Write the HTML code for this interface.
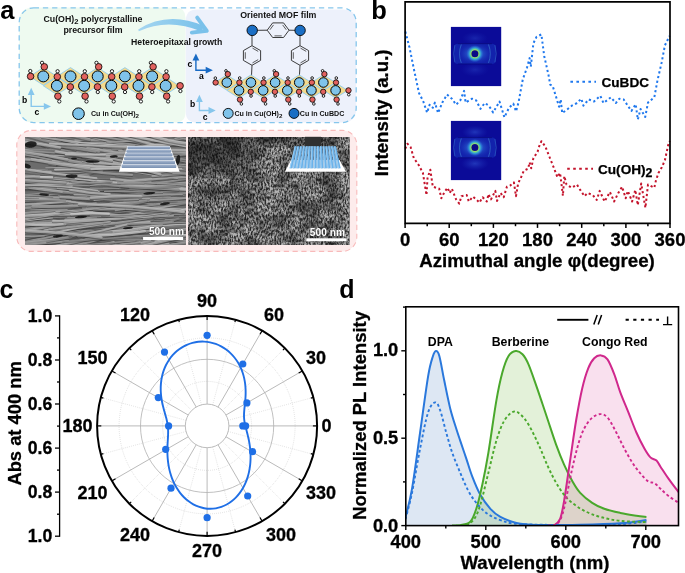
<!DOCTYPE html>
<html><head><meta charset="utf-8"><title>figure</title>
<style>
html,body{margin:0;padding:0;background:#fff;}
body{width:685px;height:573px;overflow:hidden;font-family:"Liberation Sans",sans-serif;}
svg{display:block;}
text{font-family:"Liberation Sans",sans-serif;}
</style></head><body>
<svg width="685" height="573" viewBox="0 0 685 573">
<rect x="0" y="0" width="685" height="573" fill="#ffffff"/>
<g id="pa">
<path d="M33.5 7.6 H175 Q185.5 7.6 185.5 18 V112 Q185.5 122.6 175 122.6 H33.5 Q19.2 122.6 19.2 108.6 V21.6 Q19.2 7.6 33.5 7.6Z" fill="#eefaf0"/>
<path d="M197 9.6 H343 Q356.2 9.6 356.2 22 V108.6 Q356.2 122.6 342.2 122.6 H197 Q185.8 122.6 185.8 112 V21 Q185.8 9.6 197 9.6Z" fill="#edf1fb"/>
<rect x="19.2" y="7.8" width="337" height="114.8" rx="14.5" fill="none" stroke="#86c6ec" stroke-width="1.3" stroke-dasharray="5.3 3.9"/>
<g font-family="Liberation Sans, sans-serif" font-weight="bold" fill="#111" text-anchor="middle">
<text x="93" y="22.2" font-size="8.8">Cu(OH)<tspan dy="2.2" font-size="7.6">2</tspan><tspan dy="-2.2"> polycrystalline</tspan></text>
<text x="93" y="32.5" font-size="8.8">precursor film</text>
<text x="176.7" y="45.3" font-size="8.7">Heteroepitaxal growth</text>
<text x="278.3" y="18.2" font-size="8.8">Oriented MOF film</text>
</g>
<defs><linearGradient id="ag" x1="0" x2="1" y1="0" y2="0"><stop offset="0" stop-color="#a5d6f0"/><stop offset="1" stop-color="#78c0ea"/></linearGradient></defs>
<path d="M138.2 29.4 Q168 10.6 204 26 L201.6 31.4 Q168 17.6 138.8 31.2Z" fill="url(#ag)"/>
<path d="M197.2 17.6 L206.8 30.8 L191.8 32.6" fill="none" stroke="#7ac1ea" stroke-width="3.9" stroke-linecap="round" stroke-linejoin="round"/>
<path d="M29.70 76.40 L43.30 67.60 L56.90 76.40 L43.30 85.20Z" fill="#f3da8e" stroke="#8fcdf0" stroke-width="0.9" stroke-linejoin="round"/>
<path d="M56.90 76.40 L70.50 67.60 L84.10 76.40 L70.50 85.20Z" fill="#f3da8e" stroke="#8fcdf0" stroke-width="0.9" stroke-linejoin="round"/>
<path d="M84.10 76.40 L97.70 67.60 L111.30 76.40 L97.70 85.20Z" fill="#f3da8e" stroke="#8fcdf0" stroke-width="0.9" stroke-linejoin="round"/>
<path d="M111.30 76.40 L124.90 67.60 L138.50 76.40 L124.90 85.20Z" fill="#f3da8e" stroke="#8fcdf0" stroke-width="0.9" stroke-linejoin="round"/>
<path d="M138.50 76.40 L152.10 67.60 L165.70 76.40 L152.10 85.20Z" fill="#f3da8e" stroke="#8fcdf0" stroke-width="0.9" stroke-linejoin="round"/>
<path d="M43.30 85.80 L56.90 77.00 L70.50 85.80 L56.90 94.60Z" fill="#f3da8e" stroke="#8fcdf0" stroke-width="0.9" stroke-linejoin="round"/>
<path d="M70.50 85.80 L84.10 77.00 L97.70 85.80 L84.10 94.60Z" fill="#f3da8e" stroke="#8fcdf0" stroke-width="0.9" stroke-linejoin="round"/>
<path d="M97.70 85.80 L111.30 77.00 L124.90 85.80 L111.30 94.60Z" fill="#f3da8e" stroke="#8fcdf0" stroke-width="0.9" stroke-linejoin="round"/>
<path d="M124.90 85.80 L138.50 77.00 L152.10 85.80 L138.50 94.60Z" fill="#f3da8e" stroke="#8fcdf0" stroke-width="0.9" stroke-linejoin="round"/>
<path d="M152.10 85.80 L165.70 77.00 L179.30 85.80 L165.70 94.60Z" fill="#f3da8e" stroke="#8fcdf0" stroke-width="0.9" stroke-linejoin="round"/>
<circle cx="30.30" cy="71.05" r="1.65" fill="#fff" stroke="#000" stroke-width="0.85"/>
<circle cx="57.60" cy="71.25" r="1.65" fill="#fff" stroke="#000" stroke-width="0.85"/>
<circle cx="59.30" cy="101.45" r="1.65" fill="#fff" stroke="#000" stroke-width="0.85"/>
<circle cx="84.80" cy="71.25" r="1.65" fill="#fff" stroke="#000" stroke-width="0.85"/>
<circle cx="86.50" cy="101.45" r="1.65" fill="#fff" stroke="#000" stroke-width="0.85"/>
<circle cx="112.00" cy="71.25" r="1.65" fill="#fff" stroke="#000" stroke-width="0.85"/>
<circle cx="113.70" cy="101.45" r="1.65" fill="#fff" stroke="#000" stroke-width="0.85"/>
<circle cx="139.20" cy="71.25" r="1.65" fill="#fff" stroke="#000" stroke-width="0.85"/>
<circle cx="140.90" cy="101.45" r="1.65" fill="#fff" stroke="#000" stroke-width="0.85"/>
<circle cx="166.40" cy="71.25" r="1.65" fill="#fff" stroke="#000" stroke-width="0.85"/>
<circle cx="168.10" cy="101.45" r="1.65" fill="#fff" stroke="#000" stroke-width="0.85"/>
<circle cx="70.60" cy="92.05" r="1.65" fill="#fff" stroke="#000" stroke-width="0.85"/>
<circle cx="97.80" cy="92.05" r="1.65" fill="#fff" stroke="#000" stroke-width="0.85"/>
<circle cx="125.00" cy="92.05" r="1.65" fill="#fff" stroke="#000" stroke-width="0.85"/>
<circle cx="152.20" cy="92.05" r="1.65" fill="#fff" stroke="#000" stroke-width="0.85"/>
<circle cx="180.40" cy="91.05" r="1.65" fill="#fff" stroke="#000" stroke-width="0.85"/>
<circle cx="42.06" cy="62.84" r="1.65" fill="#fff" stroke="#000" stroke-width="0.85"/>
<circle cx="96.46" cy="62.84" r="1.65" fill="#fff" stroke="#000" stroke-width="0.85"/>
<circle cx="150.86" cy="62.84" r="1.65" fill="#fff" stroke="#000" stroke-width="0.85"/>
<circle cx="30.60" cy="76.40" r="3.30" fill="#e2625f" stroke="#000" stroke-width="0.8"/>
<circle cx="57.30" cy="76.70" r="3.30" fill="#e2625f" stroke="#000" stroke-width="0.8"/>
<circle cx="57.90" cy="96.20" r="3.30" fill="#e2625f" stroke="#000" stroke-width="0.8"/>
<circle cx="84.50" cy="76.70" r="3.30" fill="#e2625f" stroke="#000" stroke-width="0.8"/>
<circle cx="85.10" cy="96.20" r="3.30" fill="#e2625f" stroke="#000" stroke-width="0.8"/>
<circle cx="111.70" cy="76.70" r="3.30" fill="#e2625f" stroke="#000" stroke-width="0.8"/>
<circle cx="112.30" cy="96.20" r="3.30" fill="#e2625f" stroke="#000" stroke-width="0.8"/>
<circle cx="138.90" cy="76.70" r="3.30" fill="#e2625f" stroke="#000" stroke-width="0.8"/>
<circle cx="139.50" cy="96.20" r="3.30" fill="#e2625f" stroke="#000" stroke-width="0.8"/>
<circle cx="166.10" cy="76.70" r="3.30" fill="#e2625f" stroke="#000" stroke-width="0.8"/>
<circle cx="166.70" cy="96.20" r="3.30" fill="#e2625f" stroke="#000" stroke-width="0.8"/>
<circle cx="70.30" cy="86.90" r="3.30" fill="#e2625f" stroke="#000" stroke-width="0.8"/>
<circle cx="97.50" cy="86.90" r="3.30" fill="#e2625f" stroke="#000" stroke-width="0.8"/>
<circle cx="124.70" cy="86.90" r="3.30" fill="#e2625f" stroke="#000" stroke-width="0.8"/>
<circle cx="151.90" cy="86.90" r="3.30" fill="#e2625f" stroke="#000" stroke-width="0.8"/>
<circle cx="180.10" cy="85.80" r="3.30" fill="#e2625f" stroke="#000" stroke-width="0.8"/>
<circle cx="44.30" cy="66.80" r="3.30" fill="#e2625f" stroke="#000" stroke-width="0.8"/>
<circle cx="98.70" cy="66.80" r="3.30" fill="#e2625f" stroke="#000" stroke-width="0.8"/>
<circle cx="153.10" cy="66.80" r="3.30" fill="#e2625f" stroke="#000" stroke-width="0.8"/>
<circle cx="43.30" cy="76.40" r="5.50" fill="#7fc3ea" stroke="#000" stroke-width="1"/>
<circle cx="70.50" cy="76.40" r="5.50" fill="#7fc3ea" stroke="#000" stroke-width="1"/>
<circle cx="97.70" cy="76.40" r="5.50" fill="#7fc3ea" stroke="#000" stroke-width="1"/>
<circle cx="124.90" cy="76.40" r="5.50" fill="#7fc3ea" stroke="#000" stroke-width="1"/>
<circle cx="152.10" cy="76.40" r="5.50" fill="#7fc3ea" stroke="#000" stroke-width="1"/>
<circle cx="56.90" cy="85.80" r="5.50" fill="#7fc3ea" stroke="#000" stroke-width="1"/>
<circle cx="84.10" cy="85.80" r="5.50" fill="#7fc3ea" stroke="#000" stroke-width="1"/>
<circle cx="111.30" cy="85.80" r="5.50" fill="#7fc3ea" stroke="#000" stroke-width="1"/>
<circle cx="138.50" cy="85.80" r="5.50" fill="#7fc3ea" stroke="#000" stroke-width="1"/>
<circle cx="165.70" cy="85.80" r="5.50" fill="#7fc3ea" stroke="#000" stroke-width="1"/>
<path d="M31.2 92.8 V106.4 H46.0" fill="none" stroke="#86c6ec" stroke-width="1.4"/>
<path d="M31.2 87.8 l-3.4 7.2 h6.8z" fill="#86c6ec"/>
<path d="M51.0 106.4 l-7.2 -3.4 v6.8z" fill="#86c6ec"/>
<text x="24.6" y="102.6" font-family="Liberation Sans, sans-serif" font-weight="bold" font-size="8.6" fill="#000" text-anchor="middle">b</text>
<text x="36.8" y="115.4" font-family="Liberation Sans, sans-serif" font-weight="bold" font-size="8.6" fill="#000" text-anchor="middle">c</text>
<circle cx="78.5" cy="113.7" r="5.8" fill="#7fc3ea" stroke="#000" stroke-width="1"/>
<text x="91" y="116.4" font-family="Liberation Sans, sans-serif" font-weight="bold" font-size="7.1" fill="#111">Cu in Cu(OH)<tspan dy="1.9" font-size="6.2">2</tspan></text>
<g stroke="#333" stroke-width="0.95">
<line x1="252" y1="35" x2="252" y2="45.7"/><line x1="252" y1="65.3" x2="251.4" y2="78"/>
<line x1="300" y1="35" x2="300" y2="45.7"/><line x1="300" y1="65.3" x2="299.3" y2="78"/>
<line x1="257" y1="30.3" x2="267.2" y2="30.2"/><line x1="289" y1="30.2" x2="295" y2="30.3"/>
</g>
<path d="M252.00 45.70 L260.60 50.60 L260.60 60.40 L252.00 65.30 L243.40 60.40 L243.40 50.60Z" fill="none" stroke="#333" stroke-width="0.95" stroke-linejoin="round"/><line x1="252.50" y1="48.14" x2="258.20" y2="51.39" stroke="#333" stroke-width="0.8"/><line x1="258.20" y1="59.61" x2="252.50" y2="62.86" stroke="#333" stroke-width="0.8"/><line x1="245.29" y1="58.75" x2="245.29" y2="52.25" stroke="#333" stroke-width="0.8"/>
<path d="M300.00 45.70 L308.60 50.60 L308.60 60.40 L300.00 65.30 L291.40 60.40 L291.40 50.60Z" fill="none" stroke="#333" stroke-width="0.95" stroke-linejoin="round"/><line x1="300.50" y1="48.14" x2="306.20" y2="51.39" stroke="#333" stroke-width="0.8"/><line x1="306.20" y1="59.61" x2="300.50" y2="62.86" stroke="#333" stroke-width="0.8"/><line x1="293.29" y1="58.75" x2="293.29" y2="52.25" stroke="#333" stroke-width="0.8"/>
<path d="M267.20 30.20 L272.65 22.90 L283.55 22.90 L289.00 30.20 L283.55 37.50 L272.65 37.50Z" fill="none" stroke="#333" stroke-width="0.95" stroke-linejoin="round"/><line x1="269.92" y1="29.77" x2="273.53" y2="24.93" stroke="#333" stroke-width="0.8"/><line x1="282.67" y1="24.93" x2="286.28" y2="29.77" stroke="#333" stroke-width="0.8"/><line x1="281.71" y1="35.89" x2="274.49" y2="35.89" stroke="#333" stroke-width="0.8"/>
<path d="M214.73 82.50 L226.80 74.90 L238.88 82.50 L226.80 90.10Z" fill="#f3da8e" stroke="#8fcdf0" stroke-width="0.9" stroke-linejoin="round"/>
<path d="M238.88 82.50 L250.95 74.90 L263.03 82.50 L250.95 90.10Z" fill="#f3da8e" stroke="#8fcdf0" stroke-width="0.9" stroke-linejoin="round"/>
<path d="M263.03 82.50 L275.10 74.90 L287.18 82.50 L275.10 90.10Z" fill="#f3da8e" stroke="#8fcdf0" stroke-width="0.9" stroke-linejoin="round"/>
<path d="M287.18 82.50 L299.25 74.90 L311.32 82.50 L299.25 90.10Z" fill="#f3da8e" stroke="#8fcdf0" stroke-width="0.9" stroke-linejoin="round"/>
<path d="M311.32 82.50 L323.40 74.90 L335.47 82.50 L323.40 90.10Z" fill="#f3da8e" stroke="#8fcdf0" stroke-width="0.9" stroke-linejoin="round"/>
<path d="M226.93 90.40 L239.00 82.80 L251.07 90.40 L239.00 98.00Z" fill="#f3da8e" stroke="#8fcdf0" stroke-width="0.9" stroke-linejoin="round"/>
<path d="M251.07 90.40 L263.15 82.80 L275.22 90.40 L263.15 98.00Z" fill="#f3da8e" stroke="#8fcdf0" stroke-width="0.9" stroke-linejoin="round"/>
<path d="M275.23 90.40 L287.30 82.80 L299.38 90.40 L287.30 98.00Z" fill="#f3da8e" stroke="#8fcdf0" stroke-width="0.9" stroke-linejoin="round"/>
<path d="M299.38 90.40 L311.45 82.80 L323.52 90.40 L311.45 98.00Z" fill="#f3da8e" stroke="#8fcdf0" stroke-width="0.9" stroke-linejoin="round"/>
<path d="M323.53 90.40 L335.60 82.80 L347.68 90.40 L335.60 98.00Z" fill="#f3da8e" stroke="#8fcdf0" stroke-width="0.9" stroke-linejoin="round"/>
<circle cx="215.33" cy="78.10" r="1.30" fill="#fff" stroke="#000" stroke-width="0.85"/>
<circle cx="239.70" cy="78.00" r="1.30" fill="#fff" stroke="#000" stroke-width="0.85"/>
<circle cx="241.40" cy="103.90" r="1.30" fill="#fff" stroke="#000" stroke-width="0.85"/>
<circle cx="263.85" cy="78.00" r="1.30" fill="#fff" stroke="#000" stroke-width="0.85"/>
<circle cx="265.55" cy="103.90" r="1.30" fill="#fff" stroke="#000" stroke-width="0.85"/>
<circle cx="288.00" cy="78.00" r="1.30" fill="#fff" stroke="#000" stroke-width="0.85"/>
<circle cx="289.70" cy="103.90" r="1.30" fill="#fff" stroke="#000" stroke-width="0.85"/>
<circle cx="312.15" cy="78.00" r="1.30" fill="#fff" stroke="#000" stroke-width="0.85"/>
<circle cx="313.85" cy="103.90" r="1.30" fill="#fff" stroke="#000" stroke-width="0.85"/>
<circle cx="336.30" cy="78.00" r="1.30" fill="#fff" stroke="#000" stroke-width="0.85"/>
<circle cx="338.00" cy="103.90" r="1.30" fill="#fff" stroke="#000" stroke-width="0.85"/>
<circle cx="251.05" cy="96.00" r="1.30" fill="#fff" stroke="#000" stroke-width="0.85"/>
<circle cx="275.20" cy="96.00" r="1.30" fill="#fff" stroke="#000" stroke-width="0.85"/>
<circle cx="299.35" cy="96.00" r="1.30" fill="#fff" stroke="#000" stroke-width="0.85"/>
<circle cx="323.50" cy="96.00" r="1.30" fill="#fff" stroke="#000" stroke-width="0.85"/>
<circle cx="348.78" cy="94.70" r="1.30" fill="#fff" stroke="#000" stroke-width="0.85"/>
<circle cx="225.96" cy="70.86" r="1.30" fill="#fff" stroke="#000" stroke-width="0.85"/>
<circle cx="274.26" cy="70.86" r="1.30" fill="#fff" stroke="#000" stroke-width="0.85"/>
<circle cx="322.56" cy="70.86" r="1.30" fill="#fff" stroke="#000" stroke-width="0.85"/>
<circle cx="215.63" cy="82.50" r="2.70" fill="#e2625f" stroke="#000" stroke-width="0.8"/>
<circle cx="239.40" cy="82.50" r="2.70" fill="#e2625f" stroke="#000" stroke-width="0.8"/>
<circle cx="240.00" cy="99.60" r="2.70" fill="#e2625f" stroke="#000" stroke-width="0.8"/>
<circle cx="263.55" cy="82.50" r="2.70" fill="#e2625f" stroke="#000" stroke-width="0.8"/>
<circle cx="264.15" cy="99.60" r="2.70" fill="#e2625f" stroke="#000" stroke-width="0.8"/>
<circle cx="287.70" cy="82.50" r="2.70" fill="#e2625f" stroke="#000" stroke-width="0.8"/>
<circle cx="288.30" cy="99.60" r="2.70" fill="#e2625f" stroke="#000" stroke-width="0.8"/>
<circle cx="311.85" cy="82.50" r="2.70" fill="#e2625f" stroke="#000" stroke-width="0.8"/>
<circle cx="312.45" cy="99.60" r="2.70" fill="#e2625f" stroke="#000" stroke-width="0.8"/>
<circle cx="336.00" cy="82.50" r="2.70" fill="#e2625f" stroke="#000" stroke-width="0.8"/>
<circle cx="336.60" cy="99.60" r="2.70" fill="#e2625f" stroke="#000" stroke-width="0.8"/>
<circle cx="250.75" cy="91.80" r="2.70" fill="#e2625f" stroke="#000" stroke-width="0.8"/>
<circle cx="274.90" cy="91.80" r="2.70" fill="#e2625f" stroke="#000" stroke-width="0.8"/>
<circle cx="299.05" cy="91.80" r="2.70" fill="#e2625f" stroke="#000" stroke-width="0.8"/>
<circle cx="323.20" cy="91.80" r="2.70" fill="#e2625f" stroke="#000" stroke-width="0.8"/>
<circle cx="348.48" cy="90.40" r="2.70" fill="#e2625f" stroke="#000" stroke-width="0.8"/>
<circle cx="227.80" cy="74.10" r="2.70" fill="#e2625f" stroke="#000" stroke-width="0.8"/>
<circle cx="276.10" cy="74.10" r="2.70" fill="#e2625f" stroke="#000" stroke-width="0.8"/>
<circle cx="324.40" cy="74.10" r="2.70" fill="#e2625f" stroke="#000" stroke-width="0.8"/>
<circle cx="226.80" cy="82.50" r="4.80" fill="#7fc3ea" stroke="#000" stroke-width="1"/>
<circle cx="250.95" cy="82.50" r="4.80" fill="#7fc3ea" stroke="#000" stroke-width="1"/>
<circle cx="275.10" cy="82.50" r="4.80" fill="#7fc3ea" stroke="#000" stroke-width="1"/>
<circle cx="299.25" cy="82.50" r="4.80" fill="#7fc3ea" stroke="#000" stroke-width="1"/>
<circle cx="323.40" cy="82.50" r="4.80" fill="#7fc3ea" stroke="#000" stroke-width="1"/>
<circle cx="239.00" cy="90.40" r="4.80" fill="#7fc3ea" stroke="#000" stroke-width="1"/>
<circle cx="263.15" cy="90.40" r="4.80" fill="#7fc3ea" stroke="#000" stroke-width="1"/>
<circle cx="287.30" cy="90.40" r="4.80" fill="#7fc3ea" stroke="#000" stroke-width="1"/>
<circle cx="311.45" cy="90.40" r="4.80" fill="#7fc3ea" stroke="#000" stroke-width="1"/>
<circle cx="335.60" cy="90.40" r="4.80" fill="#7fc3ea" stroke="#000" stroke-width="1"/>
<circle cx="252.2" cy="30.4" r="5.2" fill="#1a6ec4" stroke="#000" stroke-width="0.9"/>
<circle cx="300.1" cy="30.4" r="5.2" fill="#1a6ec4" stroke="#000" stroke-width="0.9"/>
<path d="M195.9 58.4 V70.2 H207.9" fill="none" stroke="#186ac4" stroke-width="1.4"/>
<path d="M195.9 53.4 l-3.4 7.2 h6.8z" fill="#186ac4"/>
<path d="M212.9 70.2 l-7.2 -3.4 v6.8z" fill="#186ac4"/>
<text x="189.8" y="66.6" font-family="Liberation Sans, sans-serif" font-weight="bold" font-size="8.6" fill="#000" text-anchor="middle">c</text>
<text x="201.3" y="79.4" font-family="Liberation Sans, sans-serif" font-weight="bold" font-size="8.6" fill="#000" text-anchor="middle">a</text>
<path d="M199.4 99.7 V110.5 H210.7" fill="none" stroke="#86c6ec" stroke-width="1.4"/>
<path d="M199.4 94.7 l-3.4 7.2 h6.8z" fill="#86c6ec"/>
<path d="M215.7 110.5 l-7.2 -3.4 v6.8z" fill="#86c6ec"/>
<text x="192.7" y="107.0" font-family="Liberation Sans, sans-serif" font-weight="bold" font-size="8.6" fill="#000" text-anchor="middle">b</text>
<text x="205.2" y="120.2" font-family="Liberation Sans, sans-serif" font-weight="bold" font-size="8.6" fill="#000" text-anchor="middle">c</text>
<circle cx="228.2" cy="113.4" r="5" fill="#7fc3ea" stroke="#000" stroke-width="0.9"/>
<text x="234.4" y="116" font-family="Liberation Sans, sans-serif" font-weight="bold" font-size="7.1" fill="#111">Cu in Cu(OH)<tspan dy="1.9" font-size="6.2">2</tspan></text>
<circle cx="294" cy="113.4" r="5" fill="#1a6ec4" stroke="#000" stroke-width="0.9"/>
<text x="299.8" y="116" font-family="Liberation Sans, sans-serif" font-weight="bold" font-size="7.1" fill="#111">Cu in CuBDC</text>
<rect x="16.8" y="130.4" width="340" height="121" rx="14.5" fill="#fdecec" stroke="#f8baba" stroke-width="1.1" stroke-dasharray="5.2 3.6"/>
<defs><filter id="bl1" x="-5%" y="-5%" width="110%" height="110%"><feGaussianBlur stdDeviation="0.6"/></filter></defs>
<clipPath id="cl1"><rect x="24.9" y="136.9" width="161.1" height="108.2"/></clipPath>
<g clip-path="url(#cl1)">
<rect x="24.9" y="136.9" width="161.1" height="108.2" fill="#6c6c6c"/>
<g filter="url(#bl1)">
<path d="M1.2 218.0 Q41.6 216.2 81.7 210.6" fill="none" stroke="#383838" stroke-width="2.1" stroke-linecap="round" opacity="0.5"/>
<path d="M1.2 216.8 Q41.6 214.9 81.7 209.3" fill="none" stroke="rgb(119,119,119)" stroke-width="2.3" stroke-linecap="round"/>
<path d="M1.2 216.2 Q41.6 214.3 81.7 208.8" fill="none" stroke="rgb(145,145,145)" stroke-width="0.8" stroke-linecap="round" opacity="0.8"/>
<path d="M83.5 190.7 Q108.0 190.1 132.2 194.7" fill="none" stroke="#383838" stroke-width="1.8" stroke-linecap="round" opacity="0.5"/>
<path d="M83.5 189.6 Q108.0 189.0 132.2 193.6" fill="none" stroke="rgb(118,118,118)" stroke-width="2.0" stroke-linecap="round"/>
<path d="M83.5 189.1 Q108.0 188.5 132.2 193.1" fill="none" stroke="rgb(144,144,144)" stroke-width="0.7" stroke-linecap="round" opacity="0.8"/>
<path d="M138.6 153.1 Q160.8 163.3 184.5 169.2" fill="none" stroke="#383838" stroke-width="2.0" stroke-linecap="round" opacity="0.5"/>
<path d="M138.6 151.9 Q160.8 162.0 184.5 167.9" fill="none" stroke="rgb(130,130,130)" stroke-width="2.3" stroke-linecap="round"/>
<path d="M138.6 151.3 Q160.8 161.4 184.5 167.4" fill="none" stroke="rgb(156,156,156)" stroke-width="0.8" stroke-linecap="round" opacity="0.8"/>
<path d="M99.5 136.0 Q127.7 137.5 155.7 140.6" fill="none" stroke="#383838" stroke-width="2.4" stroke-linecap="round" opacity="0.5"/>
<path d="M99.5 134.5 Q127.7 136.1 155.7 139.2" fill="none" stroke="rgb(118,118,118)" stroke-width="2.6" stroke-linecap="round"/>
<path d="M99.5 133.9 Q127.7 135.4 155.7 138.5" fill="none" stroke="rgb(144,144,144)" stroke-width="0.9" stroke-linecap="round" opacity="0.8"/>
<path d="M19.5 228.8 Q39.5 228.0 59.5 229.1" fill="none" stroke="#383838" stroke-width="1.7" stroke-linecap="round" opacity="0.5"/>
<path d="M19.5 227.7 Q39.5 227.0 59.5 228.1" fill="none" stroke="rgb(112,112,112)" stroke-width="1.9" stroke-linecap="round"/>
<path d="M19.5 227.2 Q39.5 226.5 59.5 227.6" fill="none" stroke="rgb(138,138,138)" stroke-width="0.7" stroke-linecap="round" opacity="0.8"/>
<path d="M86.2 153.9 Q102.7 154.2 118.9 157.9" fill="none" stroke="#383838" stroke-width="2.1" stroke-linecap="round" opacity="0.5"/>
<path d="M86.2 152.6 Q102.7 152.9 118.9 156.6" fill="none" stroke="rgb(111,111,111)" stroke-width="2.3" stroke-linecap="round"/>
<path d="M86.2 152.0 Q102.7 152.3 118.9 156.1" fill="none" stroke="rgb(137,137,137)" stroke-width="0.8" stroke-linecap="round" opacity="0.8"/>
<path d="M150.0 241.6 Q194.9 235.8 240.1 234.4" fill="none" stroke="#383838" stroke-width="2.0" stroke-linecap="round" opacity="0.5"/>
<path d="M150.0 240.3 Q194.9 234.5 240.1 233.2" fill="none" stroke="rgb(101,101,101)" stroke-width="2.2" stroke-linecap="round"/>
<path d="M150.0 239.8 Q194.9 234.0 240.1 232.7" fill="none" stroke="rgb(127,127,127)" stroke-width="0.8" stroke-linecap="round" opacity="0.8"/>
<path d="M77.9 228.2 Q101.0 229.1 123.9 231.6" fill="none" stroke="#383838" stroke-width="1.5" stroke-linecap="round" opacity="0.5"/>
<path d="M77.9 227.3 Q101.0 228.2 123.9 230.7" fill="none" stroke="rgb(106,106,106)" stroke-width="1.7" stroke-linecap="round"/>
<path d="M41.4 177.1 Q96.1 179.7 150.9 179.6" fill="none" stroke="#383838" stroke-width="1.0" stroke-linecap="round" opacity="0.5"/>
<path d="M41.4 176.5 Q96.1 179.0 150.9 179.0" fill="none" stroke="rgb(120,120,120)" stroke-width="1.2" stroke-linecap="round"/>
<path d="M165.2 195.2 Q199.7 191.9 234.1 187.3" fill="none" stroke="#383838" stroke-width="1.2" stroke-linecap="round" opacity="0.5"/>
<path d="M165.2 194.5 Q199.7 191.2 234.1 186.6" fill="none" stroke="rgb(112,112,112)" stroke-width="1.4" stroke-linecap="round"/>
<path d="M94.0 206.4 Q116.3 205.7 138.5 207.0" fill="none" stroke="#383838" stroke-width="2.3" stroke-linecap="round" opacity="0.5"/>
<path d="M94.0 204.9 Q116.3 204.3 138.5 205.6" fill="none" stroke="rgb(129,129,129)" stroke-width="2.6" stroke-linecap="round"/>
<path d="M94.0 204.3 Q116.3 203.7 138.5 204.9" fill="none" stroke="rgb(155,155,155)" stroke-width="0.9" stroke-linecap="round" opacity="0.8"/>
<path d="M105.2 166.2 Q124.2 169.1 142.8 173.4" fill="none" stroke="#383838" stroke-width="2.1" stroke-linecap="round" opacity="0.5"/>
<path d="M105.2 165.0 Q124.2 167.8 142.8 172.1" fill="none" stroke="rgb(128,128,128)" stroke-width="2.3" stroke-linecap="round"/>
<path d="M105.2 164.4 Q124.2 167.2 142.8 171.5" fill="none" stroke="rgb(154,154,154)" stroke-width="0.8" stroke-linecap="round" opacity="0.8"/>
<path d="M89.6 210.7 Q140.4 215.7 191.4 215.1" fill="none" stroke="#383838" stroke-width="2.4" stroke-linecap="round" opacity="0.5"/>
<path d="M89.6 209.2 Q140.4 214.2 191.4 213.7" fill="none" stroke="rgb(115,115,115)" stroke-width="2.7" stroke-linecap="round"/>
<path d="M89.6 208.6 Q140.4 213.5 191.4 213.0" fill="none" stroke="rgb(141,141,141)" stroke-width="0.9" stroke-linecap="round" opacity="0.8"/>
<path d="M88.4 241.3 Q122.5 234.9 157.1 232.5" fill="none" stroke="#383838" stroke-width="2.2" stroke-linecap="round" opacity="0.5"/>
<path d="M88.4 239.9 Q122.5 233.5 157.1 231.1" fill="none" stroke="rgb(126,126,126)" stroke-width="2.5" stroke-linecap="round"/>
<path d="M88.4 239.3 Q122.5 232.9 157.1 230.5" fill="none" stroke="rgb(152,152,152)" stroke-width="0.9" stroke-linecap="round" opacity="0.8"/>
<path d="M-21.8 236.9 Q22.8 225.7 68.1 217.3" fill="none" stroke="#383838" stroke-width="1.0" stroke-linecap="round" opacity="0.5"/>
<path d="M-21.8 236.3 Q22.8 225.1 68.1 216.7" fill="none" stroke="rgb(122,122,122)" stroke-width="1.1" stroke-linecap="round"/>
<path d="M43.6 181.0 Q65.0 185.9 87.0 185.1" fill="none" stroke="#383838" stroke-width="2.3" stroke-linecap="round" opacity="0.5"/>
<path d="M43.6 179.6 Q65.0 184.5 87.0 183.7" fill="none" stroke="rgb(124,124,124)" stroke-width="2.5" stroke-linecap="round"/>
<path d="M43.6 179.0 Q65.0 183.9 87.0 183.0" fill="none" stroke="rgb(150,150,150)" stroke-width="0.9" stroke-linecap="round" opacity="0.8"/>
<path d="M127.5 187.1 Q152.7 187.0 177.4 192.5" fill="none" stroke="#383838" stroke-width="2.0" stroke-linecap="round" opacity="0.5"/>
<path d="M127.5 185.9 Q152.7 185.7 177.4 191.2" fill="none" stroke="rgb(115,115,115)" stroke-width="2.2" stroke-linecap="round"/>
<path d="M127.5 185.3 Q152.7 185.2 177.4 190.7" fill="none" stroke="rgb(141,141,141)" stroke-width="0.8" stroke-linecap="round" opacity="0.8"/>
<path d="M3.6 231.0 Q50.4 231.7 97.2 231.5" fill="none" stroke="#383838" stroke-width="1.6" stroke-linecap="round" opacity="0.5"/>
<path d="M3.6 230.1 Q50.4 230.8 97.2 230.5" fill="none" stroke="rgb(107,107,107)" stroke-width="1.7" stroke-linecap="round"/>
<path d="M3.6 229.7 Q50.4 230.4 97.2 230.1" fill="none" stroke="rgb(133,133,133)" stroke-width="0.6" stroke-linecap="round" opacity="0.8"/>
<path d="M135.9 168.0 Q172.2 170.4 208.6 170.5" fill="none" stroke="#383838" stroke-width="0.9" stroke-linecap="round" opacity="0.5"/>
<path d="M135.9 167.5 Q172.2 169.8 208.6 169.9" fill="none" stroke="rgb(141,141,141)" stroke-width="1.0" stroke-linecap="round"/>
<path d="M153.5 135.6 Q192.2 135.3 230.9 137.9" fill="none" stroke="#383838" stroke-width="1.8" stroke-linecap="round" opacity="0.5"/>
<path d="M153.5 134.5 Q192.2 134.2 230.9 136.8" fill="none" stroke="rgb(99,99,99)" stroke-width="2.0" stroke-linecap="round"/>
<path d="M153.5 134.0 Q192.2 133.7 230.9 136.3" fill="none" stroke="rgb(125,125,125)" stroke-width="0.7" stroke-linecap="round" opacity="0.8"/>
<path d="M36.3 249.0 Q87.2 242.1 138.5 240.9" fill="none" stroke="#383838" stroke-width="1.0" stroke-linecap="round" opacity="0.5"/>
<path d="M36.3 248.4 Q87.2 241.5 138.5 240.2" fill="none" stroke="rgb(124,124,124)" stroke-width="1.2" stroke-linecap="round"/>
<path d="M45.7 146.7 Q95.4 149.3 144.9 154.0" fill="none" stroke="#383838" stroke-width="1.7" stroke-linecap="round" opacity="0.5"/>
<path d="M45.7 145.6 Q95.4 148.2 144.9 152.9" fill="none" stroke="rgb(114,114,114)" stroke-width="1.9" stroke-linecap="round"/>
<path d="M45.7 145.1 Q95.4 147.7 144.9 152.4" fill="none" stroke="rgb(140,140,140)" stroke-width="0.7" stroke-linecap="round" opacity="0.8"/>
<path d="M82.8 157.3 Q104.2 159.9 125.8 162.0" fill="none" stroke="#383838" stroke-width="2.0" stroke-linecap="round" opacity="0.5"/>
<path d="M82.8 156.1 Q104.2 158.7 125.8 160.7" fill="none" stroke="rgb(131,131,131)" stroke-width="2.2" stroke-linecap="round"/>
<path d="M82.8 155.5 Q104.2 158.2 125.8 160.2" fill="none" stroke="rgb(157,157,157)" stroke-width="0.8" stroke-linecap="round" opacity="0.8"/>
<path d="M-31.2 217.1 Q18.7 215.8 68.7 215.0" fill="none" stroke="#383838" stroke-width="0.9" stroke-linecap="round" opacity="0.5"/>
<path d="M-31.2 216.6 Q18.7 215.3 68.7 214.4" fill="none" stroke="rgb(97,97,97)" stroke-width="1.0" stroke-linecap="round"/>
<path d="M0.1 224.4 Q22.0 221.8 44.0 221.3" fill="none" stroke="#383838" stroke-width="2.0" stroke-linecap="round" opacity="0.5"/>
<path d="M0.1 223.2 Q22.0 220.6 44.0 220.1" fill="none" stroke="rgb(110,110,110)" stroke-width="2.2" stroke-linecap="round"/>
<path d="M0.1 222.7 Q22.0 220.0 44.0 219.6" fill="none" stroke="rgb(136,136,136)" stroke-width="0.8" stroke-linecap="round" opacity="0.8"/>
<path d="M-9.4 176.7 Q17.9 179.4 45.2 181.5" fill="none" stroke="#383838" stroke-width="1.7" stroke-linecap="round" opacity="0.5"/>
<path d="M-9.4 175.7 Q17.9 178.4 45.2 180.5" fill="none" stroke="rgb(114,114,114)" stroke-width="1.9" stroke-linecap="round"/>
<path d="M-9.4 175.2 Q17.9 177.9 45.2 180.1" fill="none" stroke="rgb(140,140,140)" stroke-width="0.6" stroke-linecap="round" opacity="0.8"/>
<path d="M152.1 146.6 Q191.1 144.7 230.1 145.0" fill="none" stroke="#383838" stroke-width="2.4" stroke-linecap="round" opacity="0.5"/>
<path d="M152.1 145.2 Q191.1 143.2 230.1 143.5" fill="none" stroke="rgb(119,119,119)" stroke-width="2.6" stroke-linecap="round"/>
<path d="M152.1 144.5 Q191.1 142.6 230.1 142.9" fill="none" stroke="rgb(145,145,145)" stroke-width="0.9" stroke-linecap="round" opacity="0.8"/>
<path d="M106.5 190.4 Q143.7 194.6 180.6 200.5" fill="none" stroke="#383838" stroke-width="2.4" stroke-linecap="round" opacity="0.5"/>
<path d="M106.5 188.9 Q143.7 193.1 180.6 199.0" fill="none" stroke="rgb(130,130,130)" stroke-width="2.7" stroke-linecap="round"/>
<path d="M106.5 188.3 Q143.7 192.5 180.6 198.4" fill="none" stroke="rgb(156,156,156)" stroke-width="0.9" stroke-linecap="round" opacity="0.8"/>
<path d="M51.5 251.2 Q70.8 251.2 89.9 248.0" fill="none" stroke="#383838" stroke-width="2.1" stroke-linecap="round" opacity="0.5"/>
<path d="M51.5 249.9 Q70.8 249.9 89.9 246.7" fill="none" stroke="rgb(123,123,123)" stroke-width="2.4" stroke-linecap="round"/>
<path d="M51.5 249.3 Q70.8 249.3 89.9 246.1" fill="none" stroke="rgb(149,149,149)" stroke-width="0.8" stroke-linecap="round" opacity="0.8"/>
<path d="M79.8 207.3 Q95.5 205.5 111.3 205.0" fill="none" stroke="#383838" stroke-width="1.7" stroke-linecap="round" opacity="0.5"/>
<path d="M79.8 206.3 Q95.5 204.4 111.3 204.0" fill="none" stroke="rgb(109,109,109)" stroke-width="1.9" stroke-linecap="round"/>
<path d="M79.8 205.8 Q95.5 204.0 111.3 203.5" fill="none" stroke="rgb(135,135,135)" stroke-width="0.7" stroke-linecap="round" opacity="0.8"/>
<path d="M69.7 159.9 Q86.6 162.2 103.6 160.7" fill="none" stroke="#383838" stroke-width="2.0" stroke-linecap="round" opacity="0.5"/>
<path d="M69.7 158.7 Q86.6 161.0 103.6 159.5" fill="none" stroke="rgb(124,124,124)" stroke-width="2.2" stroke-linecap="round"/>
<path d="M69.7 158.2 Q86.6 160.5 103.6 158.9" fill="none" stroke="rgb(150,150,150)" stroke-width="0.8" stroke-linecap="round" opacity="0.8"/>
<path d="M123.8 188.2 Q148.3 189.8 172.6 185.8" fill="none" stroke="#383838" stroke-width="1.9" stroke-linecap="round" opacity="0.5"/>
<path d="M123.8 187.1 Q148.3 188.7 172.6 184.7" fill="none" stroke="rgb(131,131,131)" stroke-width="2.1" stroke-linecap="round"/>
<path d="M123.8 186.6 Q148.3 188.1 172.6 184.2" fill="none" stroke="rgb(157,157,157)" stroke-width="0.7" stroke-linecap="round" opacity="0.8"/>
<path d="M-8.4 190.6 Q26.2 190.7 60.9 189.2" fill="none" stroke="#383838" stroke-width="2.1" stroke-linecap="round" opacity="0.5"/>
<path d="M-8.4 189.3 Q26.2 189.4 60.9 187.9" fill="none" stroke="rgb(94,94,94)" stroke-width="2.3" stroke-linecap="round"/>
<path d="M-8.4 188.8 Q26.2 188.8 60.9 187.4" fill="none" stroke="rgb(120,120,120)" stroke-width="0.8" stroke-linecap="round" opacity="0.8"/>
<path d="M105.6 214.7 Q155.0 213.8 204.1 207.9" fill="none" stroke="#383838" stroke-width="1.3" stroke-linecap="round" opacity="0.5"/>
<path d="M105.6 214.0 Q155.0 213.0 204.1 207.1" fill="none" stroke="rgb(102,102,102)" stroke-width="1.4" stroke-linecap="round"/>
<path d="M36.7 194.8 Q83.9 203.8 130.6 214.9" fill="none" stroke="#383838" stroke-width="0.9" stroke-linecap="round" opacity="0.5"/>
<path d="M36.7 194.3 Q83.9 203.2 130.6 214.4" fill="none" stroke="rgb(112,112,112)" stroke-width="1.0" stroke-linecap="round"/>
<path d="M48.7 179.1 Q69.5 181.9 90.3 179.3" fill="none" stroke="#383838" stroke-width="1.4" stroke-linecap="round" opacity="0.5"/>
<path d="M48.7 178.3 Q69.5 181.0 90.3 178.5" fill="none" stroke="rgb(119,119,119)" stroke-width="1.5" stroke-linecap="round"/>
<path d="M132.6 184.8 Q151.9 186.4 170.9 190.0" fill="none" stroke="#383838" stroke-width="1.2" stroke-linecap="round" opacity="0.5"/>
<path d="M132.6 184.0 Q151.9 185.6 170.9 189.2" fill="none" stroke="rgb(116,116,116)" stroke-width="1.3" stroke-linecap="round"/>
<path d="M107.1 212.1 Q132.4 215.0 157.9 213.7" fill="none" stroke="#383838" stroke-width="1.3" stroke-linecap="round" opacity="0.5"/>
<path d="M107.1 211.3 Q132.4 214.2 157.9 212.9" fill="none" stroke="rgb(118,118,118)" stroke-width="1.4" stroke-linecap="round"/>
<path d="M16.3 215.0 Q39.4 215.6 62.1 211.0" fill="none" stroke="#383838" stroke-width="1.5" stroke-linecap="round" opacity="0.5"/>
<path d="M16.3 214.1 Q39.4 214.7 62.1 210.1" fill="none" stroke="rgb(115,115,115)" stroke-width="1.6" stroke-linecap="round"/>
<path d="M59.5 184.0 Q99.2 183.2 138.8 185.2" fill="none" stroke="#383838" stroke-width="1.5" stroke-linecap="round" opacity="0.5"/>
<path d="M59.5 183.1 Q99.2 182.3 138.8 184.3" fill="none" stroke="rgb(129,129,129)" stroke-width="1.7" stroke-linecap="round"/>
<path d="M29.5 246.3 Q45.8 242.9 62.3 245.2" fill="none" stroke="#383838" stroke-width="2.0" stroke-linecap="round" opacity="0.5"/>
<path d="M29.5 245.1 Q45.8 241.7 62.3 244.0" fill="none" stroke="rgb(93,93,93)" stroke-width="2.2" stroke-linecap="round"/>
<path d="M29.5 244.6 Q45.8 241.1 62.3 243.4" fill="none" stroke="rgb(119,119,119)" stroke-width="0.8" stroke-linecap="round" opacity="0.8"/>
<path d="M66.6 134.0 Q105.7 138.3 144.8 142.1" fill="none" stroke="#383838" stroke-width="0.9" stroke-linecap="round" opacity="0.5"/>
<path d="M66.6 133.4 Q105.7 137.7 144.8 141.5" fill="none" stroke="rgb(112,112,112)" stroke-width="1.0" stroke-linecap="round"/>
<path d="M-5.0 165.7 Q27.8 171.2 60.9 173.3" fill="none" stroke="#383838" stroke-width="1.1" stroke-linecap="round" opacity="0.5"/>
<path d="M-5.0 165.0 Q27.8 170.5 60.9 172.6" fill="none" stroke="rgb(114,114,114)" stroke-width="1.2" stroke-linecap="round"/>
<path d="M150.1 194.9 Q167.1 193.8 184.0 196.0" fill="none" stroke="#383838" stroke-width="1.7" stroke-linecap="round" opacity="0.5"/>
<path d="M150.1 193.9 Q167.1 192.8 184.0 195.0" fill="none" stroke="rgb(134,134,134)" stroke-width="1.9" stroke-linecap="round"/>
<path d="M150.1 193.4 Q167.1 192.3 184.0 194.5" fill="none" stroke="rgb(160,160,160)" stroke-width="0.7" stroke-linecap="round" opacity="0.8"/>
<path d="M111.3 235.3 Q163.1 229.5 215.1 228.7" fill="none" stroke="#383838" stroke-width="1.8" stroke-linecap="round" opacity="0.5"/>
<path d="M111.3 234.2 Q163.1 228.4 215.1 227.6" fill="none" stroke="rgb(120,120,120)" stroke-width="2.0" stroke-linecap="round"/>
<path d="M111.3 233.7 Q163.1 227.9 215.1 227.1" fill="none" stroke="rgb(146,146,146)" stroke-width="0.7" stroke-linecap="round" opacity="0.8"/>
<path d="M136.5 222.9 Q181.9 221.6 227.2 219.1" fill="none" stroke="#383838" stroke-width="2.1" stroke-linecap="round" opacity="0.5"/>
<path d="M136.5 221.6 Q181.9 220.3 227.2 217.8" fill="none" stroke="rgb(126,126,126)" stroke-width="2.4" stroke-linecap="round"/>
<path d="M136.5 221.0 Q181.9 219.7 227.2 217.2" fill="none" stroke="rgb(152,152,152)" stroke-width="0.8" stroke-linecap="round" opacity="0.8"/>
<path d="M81.4 189.3 Q128.4 187.3 175.4 187.7" fill="none" stroke="#383838" stroke-width="1.4" stroke-linecap="round" opacity="0.5"/>
<path d="M81.4 188.4 Q128.4 186.4 175.4 186.8" fill="none" stroke="rgb(131,131,131)" stroke-width="1.6" stroke-linecap="round"/>
<path d="M111.9 237.5 Q129.7 235.7 147.6 237.5" fill="none" stroke="#383838" stroke-width="1.9" stroke-linecap="round" opacity="0.5"/>
<path d="M111.9 236.3 Q129.7 234.5 147.6 236.3" fill="none" stroke="rgb(129,129,129)" stroke-width="2.2" stroke-linecap="round"/>
<path d="M111.9 235.8 Q129.7 233.9 147.6 235.8" fill="none" stroke="rgb(155,155,155)" stroke-width="0.8" stroke-linecap="round" opacity="0.8"/>
<path d="M45.0 140.9 Q61.5 138.8 78.0 140.8" fill="none" stroke="#383838" stroke-width="1.9" stroke-linecap="round" opacity="0.5"/>
<path d="M45.0 139.8 Q61.5 137.7 78.0 139.7" fill="none" stroke="rgb(123,123,123)" stroke-width="2.1" stroke-linecap="round"/>
<path d="M45.0 139.2 Q61.5 137.1 78.0 139.2" fill="none" stroke="rgb(149,149,149)" stroke-width="0.7" stroke-linecap="round" opacity="0.8"/>
<path d="M-6.0 249.5 Q29.8 242.4 65.6 235.1" fill="none" stroke="#383838" stroke-width="2.0" stroke-linecap="round" opacity="0.5"/>
<path d="M-6.0 248.2 Q29.8 241.2 65.6 233.9" fill="none" stroke="rgb(133,133,133)" stroke-width="2.2" stroke-linecap="round"/>
<path d="M-6.0 247.7 Q29.8 240.7 65.6 233.3" fill="none" stroke="rgb(159,159,159)" stroke-width="0.8" stroke-linecap="round" opacity="0.8"/>
<path d="M1.3 230.1 Q24.9 230.8 48.4 230.1" fill="none" stroke="#383838" stroke-width="1.7" stroke-linecap="round" opacity="0.5"/>
<path d="M1.3 229.0 Q24.9 229.8 48.4 229.0" fill="none" stroke="rgb(126,126,126)" stroke-width="1.9" stroke-linecap="round"/>
<path d="M1.3 228.6 Q24.9 229.3 48.4 228.5" fill="none" stroke="rgb(152,152,152)" stroke-width="0.7" stroke-linecap="round" opacity="0.8"/>
<path d="M8.4 215.3 Q43.1 219.1 77.9 218.0" fill="none" stroke="#383838" stroke-width="2.1" stroke-linecap="round" opacity="0.5"/>
<path d="M8.4 214.0 Q43.1 217.8 77.9 216.7" fill="none" stroke="rgb(144,144,144)" stroke-width="2.4" stroke-linecap="round"/>
<path d="M8.4 213.4 Q43.1 217.2 77.9 216.1" fill="none" stroke="rgb(170,170,170)" stroke-width="0.8" stroke-linecap="round" opacity="0.8"/>
<path d="M94.2 152.3 Q139.3 162.3 185.3 166.8" fill="none" stroke="#383838" stroke-width="2.3" stroke-linecap="round" opacity="0.5"/>
<path d="M94.2 150.9 Q139.3 160.9 185.3 165.4" fill="none" stroke="rgb(113,113,113)" stroke-width="2.5" stroke-linecap="round"/>
<path d="M94.2 150.3 Q139.3 160.3 185.3 164.7" fill="none" stroke="rgb(139,139,139)" stroke-width="0.9" stroke-linecap="round" opacity="0.8"/>
<path d="M32.2 248.2 Q84.5 243.9 136.7 238.2" fill="none" stroke="#383838" stroke-width="1.4" stroke-linecap="round" opacity="0.5"/>
<path d="M32.2 247.4 Q84.5 243.0 136.7 237.3" fill="none" stroke="rgb(121,121,121)" stroke-width="1.6" stroke-linecap="round"/>
<path d="M85.1 220.0 Q125.8 224.0 166.8 223.5" fill="none" stroke="#383838" stroke-width="1.7" stroke-linecap="round" opacity="0.5"/>
<path d="M85.1 219.0 Q125.8 223.0 166.8 222.4" fill="none" stroke="rgb(148,148,148)" stroke-width="1.9" stroke-linecap="round"/>
<path d="M85.1 218.5 Q125.8 222.5 166.8 222.0" fill="none" stroke="rgb(174,174,174)" stroke-width="0.7" stroke-linecap="round" opacity="0.8"/>
<path d="M12.4 253.7 Q49.3 249.4 86.5 246.8" fill="none" stroke="#383838" stroke-width="2.3" stroke-linecap="round" opacity="0.5"/>
<path d="M12.4 252.3 Q49.3 248.1 86.5 245.5" fill="none" stroke="rgb(102,102,102)" stroke-width="2.5" stroke-linecap="round"/>
<path d="M12.4 251.7 Q49.3 247.4 86.5 244.8" fill="none" stroke="rgb(128,128,128)" stroke-width="0.9" stroke-linecap="round" opacity="0.8"/>
<path d="M3.7 183.3 Q25.5 178.7 47.7 178.5" fill="none" stroke="#383838" stroke-width="1.5" stroke-linecap="round" opacity="0.5"/>
<path d="M3.7 182.4 Q25.5 177.8 47.7 177.6" fill="none" stroke="rgb(117,117,117)" stroke-width="1.6" stroke-linecap="round"/>
<path d="M-22.8 177.4 Q15.4 180.5 52.9 188.2" fill="none" stroke="#383838" stroke-width="1.2" stroke-linecap="round" opacity="0.5"/>
<path d="M-22.8 176.6 Q15.4 179.7 52.9 187.5" fill="none" stroke="rgb(126,126,126)" stroke-width="1.4" stroke-linecap="round"/>
<path d="M136.4 196.3 Q187.2 194.0 238.0 192.6" fill="none" stroke="#383838" stroke-width="1.3" stroke-linecap="round" opacity="0.5"/>
<path d="M136.4 195.6 Q187.2 193.2 238.0 191.8" fill="none" stroke="rgb(123,123,123)" stroke-width="1.4" stroke-linecap="round"/>
<path d="M87.5 227.6 Q132.3 222.7 177.2 219.3" fill="none" stroke="#383838" stroke-width="1.6" stroke-linecap="round" opacity="0.5"/>
<path d="M87.5 226.6 Q132.3 221.7 177.2 218.3" fill="none" stroke="rgb(115,115,115)" stroke-width="1.7" stroke-linecap="round"/>
<path d="M87.5 226.2 Q132.3 221.3 177.2 217.9" fill="none" stroke="rgb(141,141,141)" stroke-width="0.6" stroke-linecap="round" opacity="0.8"/>
<path d="M67.0 163.4 Q103.4 165.6 139.9 166.7" fill="none" stroke="#383838" stroke-width="2.2" stroke-linecap="round" opacity="0.5"/>
<path d="M67.0 162.1 Q103.4 164.3 139.9 165.4" fill="none" stroke="rgb(124,124,124)" stroke-width="2.4" stroke-linecap="round"/>
<path d="M67.0 161.5 Q103.4 163.7 139.9 164.8" fill="none" stroke="rgb(150,150,150)" stroke-width="0.8" stroke-linecap="round" opacity="0.8"/>
<path d="M119.1 218.2 Q163.4 216.4 207.5 220.6" fill="none" stroke="#383838" stroke-width="1.5" stroke-linecap="round" opacity="0.5"/>
<path d="M119.1 217.3 Q163.4 215.5 207.5 219.7" fill="none" stroke="rgb(123,123,123)" stroke-width="1.7" stroke-linecap="round"/>
<path d="M98.8 199.7 Q136.8 202.6 174.9 202.8" fill="none" stroke="#383838" stroke-width="1.2" stroke-linecap="round" opacity="0.5"/>
<path d="M98.8 198.9 Q136.8 201.9 174.9 202.0" fill="none" stroke="rgb(124,124,124)" stroke-width="1.4" stroke-linecap="round"/>
<path d="M148.0 191.5 Q165.1 189.8 182.3 188.5" fill="none" stroke="#383838" stroke-width="1.7" stroke-linecap="round" opacity="0.5"/>
<path d="M148.0 190.5 Q165.1 188.8 182.3 187.5" fill="none" stroke="rgb(141,141,141)" stroke-width="1.8" stroke-linecap="round"/>
<path d="M148.0 190.1 Q165.1 188.3 182.3 187.0" fill="none" stroke="rgb(167,167,167)" stroke-width="0.6" stroke-linecap="round" opacity="0.8"/>
<path d="M45.5 210.2 Q84.3 206.4 123.1 204.2" fill="none" stroke="#383838" stroke-width="2.0" stroke-linecap="round" opacity="0.5"/>
<path d="M45.5 209.0 Q84.3 205.2 123.1 202.9" fill="none" stroke="rgb(100,100,100)" stroke-width="2.3" stroke-linecap="round"/>
<path d="M45.5 208.4 Q84.3 204.6 123.1 202.3" fill="none" stroke="rgb(126,126,126)" stroke-width="0.8" stroke-linecap="round" opacity="0.8"/>
<path d="M11.0 225.7 Q57.8 227.4 104.5 224.5" fill="none" stroke="#383838" stroke-width="2.2" stroke-linecap="round" opacity="0.5"/>
<path d="M11.0 224.4 Q57.8 226.1 104.5 223.2" fill="none" stroke="rgb(120,120,120)" stroke-width="2.4" stroke-linecap="round"/>
<path d="M11.0 223.7 Q57.8 225.5 104.5 222.5" fill="none" stroke="rgb(146,146,146)" stroke-width="0.9" stroke-linecap="round" opacity="0.8"/>
<path d="M-15.3 163.6 Q24.5 170.6 64.6 175.3" fill="none" stroke="#383838" stroke-width="1.3" stroke-linecap="round" opacity="0.5"/>
<path d="M-15.3 162.8 Q24.5 169.8 64.6 174.5" fill="none" stroke="rgb(144,144,144)" stroke-width="1.5" stroke-linecap="round"/>
<path d="M43.2 160.1 Q66.5 160.1 89.7 157.9" fill="none" stroke="#383838" stroke-width="1.2" stroke-linecap="round" opacity="0.5"/>
<path d="M43.2 159.3 Q66.5 159.4 89.7 157.2" fill="none" stroke="rgb(125,125,125)" stroke-width="1.4" stroke-linecap="round"/>
<path d="M44.2 209.3 Q74.0 210.1 103.7 208.6" fill="none" stroke="#383838" stroke-width="1.0" stroke-linecap="round" opacity="0.5"/>
<path d="M44.2 208.7 Q74.0 209.5 103.7 208.0" fill="none" stroke="rgb(131,131,131)" stroke-width="1.1" stroke-linecap="round"/>
<path d="M38.9 143.9 Q88.9 149.0 139.0 153.0" fill="none" stroke="#383838" stroke-width="2.0" stroke-linecap="round" opacity="0.5"/>
<path d="M38.9 142.6 Q88.9 147.8 139.0 151.8" fill="none" stroke="rgb(122,122,122)" stroke-width="2.2" stroke-linecap="round"/>
<path d="M38.9 142.1 Q88.9 147.2 139.0 151.2" fill="none" stroke="rgb(148,148,148)" stroke-width="0.8" stroke-linecap="round" opacity="0.8"/>
<path d="M41.3 196.0 Q94.6 191.4 148.1 188.5" fill="none" stroke="#383838" stroke-width="1.9" stroke-linecap="round" opacity="0.5"/>
<path d="M41.3 194.8 Q94.6 190.3 148.1 187.3" fill="none" stroke="rgb(138,138,138)" stroke-width="2.1" stroke-linecap="round"/>
<path d="M41.3 194.3 Q94.6 189.7 148.1 186.8" fill="none" stroke="rgb(164,164,164)" stroke-width="0.7" stroke-linecap="round" opacity="0.8"/>
<path d="M36.1 227.2 Q76.3 223.1 116.1 215.6" fill="none" stroke="#383838" stroke-width="1.2" stroke-linecap="round" opacity="0.5"/>
<path d="M36.1 226.4 Q76.3 222.3 116.1 214.8" fill="none" stroke="rgb(129,129,129)" stroke-width="1.4" stroke-linecap="round"/>
<path d="M-19.5 209.0 Q13.7 206.3 46.9 208.5" fill="none" stroke="#383838" stroke-width="1.8" stroke-linecap="round" opacity="0.5"/>
<path d="M-19.5 207.9 Q13.7 205.2 46.9 207.4" fill="none" stroke="rgb(142,142,142)" stroke-width="2.0" stroke-linecap="round"/>
<path d="M-19.5 207.4 Q13.7 204.7 46.9 206.9" fill="none" stroke="rgb(168,168,168)" stroke-width="0.7" stroke-linecap="round" opacity="0.8"/>
<path d="M56.7 150.1 Q103.7 150.1 150.4 155.5" fill="none" stroke="#383838" stroke-width="1.2" stroke-linecap="round" opacity="0.5"/>
<path d="M56.7 149.4 Q103.7 149.4 150.4 154.8" fill="none" stroke="rgb(135,135,135)" stroke-width="1.4" stroke-linecap="round"/>
<path d="M5.9 146.2 Q45.5 151.4 85.2 156.2" fill="none" stroke="#383838" stroke-width="1.1" stroke-linecap="round" opacity="0.5"/>
<path d="M5.9 145.5 Q45.5 150.7 85.2 155.5" fill="none" stroke="rgb(117,117,117)" stroke-width="1.2" stroke-linecap="round"/>
<path d="M-13.3 178.0 Q32.2 178.6 77.3 184.1" fill="none" stroke="#383838" stroke-width="1.7" stroke-linecap="round" opacity="0.5"/>
<path d="M-13.3 176.9 Q32.2 177.5 77.3 183.0" fill="none" stroke="rgb(144,144,144)" stroke-width="1.9" stroke-linecap="round"/>
<path d="M-13.3 176.5 Q32.2 177.0 77.3 182.6" fill="none" stroke="rgb(170,170,170)" stroke-width="0.7" stroke-linecap="round" opacity="0.8"/>
<path d="M37.4 203.6 Q56.2 204.0 75.1 204.1" fill="none" stroke="#383838" stroke-width="2.2" stroke-linecap="round" opacity="0.5"/>
<path d="M37.4 202.3 Q56.2 202.7 75.1 202.8" fill="none" stroke="rgb(141,141,141)" stroke-width="2.4" stroke-linecap="round"/>
<path d="M37.4 201.7 Q56.2 202.1 75.1 202.2" fill="none" stroke="rgb(167,167,167)" stroke-width="0.8" stroke-linecap="round" opacity="0.8"/>
<path d="M109.6 133.3 Q136.6 136.5 163.8 136.4" fill="none" stroke="#383838" stroke-width="1.4" stroke-linecap="round" opacity="0.5"/>
<path d="M109.6 132.4 Q136.6 135.7 163.8 135.5" fill="none" stroke="rgb(151,151,151)" stroke-width="1.6" stroke-linecap="round"/>
<path d="M-34.2 190.4 Q16.4 194.1 67.1 192.7" fill="none" stroke="#383838" stroke-width="1.2" stroke-linecap="round" opacity="0.5"/>
<path d="M-34.2 189.7 Q16.4 193.4 67.1 192.0" fill="none" stroke="rgb(108,108,108)" stroke-width="1.3" stroke-linecap="round"/>
<path d="M-20.6 251.3 Q25.0 244.8 70.9 240.1" fill="none" stroke="#383838" stroke-width="1.2" stroke-linecap="round" opacity="0.5"/>
<path d="M-20.6 250.6 Q25.0 244.1 70.9 239.4" fill="none" stroke="rgb(110,110,110)" stroke-width="1.3" stroke-linecap="round"/>
<path d="M106.2 210.6 Q136.7 207.5 167.3 209.3" fill="none" stroke="#383838" stroke-width="1.3" stroke-linecap="round" opacity="0.5"/>
<path d="M106.2 209.8 Q136.7 206.7 167.3 208.5" fill="none" stroke="rgb(121,121,121)" stroke-width="1.5" stroke-linecap="round"/>
<path d="M26.8 226.7 Q72.0 226.7 117.1 224.7" fill="none" stroke="#383838" stroke-width="1.1" stroke-linecap="round" opacity="0.5"/>
<path d="M26.8 226.1 Q72.0 226.0 117.1 224.0" fill="none" stroke="rgb(135,135,135)" stroke-width="1.2" stroke-linecap="round"/>
<path d="M64.8 157.2 Q94.4 161.8 124.2 164.9" fill="none" stroke="#383838" stroke-width="2.0" stroke-linecap="round" opacity="0.5"/>
<path d="M64.8 156.0 Q94.4 160.6 124.2 163.7" fill="none" stroke="rgb(115,115,115)" stroke-width="2.2" stroke-linecap="round"/>
<path d="M64.8 155.4 Q94.4 160.0 124.2 163.1" fill="none" stroke="rgb(141,141,141)" stroke-width="0.8" stroke-linecap="round" opacity="0.8"/>
<path d="M70.9 197.7 Q100.4 197.4 130.0 199.1" fill="none" stroke="#383838" stroke-width="1.4" stroke-linecap="round" opacity="0.5"/>
<path d="M70.9 196.8 Q100.4 196.5 130.0 198.3" fill="none" stroke="rgb(140,140,140)" stroke-width="1.5" stroke-linecap="round"/>
<path d="M13.6 242.5 Q45.7 242.0 77.5 237.0" fill="none" stroke="#383838" stroke-width="1.2" stroke-linecap="round" opacity="0.5"/>
<path d="M13.6 241.8 Q45.7 241.2 77.5 236.3" fill="none" stroke="rgb(129,129,129)" stroke-width="1.4" stroke-linecap="round"/>
<path d="M50.1 213.6 Q74.3 211.8 98.4 209.7" fill="none" stroke="#383838" stroke-width="2.0" stroke-linecap="round" opacity="0.5"/>
<path d="M50.1 212.4 Q74.3 210.6 98.4 208.4" fill="none" stroke="rgb(114,114,114)" stroke-width="2.3" stroke-linecap="round"/>
<path d="M50.1 211.8 Q74.3 210.0 98.4 207.9" fill="none" stroke="rgb(140,140,140)" stroke-width="0.8" stroke-linecap="round" opacity="0.8"/>
<path d="M43.2 161.7 Q81.8 165.4 120.1 171.1" fill="none" stroke="#383838" stroke-width="1.6" stroke-linecap="round" opacity="0.5"/>
<path d="M43.2 160.7 Q81.8 164.4 120.1 170.2" fill="none" stroke="rgb(109,109,109)" stroke-width="1.8" stroke-linecap="round"/>
<path d="M43.2 160.3 Q81.8 164.0 120.1 169.7" fill="none" stroke="rgb(135,135,135)" stroke-width="0.6" stroke-linecap="round" opacity="0.8"/>
<path d="M159.6 235.2 Q180.6 235.2 200.9 229.6" fill="none" stroke="#383838" stroke-width="1.9" stroke-linecap="round" opacity="0.5"/>
<path d="M159.6 234.0 Q180.6 234.0 200.9 228.5" fill="none" stroke="rgb(106,106,106)" stroke-width="2.1" stroke-linecap="round"/>
<path d="M159.6 233.5 Q180.6 233.5 200.9 227.9" fill="none" stroke="rgb(132,132,132)" stroke-width="0.8" stroke-linecap="round" opacity="0.8"/>
<path d="M123.0 161.1 Q177.9 161.0 232.7 164.9" fill="none" stroke="#383838" stroke-width="2.4" stroke-linecap="round" opacity="0.5"/>
<path d="M123.0 159.6 Q177.9 159.5 232.7 163.4" fill="none" stroke="rgb(138,138,138)" stroke-width="2.7" stroke-linecap="round"/>
<path d="M123.0 158.9 Q177.9 158.8 232.7 162.7" fill="none" stroke="rgb(164,164,164)" stroke-width="0.9" stroke-linecap="round" opacity="0.8"/>
<path d="M59.6 207.7 Q85.5 208.2 111.4 205.8" fill="none" stroke="#383838" stroke-width="1.8" stroke-linecap="round" opacity="0.5"/>
<path d="M59.6 206.6 Q85.5 207.1 111.4 204.7" fill="none" stroke="rgb(149,149,149)" stroke-width="2.0" stroke-linecap="round"/>
<path d="M59.6 206.1 Q85.5 206.6 111.4 204.2" fill="none" stroke="rgb(175,175,175)" stroke-width="0.7" stroke-linecap="round" opacity="0.8"/>
<path d="M110.1 234.5 Q160.8 236.5 211.6 236.0" fill="none" stroke="#383838" stroke-width="1.7" stroke-linecap="round" opacity="0.5"/>
<path d="M110.1 233.5 Q160.8 235.5 211.6 235.0" fill="none" stroke="rgb(94,94,94)" stroke-width="1.8" stroke-linecap="round"/>
<path d="M110.1 233.0 Q160.8 235.0 211.6 234.5" fill="none" stroke="rgb(120,120,120)" stroke-width="0.6" stroke-linecap="round" opacity="0.8"/>
<path d="M67.8 255.0 Q107.6 244.2 148.4 237.7" fill="none" stroke="#383838" stroke-width="1.4" stroke-linecap="round" opacity="0.5"/>
<path d="M67.8 254.2 Q107.6 243.4 148.4 236.9" fill="none" stroke="rgb(135,135,135)" stroke-width="1.5" stroke-linecap="round"/>
<path d="M68.8 147.5 Q84.2 147.4 98.7 152.6" fill="none" stroke="#383838" stroke-width="2.1" stroke-linecap="round" opacity="0.5"/>
<path d="M68.8 146.2 Q84.2 146.1 98.7 151.4" fill="none" stroke="rgb(135,135,135)" stroke-width="2.3" stroke-linecap="round"/>
<path d="M68.8 145.7 Q84.2 145.6 98.7 150.8" fill="none" stroke="rgb(161,161,161)" stroke-width="0.8" stroke-linecap="round" opacity="0.8"/>
<path d="M96.3 144.2 Q131.6 146.5 166.9 149.9" fill="none" stroke="#383838" stroke-width="2.0" stroke-linecap="round" opacity="0.5"/>
<path d="M96.3 143.0 Q131.6 145.3 166.9 148.6" fill="none" stroke="rgb(140,140,140)" stroke-width="2.2" stroke-linecap="round"/>
<path d="M96.3 142.5 Q131.6 144.8 166.9 148.1" fill="none" stroke="rgb(166,166,166)" stroke-width="0.8" stroke-linecap="round" opacity="0.8"/>
<path d="M65.3 221.2 Q85.1 221.7 104.3 216.6" fill="none" stroke="#383838" stroke-width="2.2" stroke-linecap="round" opacity="0.5"/>
<path d="M65.3 219.9 Q85.1 220.4 104.3 215.2" fill="none" stroke="rgb(143,143,143)" stroke-width="2.4" stroke-linecap="round"/>
<path d="M65.3 219.3 Q85.1 219.8 104.3 214.6" fill="none" stroke="rgb(169,169,169)" stroke-width="0.8" stroke-linecap="round" opacity="0.8"/>
<path d="M31.6 208.1 Q59.0 205.3 86.5 204.4" fill="none" stroke="#383838" stroke-width="1.1" stroke-linecap="round" opacity="0.5"/>
<path d="M31.6 207.4 Q59.0 204.6 86.5 203.7" fill="none" stroke="rgb(103,103,103)" stroke-width="1.2" stroke-linecap="round"/>
<path d="M148.6 172.3 Q189.0 172.2 229.0 178.0" fill="none" stroke="#383838" stroke-width="2.1" stroke-linecap="round" opacity="0.5"/>
<path d="M148.6 171.0 Q189.0 170.9 229.0 176.7" fill="none" stroke="rgb(118,118,118)" stroke-width="2.3" stroke-linecap="round"/>
<path d="M148.6 170.4 Q189.0 170.3 229.0 176.1" fill="none" stroke="rgb(144,144,144)" stroke-width="0.8" stroke-linecap="round" opacity="0.8"/>
<path d="M46.3 150.9 Q75.1 151.6 103.7 156.3" fill="none" stroke="#383838" stroke-width="2.1" stroke-linecap="round" opacity="0.5"/>
<path d="M46.3 149.6 Q75.1 150.3 103.7 155.0" fill="none" stroke="rgb(130,130,130)" stroke-width="2.4" stroke-linecap="round"/>
<path d="M46.3 149.0 Q75.1 149.8 103.7 154.4" fill="none" stroke="rgb(156,156,156)" stroke-width="0.8" stroke-linecap="round" opacity="0.8"/>
<path d="M70.5 195.2 Q119.3 199.6 168.3 200.9" fill="none" stroke="#383838" stroke-width="1.2" stroke-linecap="round" opacity="0.5"/>
<path d="M70.5 194.4 Q119.3 198.9 168.3 200.1" fill="none" stroke="rgb(112,112,112)" stroke-width="1.3" stroke-linecap="round"/>
<path d="M1.3 244.4 Q28.7 243.5 55.7 239.1" fill="none" stroke="#383838" stroke-width="1.5" stroke-linecap="round" opacity="0.5"/>
<path d="M1.3 243.4 Q28.7 242.5 55.7 238.2" fill="none" stroke="rgb(136,136,136)" stroke-width="1.7" stroke-linecap="round"/>
<path d="M129.1 222.6 Q173.3 220.0 217.4 218.3" fill="none" stroke="#383838" stroke-width="1.4" stroke-linecap="round" opacity="0.5"/>
<path d="M129.1 221.7 Q173.3 219.2 217.4 217.4" fill="none" stroke="rgb(139,139,139)" stroke-width="1.5" stroke-linecap="round"/>
<path d="M158.7 248.5 Q176.9 250.8 195.3 250.7" fill="none" stroke="#383838" stroke-width="1.6" stroke-linecap="round" opacity="0.5"/>
<path d="M158.7 247.5 Q176.9 249.8 195.3 249.7" fill="none" stroke="rgb(121,121,121)" stroke-width="1.8" stroke-linecap="round"/>
<path d="M158.7 247.1 Q176.9 249.3 195.3 249.3" fill="none" stroke="rgb(147,147,147)" stroke-width="0.6" stroke-linecap="round" opacity="0.8"/>
<path d="M121.4 146.4 Q160.4 153.6 198.3 165.7" fill="none" stroke="#383838" stroke-width="2.3" stroke-linecap="round" opacity="0.5"/>
<path d="M121.4 145.0 Q160.4 152.2 198.3 164.3" fill="none" stroke="rgb(125,125,125)" stroke-width="2.5" stroke-linecap="round"/>
<path d="M121.4 144.3 Q160.4 151.6 198.3 163.6" fill="none" stroke="rgb(151,151,151)" stroke-width="0.9" stroke-linecap="round" opacity="0.8"/>
<path d="M95.2 186.9 Q146.4 191.9 197.7 193.3" fill="none" stroke="#383838" stroke-width="1.1" stroke-linecap="round" opacity="0.5"/>
<path d="M95.2 186.3 Q146.4 191.3 197.7 192.6" fill="none" stroke="rgb(142,142,142)" stroke-width="1.2" stroke-linecap="round"/>
<path d="M121.1 132.4 Q148.5 135.1 174.9 142.9" fill="none" stroke="#383838" stroke-width="1.9" stroke-linecap="round" opacity="0.5"/>
<path d="M121.1 131.3 Q148.5 133.9 174.9 141.8" fill="none" stroke="rgb(142,142,142)" stroke-width="2.1" stroke-linecap="round"/>
<path d="M121.1 130.7 Q148.5 133.4 174.9 141.3" fill="none" stroke="rgb(168,168,168)" stroke-width="0.7" stroke-linecap="round" opacity="0.8"/>
<path d="M159.5 251.7 Q191.5 245.6 223.8 240.6" fill="none" stroke="#383838" stroke-width="1.8" stroke-linecap="round" opacity="0.5"/>
<path d="M159.5 250.6 Q191.5 244.5 223.8 239.5" fill="none" stroke="rgb(122,122,122)" stroke-width="2.0" stroke-linecap="round"/>
<path d="M159.5 250.1 Q191.5 244.0 223.8 239.0" fill="none" stroke="rgb(148,148,148)" stroke-width="0.7" stroke-linecap="round" opacity="0.8"/>
<path d="M71.8 222.8 Q93.9 218.2 116.5 218.7" fill="none" stroke="#383838" stroke-width="1.2" stroke-linecap="round" opacity="0.5"/>
<path d="M71.8 222.1 Q93.9 217.4 116.5 218.0" fill="none" stroke="rgb(149,149,149)" stroke-width="1.4" stroke-linecap="round"/>
<path d="M152.7 150.2 Q184.1 152.5 215.5 154.4" fill="none" stroke="#383838" stroke-width="1.4" stroke-linecap="round" opacity="0.5"/>
<path d="M152.7 149.3 Q184.1 151.7 215.5 153.6" fill="none" stroke="rgb(138,138,138)" stroke-width="1.6" stroke-linecap="round"/>
<path d="M15.1 194.8 Q32.1 194.7 49.1 196.4" fill="none" stroke="#383838" stroke-width="1.3" stroke-linecap="round" opacity="0.5"/>
<path d="M15.1 194.1 Q32.1 193.9 49.1 195.7" fill="none" stroke="rgb(132,132,132)" stroke-width="1.4" stroke-linecap="round"/>
<path d="M25.1 239.8 Q65.3 230.2 106.0 222.9" fill="none" stroke="#383838" stroke-width="1.9" stroke-linecap="round" opacity="0.5"/>
<path d="M25.1 238.6 Q65.3 229.1 106.0 221.7" fill="none" stroke="rgb(132,132,132)" stroke-width="2.2" stroke-linecap="round"/>
<path d="M25.1 238.1 Q65.3 228.5 106.0 221.1" fill="none" stroke="rgb(158,158,158)" stroke-width="0.8" stroke-linecap="round" opacity="0.8"/>
<path d="M91.3 222.7 Q127.5 219.5 163.9 219.1" fill="none" stroke="#383838" stroke-width="2.3" stroke-linecap="round" opacity="0.5"/>
<path d="M91.3 221.3 Q127.5 218.1 163.9 217.7" fill="none" stroke="rgb(110,110,110)" stroke-width="2.6" stroke-linecap="round"/>
<path d="M91.3 220.7 Q127.5 217.5 163.9 217.1" fill="none" stroke="rgb(136,136,136)" stroke-width="0.9" stroke-linecap="round" opacity="0.8"/>
<path d="M102.2 250.5 Q138.1 246.2 174.2 244.8" fill="none" stroke="#383838" stroke-width="2.0" stroke-linecap="round" opacity="0.5"/>
<path d="M102.2 249.2 Q138.1 245.0 174.2 243.6" fill="none" stroke="rgb(125,125,125)" stroke-width="2.2" stroke-linecap="round"/>
<path d="M102.2 248.7 Q138.1 244.4 174.2 243.0" fill="none" stroke="rgb(151,151,151)" stroke-width="0.8" stroke-linecap="round" opacity="0.8"/>
<path d="M116.9 182.5 Q153.3 184.3 189.7 184.5" fill="none" stroke="#383838" stroke-width="2.2" stroke-linecap="round" opacity="0.5"/>
<path d="M116.9 181.1 Q153.3 183.0 189.7 183.1" fill="none" stroke="rgb(139,139,139)" stroke-width="2.5" stroke-linecap="round"/>
<path d="M116.9 180.5 Q153.3 182.3 189.7 182.5" fill="none" stroke="rgb(165,165,165)" stroke-width="0.9" stroke-linecap="round" opacity="0.8"/>
<path d="M103.6 143.3 Q129.9 148.6 156.5 151.5" fill="none" stroke="#383838" stroke-width="1.7" stroke-linecap="round" opacity="0.5"/>
<path d="M103.6 142.2 Q129.9 147.5 156.5 150.5" fill="none" stroke="rgb(127,127,127)" stroke-width="1.9" stroke-linecap="round"/>
<path d="M103.6 141.8 Q129.9 147.0 156.5 150.0" fill="none" stroke="rgb(153,153,153)" stroke-width="0.7" stroke-linecap="round" opacity="0.8"/>
<path d="M53.6 197.9 Q107.5 197.8 161.3 198.6" fill="none" stroke="#383838" stroke-width="1.6" stroke-linecap="round" opacity="0.5"/>
<path d="M53.6 196.9 Q107.5 196.8 161.3 197.7" fill="none" stroke="rgb(120,120,120)" stroke-width="1.7" stroke-linecap="round"/>
<path d="M53.6 196.5 Q107.5 196.4 161.3 197.2" fill="none" stroke="rgb(146,146,146)" stroke-width="0.6" stroke-linecap="round" opacity="0.8"/>
<path d="M115.2 213.5 Q140.5 210.7 166.0 210.3" fill="none" stroke="#383838" stroke-width="0.9" stroke-linecap="round" opacity="0.5"/>
<path d="M115.2 212.9 Q140.5 210.1 166.0 209.7" fill="none" stroke="rgb(116,116,116)" stroke-width="1.0" stroke-linecap="round"/>
<path d="M41.5 146.0 Q81.4 159.0 122.3 167.8" fill="none" stroke="#383838" stroke-width="1.9" stroke-linecap="round" opacity="0.5"/>
<path d="M41.5 144.9 Q81.4 157.9 122.3 166.7" fill="none" stroke="rgb(128,128,128)" stroke-width="2.1" stroke-linecap="round"/>
<path d="M41.5 144.3 Q81.4 157.3 122.3 166.2" fill="none" stroke="rgb(154,154,154)" stroke-width="0.7" stroke-linecap="round" opacity="0.8"/>
<path d="M53.2 199.1 Q103.9 201.0 154.5 204.9" fill="none" stroke="#383838" stroke-width="1.5" stroke-linecap="round" opacity="0.5"/>
<path d="M53.2 198.2 Q103.9 200.1 154.5 204.0" fill="none" stroke="rgb(134,134,134)" stroke-width="1.6" stroke-linecap="round"/>
<path d="M50.1 133.1 Q91.8 139.3 133.2 147.5" fill="none" stroke="#383838" stroke-width="1.2" stroke-linecap="round" opacity="0.5"/>
<path d="M50.1 132.3 Q91.8 138.6 133.2 146.8" fill="none" stroke="rgb(127,127,127)" stroke-width="1.3" stroke-linecap="round"/>
<path d="M116.6 154.7 Q162.0 161.5 207.6 166.1" fill="none" stroke="#383838" stroke-width="2.0" stroke-linecap="round" opacity="0.5"/>
<path d="M116.6 153.5 Q162.0 160.3 207.6 164.9" fill="none" stroke="rgb(145,145,145)" stroke-width="2.2" stroke-linecap="round"/>
<path d="M116.6 153.0 Q162.0 159.7 207.6 164.4" fill="none" stroke="rgb(171,171,171)" stroke-width="0.8" stroke-linecap="round" opacity="0.8"/>
<path d="M-21.3 257.6 Q25.5 243.3 73.3 232.7" fill="none" stroke="#383838" stroke-width="1.8" stroke-linecap="round" opacity="0.5"/>
<path d="M-21.3 256.5 Q25.5 242.1 73.3 231.6" fill="none" stroke="rgb(133,133,133)" stroke-width="2.0" stroke-linecap="round"/>
<path d="M-21.3 256.0 Q25.5 241.6 73.3 231.1" fill="none" stroke="rgb(159,159,159)" stroke-width="0.7" stroke-linecap="round" opacity="0.8"/>
<path d="M52.2 229.8 Q85.8 229.5 119.3 228.2" fill="none" stroke="#383838" stroke-width="1.2" stroke-linecap="round" opacity="0.5"/>
<path d="M52.2 229.1 Q85.8 228.8 119.3 227.5" fill="none" stroke="rgb(132,132,132)" stroke-width="1.3" stroke-linecap="round"/>
<path d="M101.9 183.3 Q133.1 184.4 163.9 189.0" fill="none" stroke="#383838" stroke-width="1.9" stroke-linecap="round" opacity="0.5"/>
<path d="M101.9 182.1 Q133.1 183.2 163.9 187.8" fill="none" stroke="rgb(127,127,127)" stroke-width="2.1" stroke-linecap="round"/>
<path d="M101.9 181.6 Q133.1 182.6 163.9 187.3" fill="none" stroke="rgb(153,153,153)" stroke-width="0.7" stroke-linecap="round" opacity="0.8"/>
<path d="M88.6 153.4 Q108.1 155.6 127.6 156.0" fill="none" stroke="#383838" stroke-width="1.5" stroke-linecap="round" opacity="0.5"/>
<path d="M88.6 152.5 Q108.1 154.7 127.6 155.1" fill="none" stroke="rgb(135,135,135)" stroke-width="1.6" stroke-linecap="round"/>
<path d="M80.8 224.7 Q114.8 227.8 148.9 227.8" fill="none" stroke="#383838" stroke-width="1.5" stroke-linecap="round" opacity="0.5"/>
<path d="M80.8 223.8 Q114.8 226.9 148.9 226.9" fill="none" stroke="rgb(140,140,140)" stroke-width="1.7" stroke-linecap="round"/>
<path d="M171.3 196.0 Q196.2 192.3 221.3 193.3" fill="none" stroke="#383838" stroke-width="1.4" stroke-linecap="round" opacity="0.5"/>
<path d="M171.3 195.2 Q196.2 191.4 221.3 192.4" fill="none" stroke="rgb(142,142,142)" stroke-width="1.5" stroke-linecap="round"/>
<path d="M38.4 211.3 Q86.0 209.9 133.7 209.6" fill="none" stroke="#383838" stroke-width="2.1" stroke-linecap="round" opacity="0.5"/>
<path d="M38.4 210.0 Q86.0 208.6 133.7 208.3" fill="none" stroke="rgb(103,103,103)" stroke-width="2.4" stroke-linecap="round"/>
<path d="M38.4 209.4 Q86.0 208.0 133.7 207.7" fill="none" stroke="rgb(129,129,129)" stroke-width="0.8" stroke-linecap="round" opacity="0.8"/>
<path d="M86.5 135.5 Q133.2 138.8 179.6 144.9" fill="none" stroke="#383838" stroke-width="1.6" stroke-linecap="round" opacity="0.5"/>
<path d="M86.5 134.5 Q133.2 137.8 179.6 143.9" fill="none" stroke="rgb(120,120,120)" stroke-width="1.8" stroke-linecap="round"/>
<path d="M86.5 134.0 Q133.2 137.4 179.6 143.5" fill="none" stroke="rgb(146,146,146)" stroke-width="0.6" stroke-linecap="round" opacity="0.8"/>
<path d="M116.1 176.6 Q162.0 182.5 207.6 190.2" fill="none" stroke="#383838" stroke-width="1.5" stroke-linecap="round" opacity="0.5"/>
<path d="M116.1 175.7 Q162.0 181.5 207.6 189.3" fill="none" stroke="rgb(120,120,120)" stroke-width="1.6" stroke-linecap="round"/>
<path d="M168.4 243.3 Q190.4 238.0 212.9 235.2" fill="none" stroke="#383838" stroke-width="2.1" stroke-linecap="round" opacity="0.5"/>
<path d="M168.4 242.0 Q190.4 236.7 212.9 234.0" fill="none" stroke="rgb(148,148,148)" stroke-width="2.3" stroke-linecap="round"/>
<path d="M168.4 241.5 Q190.4 236.2 212.9 233.4" fill="none" stroke="rgb(174,174,174)" stroke-width="0.8" stroke-linecap="round" opacity="0.8"/>
<path d="M76.7 248.3 Q95.5 248.7 113.7 243.8" fill="none" stroke="#383838" stroke-width="2.3" stroke-linecap="round" opacity="0.5"/>
<path d="M76.7 246.9 Q95.5 247.3 113.7 242.4" fill="none" stroke="rgb(149,149,149)" stroke-width="2.5" stroke-linecap="round"/>
<path d="M76.7 246.3 Q95.5 246.7 113.7 241.8" fill="none" stroke="rgb(175,175,175)" stroke-width="0.9" stroke-linecap="round" opacity="0.8"/>
<path d="M45.9 230.3 Q99.8 227.2 153.3 220.7" fill="none" stroke="#383838" stroke-width="1.3" stroke-linecap="round" opacity="0.5"/>
<path d="M45.9 229.5 Q99.8 226.4 153.3 219.9" fill="none" stroke="rgb(139,139,139)" stroke-width="1.4" stroke-linecap="round"/>
<path d="M-15.6 195.9 Q36.5 200.3 88.7 199.1" fill="none" stroke="#383838" stroke-width="1.7" stroke-linecap="round" opacity="0.5"/>
<path d="M-15.6 194.8 Q36.5 199.2 88.7 198.0" fill="none" stroke="rgb(148,148,148)" stroke-width="1.9" stroke-linecap="round"/>
<path d="M-15.6 194.3 Q36.5 198.7 88.7 197.6" fill="none" stroke="rgb(174,174,174)" stroke-width="0.7" stroke-linecap="round" opacity="0.8"/>
<path d="M56.9 190.6 Q108.0 190.6 159.2 191.8" fill="none" stroke="#383838" stroke-width="2.1" stroke-linecap="round" opacity="0.5"/>
<path d="M56.9 189.3 Q108.0 189.3 159.2 190.5" fill="none" stroke="rgb(124,124,124)" stroke-width="2.4" stroke-linecap="round"/>
<path d="M56.9 188.8 Q108.0 188.7 159.2 189.9" fill="none" stroke="rgb(150,150,150)" stroke-width="0.8" stroke-linecap="round" opacity="0.8"/>
<path d="M160.7 250.9 Q194.8 243.9 229.3 240.3" fill="none" stroke="#383838" stroke-width="1.3" stroke-linecap="round" opacity="0.5"/>
<path d="M160.7 250.1 Q194.8 243.1 229.3 239.5" fill="none" stroke="rgb(136,136,136)" stroke-width="1.5" stroke-linecap="round"/>
<path d="M25.1 221.3 Q42.1 219.4 58.9 216.7" fill="none" stroke="#383838" stroke-width="2.0" stroke-linecap="round" opacity="0.5"/>
<path d="M25.1 220.0 Q42.1 218.1 58.9 215.5" fill="none" stroke="rgb(121,121,121)" stroke-width="2.3" stroke-linecap="round"/>
<path d="M25.1 219.5 Q42.1 217.6 58.9 214.9" fill="none" stroke="rgb(147,147,147)" stroke-width="0.8" stroke-linecap="round" opacity="0.8"/>
<path d="M168.4 166.9 Q187.1 169.6 205.8 167.2" fill="none" stroke="#383838" stroke-width="2.4" stroke-linecap="round" opacity="0.5"/>
<path d="M168.4 165.4 Q187.1 168.1 205.8 165.7" fill="none" stroke="rgb(126,126,126)" stroke-width="2.7" stroke-linecap="round"/>
<path d="M168.4 164.8 Q187.1 167.4 205.8 165.1" fill="none" stroke="rgb(152,152,152)" stroke-width="0.9" stroke-linecap="round" opacity="0.8"/>
<path d="M116.8 234.3 Q141.2 229.9 165.8 227.0" fill="none" stroke="#383838" stroke-width="1.4" stroke-linecap="round" opacity="0.5"/>
<path d="M116.8 233.5 Q141.2 229.0 165.8 226.1" fill="none" stroke="rgb(132,132,132)" stroke-width="1.6" stroke-linecap="round"/>
<path d="M85.2 211.4 Q101.2 210.7 117.2 209.3" fill="none" stroke="#383838" stroke-width="2.4" stroke-linecap="round" opacity="0.5"/>
<path d="M85.2 210.0 Q101.2 209.2 117.2 207.8" fill="none" stroke="rgb(130,130,130)" stroke-width="2.6" stroke-linecap="round"/>
<path d="M85.2 209.3 Q101.2 208.5 117.2 207.1" fill="none" stroke="rgb(156,156,156)" stroke-width="0.9" stroke-linecap="round" opacity="0.8"/>
<path d="M79.3 170.1 Q122.5 169.2 165.7 171.1" fill="none" stroke="#383838" stroke-width="1.8" stroke-linecap="round" opacity="0.5"/>
<path d="M79.3 169.0 Q122.5 168.1 165.7 170.0" fill="none" stroke="rgb(104,104,104)" stroke-width="2.0" stroke-linecap="round"/>
<path d="M79.3 168.5 Q122.5 167.6 165.7 169.5" fill="none" stroke="rgb(130,130,130)" stroke-width="0.7" stroke-linecap="round" opacity="0.8"/>
<path d="M85.4 136.1 Q130.0 140.0 174.7 142.8" fill="none" stroke="#383838" stroke-width="1.1" stroke-linecap="round" opacity="0.5"/>
<path d="M85.4 135.4 Q130.0 139.3 174.7 142.1" fill="none" stroke="rgb(151,151,151)" stroke-width="1.2" stroke-linecap="round"/>
<path d="M17.0 133.9 Q41.9 139.9 67.4 142.4" fill="none" stroke="#383838" stroke-width="1.7" stroke-linecap="round" opacity="0.5"/>
<path d="M17.0 132.9 Q41.9 138.9 67.4 141.4" fill="none" stroke="rgb(121,121,121)" stroke-width="1.9" stroke-linecap="round"/>
<path d="M17.0 132.4 Q41.9 138.4 67.4 140.9" fill="none" stroke="rgb(147,147,147)" stroke-width="0.7" stroke-linecap="round" opacity="0.8"/>
<path d="M154.3 159.8 Q196.9 163.7 239.4 167.9" fill="none" stroke="#383838" stroke-width="1.4" stroke-linecap="round" opacity="0.5"/>
<path d="M154.3 158.9 Q196.9 162.9 239.4 167.1" fill="none" stroke="rgb(109,109,109)" stroke-width="1.6" stroke-linecap="round"/>
<path d="M125.3 164.0 Q159.7 163.8 194.1 161.7" fill="none" stroke="#383838" stroke-width="1.3" stroke-linecap="round" opacity="0.5"/>
<path d="M125.3 163.2 Q159.7 163.0 194.1 160.9" fill="none" stroke="rgb(113,113,113)" stroke-width="1.4" stroke-linecap="round"/>
<path d="M17.3 151.7 Q51.4 150.6 85.5 153.4" fill="none" stroke="#383838" stroke-width="2.4" stroke-linecap="round" opacity="0.5"/>
<path d="M17.3 150.3 Q51.4 149.1 85.5 152.0" fill="none" stroke="rgb(117,117,117)" stroke-width="2.6" stroke-linecap="round"/>
<path d="M17.3 149.6 Q51.4 148.5 85.5 151.3" fill="none" stroke="rgb(143,143,143)" stroke-width="0.9" stroke-linecap="round" opacity="0.8"/>
<path d="M85.9 188.2 Q111.4 186.7 136.6 190.8" fill="none" stroke="#383838" stroke-width="1.3" stroke-linecap="round" opacity="0.5"/>
<path d="M85.9 187.4 Q111.4 185.9 136.6 190.0" fill="none" stroke="rgb(128,128,128)" stroke-width="1.4" stroke-linecap="round"/>
<path d="M109.0 208.4 Q132.7 212.7 156.8 211.7" fill="none" stroke="#383838" stroke-width="1.2" stroke-linecap="round" opacity="0.5"/>
<path d="M109.0 207.7 Q132.7 212.0 156.8 211.0" fill="none" stroke="rgb(123,123,123)" stroke-width="1.3" stroke-linecap="round"/>
<path d="M123.6 165.2 Q172.7 173.0 222.3 175.4" fill="none" stroke="#383838" stroke-width="1.5" stroke-linecap="round" opacity="0.5"/>
<path d="M123.6 164.2 Q172.7 172.1 222.3 174.5" fill="none" stroke="rgb(141,141,141)" stroke-width="1.7" stroke-linecap="round"/>
<path d="M123.6 163.8 Q172.7 171.7 222.3 174.1" fill="none" stroke="rgb(167,167,167)" stroke-width="0.6" stroke-linecap="round" opacity="0.8"/>
<path d="M43.7 177.7 Q67.0 178.1 90.2 180.4" fill="none" stroke="#383838" stroke-width="2.2" stroke-linecap="round" opacity="0.5"/>
<path d="M43.7 176.4 Q67.0 176.8 90.2 179.1" fill="none" stroke="rgb(125,125,125)" stroke-width="2.4" stroke-linecap="round"/>
<path d="M43.7 175.8 Q67.0 176.2 90.2 178.5" fill="none" stroke="rgb(151,151,151)" stroke-width="0.9" stroke-linecap="round" opacity="0.8"/>
<path d="M89.8 240.8 Q114.9 235.3 140.2 230.9" fill="none" stroke="#383838" stroke-width="1.8" stroke-linecap="round" opacity="0.5"/>
<path d="M89.8 239.7 Q114.9 234.2 140.2 229.8" fill="none" stroke="rgb(129,129,129)" stroke-width="2.0" stroke-linecap="round"/>
<path d="M89.8 239.2 Q114.9 233.7 140.2 229.3" fill="none" stroke="rgb(155,155,155)" stroke-width="0.7" stroke-linecap="round" opacity="0.8"/>
<path d="M112.4 167.1 Q133.1 172.3 154.3 173.9" fill="none" stroke="#383838" stroke-width="1.8" stroke-linecap="round" opacity="0.5"/>
<path d="M112.4 166.1 Q133.1 171.2 154.3 172.9" fill="none" stroke="rgb(133,133,133)" stroke-width="2.0" stroke-linecap="round"/>
<path d="M112.4 165.6 Q133.1 170.7 154.3 172.4" fill="none" stroke="rgb(159,159,159)" stroke-width="0.7" stroke-linecap="round" opacity="0.8"/>
<path d="M7.3 218.0 Q39.8 211.7 72.5 206.2" fill="none" stroke="#383838" stroke-width="1.7" stroke-linecap="round" opacity="0.5"/>
<path d="M7.3 217.0 Q39.8 210.7 72.5 205.2" fill="none" stroke="rgb(129,129,129)" stroke-width="1.9" stroke-linecap="round"/>
<path d="M7.3 216.5 Q39.8 210.2 72.5 204.7" fill="none" stroke="rgb(155,155,155)" stroke-width="0.7" stroke-linecap="round" opacity="0.8"/>
<path d="M83.5 147.5 Q133.1 153.7 183.1 154.6" fill="none" stroke="#383838" stroke-width="1.6" stroke-linecap="round" opacity="0.5"/>
<path d="M83.5 146.5 Q133.1 152.7 183.1 153.6" fill="none" stroke="rgb(132,132,132)" stroke-width="1.8" stroke-linecap="round"/>
<path d="M83.5 146.1 Q133.1 152.3 183.1 153.2" fill="none" stroke="rgb(158,158,158)" stroke-width="0.6" stroke-linecap="round" opacity="0.8"/>
<path d="M171.4 180.8 Q197.1 181.5 222.5 185.2" fill="none" stroke="#383838" stroke-width="0.9" stroke-linecap="round" opacity="0.5"/>
<path d="M171.4 180.2 Q197.1 180.9 222.5 184.6" fill="none" stroke="rgb(129,129,129)" stroke-width="1.0" stroke-linecap="round"/>
<path d="M82.3 213.8 Q99.7 210.1 117.4 210.3" fill="none" stroke="#383838" stroke-width="1.4" stroke-linecap="round" opacity="0.5"/>
<path d="M82.3 212.9 Q99.7 209.2 117.4 209.4" fill="none" stroke="rgb(151,151,151)" stroke-width="1.6" stroke-linecap="round"/>
<path d="M103.3 189.7 Q146.1 187.5 188.3 179.6" fill="none" stroke="#383838" stroke-width="1.7" stroke-linecap="round" opacity="0.5"/>
<path d="M103.3 188.7 Q146.1 186.5 188.3 178.6" fill="none" stroke="rgb(135,135,135)" stroke-width="1.9" stroke-linecap="round"/>
<path d="M103.3 188.2 Q146.1 186.0 188.3 178.1" fill="none" stroke="rgb(161,161,161)" stroke-width="0.7" stroke-linecap="round" opacity="0.8"/>
<path d="M130.9 221.0 Q165.5 219.7 199.7 213.8" fill="none" stroke="#383838" stroke-width="1.0" stroke-linecap="round" opacity="0.5"/>
<path d="M130.9 220.4 Q165.5 219.1 199.7 213.2" fill="none" stroke="rgb(125,125,125)" stroke-width="1.1" stroke-linecap="round"/>
<path d="M117.0 237.5 Q165.0 225.8 211.4 208.6" fill="none" stroke="#383838" stroke-width="1.6" stroke-linecap="round" opacity="0.5"/>
<path d="M117.0 236.5 Q165.0 224.8 211.4 207.6" fill="none" stroke="rgb(120,120,120)" stroke-width="1.8" stroke-linecap="round"/>
<path d="M117.0 236.0 Q165.0 224.3 211.4 207.1" fill="none" stroke="rgb(146,146,146)" stroke-width="0.6" stroke-linecap="round" opacity="0.8"/>
<path d="M-12.4 175.2 Q25.4 177.4 63.1 181.1" fill="none" stroke="#383838" stroke-width="2.1" stroke-linecap="round" opacity="0.5"/>
<path d="M-12.4 173.9 Q25.4 176.1 63.1 179.8" fill="none" stroke="rgb(119,119,119)" stroke-width="2.3" stroke-linecap="round"/>
<path d="M-12.4 173.3 Q25.4 175.5 63.1 179.2" fill="none" stroke="rgb(145,145,145)" stroke-width="0.8" stroke-linecap="round" opacity="0.8"/>
<path d="M100.3 224.1 Q139.3 224.8 178.2 228.0" fill="none" stroke="#383838" stroke-width="0.9" stroke-linecap="round" opacity="0.5"/>
<path d="M100.3 223.5 Q139.3 224.3 178.2 227.4" fill="none" stroke="rgb(136,136,136)" stroke-width="1.0" stroke-linecap="round"/>
<path d="M10.1 223.7 Q31.9 223.5 53.5 221.0" fill="none" stroke="#383838" stroke-width="1.2" stroke-linecap="round" opacity="0.5"/>
<path d="M10.1 222.9 Q31.9 222.8 53.5 220.3" fill="none" stroke="rgb(129,129,129)" stroke-width="1.4" stroke-linecap="round"/>
<path d="M147.0 140.8 Q186.7 138.9 226.1 142.8" fill="none" stroke="#383838" stroke-width="1.0" stroke-linecap="round" opacity="0.5"/>
<path d="M147.0 140.2 Q186.7 138.3 226.1 142.2" fill="none" stroke="rgb(144,144,144)" stroke-width="1.1" stroke-linecap="round"/>
<path d="M-9.4 241.7 Q25.2 240.0 59.3 233.5" fill="none" stroke="#383838" stroke-width="1.9" stroke-linecap="round" opacity="0.5"/>
<path d="M-9.4 240.5 Q25.2 238.8 59.3 232.3" fill="none" stroke="rgb(129,129,129)" stroke-width="2.2" stroke-linecap="round"/>
<path d="M-9.4 240.0 Q25.2 238.3 59.3 231.8" fill="none" stroke="rgb(155,155,155)" stroke-width="0.8" stroke-linecap="round" opacity="0.8"/>
<path d="M-1.2 222.7 Q47.8 223.8 96.6 226.8" fill="none" stroke="#383838" stroke-width="1.9" stroke-linecap="round" opacity="0.5"/>
<path d="M-1.2 221.6 Q47.8 222.7 96.6 225.6" fill="none" stroke="rgb(133,133,133)" stroke-width="2.1" stroke-linecap="round"/>
<path d="M-1.2 221.0 Q47.8 222.2 96.6 225.1" fill="none" stroke="rgb(159,159,159)" stroke-width="0.7" stroke-linecap="round" opacity="0.8"/>
<path d="M119.4 174.7 Q158.9 167.9 198.8 165.9" fill="none" stroke="#383838" stroke-width="2.1" stroke-linecap="round" opacity="0.5"/>
<path d="M119.4 173.4 Q158.9 166.6 198.8 164.6" fill="none" stroke="rgb(106,106,106)" stroke-width="2.3" stroke-linecap="round"/>
<path d="M119.4 172.8 Q158.9 166.0 198.8 164.0" fill="none" stroke="rgb(132,132,132)" stroke-width="0.8" stroke-linecap="round" opacity="0.8"/>
<path d="M12.9 174.5 Q43.7 175.2 74.6 176.4" fill="none" stroke="#383838" stroke-width="1.8" stroke-linecap="round" opacity="0.5"/>
<path d="M12.9 173.5 Q43.7 174.1 74.6 175.4" fill="none" stroke="rgb(124,124,124)" stroke-width="2.0" stroke-linecap="round"/>
<path d="M12.9 173.0 Q43.7 173.6 74.6 174.9" fill="none" stroke="rgb(150,150,150)" stroke-width="0.7" stroke-linecap="round" opacity="0.8"/>
<path d="M35.9 208.5 Q68.2 209.8 100.6 209.4" fill="none" stroke="#383838" stroke-width="2.3" stroke-linecap="round" opacity="0.5"/>
<path d="M35.9 207.1 Q68.2 208.4 100.6 208.0" fill="none" stroke="rgb(133,133,133)" stroke-width="2.5" stroke-linecap="round"/>
<path d="M35.9 206.4 Q68.2 207.7 100.6 207.4" fill="none" stroke="rgb(159,159,159)" stroke-width="0.9" stroke-linecap="round" opacity="0.8"/>
<path d="M57.1 137.6 Q97.6 143.4 138.1 148.7" fill="none" stroke="#383838" stroke-width="2.0" stroke-linecap="round" opacity="0.5"/>
<path d="M57.1 136.4 Q97.6 142.1 138.1 147.5" fill="none" stroke="rgb(123,123,123)" stroke-width="2.2" stroke-linecap="round"/>
<path d="M57.1 135.9 Q97.6 141.6 138.1 146.9" fill="none" stroke="rgb(149,149,149)" stroke-width="0.8" stroke-linecap="round" opacity="0.8"/>
<path d="M0.3 239.9 Q27.6 236.2 54.0 228.4" fill="none" stroke="#383838" stroke-width="2.2" stroke-linecap="round" opacity="0.5"/>
<path d="M0.3 238.5 Q27.6 234.8 54.0 227.0" fill="none" stroke="rgb(137,137,137)" stroke-width="2.5" stroke-linecap="round"/>
<path d="M0.3 237.9 Q27.6 234.2 54.0 226.4" fill="none" stroke="rgb(163,163,163)" stroke-width="0.9" stroke-linecap="round" opacity="0.8"/>
<path d="M59.3 236.0 Q80.3 234.0 101.0 229.4" fill="none" stroke="#383838" stroke-width="2.2" stroke-linecap="round" opacity="0.5"/>
<path d="M59.3 234.6 Q80.3 232.7 101.0 228.1" fill="none" stroke="rgb(130,130,130)" stroke-width="2.5" stroke-linecap="round"/>
<path d="M59.3 234.0 Q80.3 232.0 101.0 227.5" fill="none" stroke="rgb(156,156,156)" stroke-width="0.9" stroke-linecap="round" opacity="0.8"/>
<path d="M107.1 230.9 Q135.7 226.2 164.6 225.1" fill="none" stroke="#383838" stroke-width="1.4" stroke-linecap="round" opacity="0.5"/>
<path d="M107.1 230.0 Q135.7 225.3 164.6 224.2" fill="none" stroke="rgb(137,137,137)" stroke-width="1.6" stroke-linecap="round"/>
<path d="M98.1 147.1 Q149.7 148.3 201.2 150.1" fill="none" stroke="#383838" stroke-width="1.1" stroke-linecap="round" opacity="0.5"/>
<path d="M98.1 146.4 Q149.7 147.6 201.2 149.5" fill="none" stroke="rgb(126,126,126)" stroke-width="1.2" stroke-linecap="round"/>
<path d="M63.6 148.2 Q117.7 149.7 171.7 152.7" fill="none" stroke="#383838" stroke-width="1.3" stroke-linecap="round" opacity="0.5"/>
<path d="M63.6 147.4 Q117.7 148.9 171.7 151.9" fill="none" stroke="rgb(145,145,145)" stroke-width="1.5" stroke-linecap="round"/>
<path d="M45.1 235.8 Q62.6 232.1 80.4 230.5" fill="none" stroke="#383838" stroke-width="1.6" stroke-linecap="round" opacity="0.5"/>
<path d="M45.1 234.8 Q62.6 231.1 80.4 229.5" fill="none" stroke="rgb(148,148,148)" stroke-width="1.8" stroke-linecap="round"/>
<path d="M45.1 234.3 Q62.6 230.6 80.4 229.1" fill="none" stroke="rgb(174,174,174)" stroke-width="0.6" stroke-linecap="round" opacity="0.8"/>
<path d="M75.1 141.3 Q102.4 140.6 129.7 140.9" fill="none" stroke="#383838" stroke-width="1.6" stroke-linecap="round" opacity="0.5"/>
<path d="M75.1 140.4 Q102.4 139.7 129.7 140.0" fill="none" stroke="rgb(144,144,144)" stroke-width="1.7" stroke-linecap="round"/>
<path d="M75.1 139.9 Q102.4 139.2 129.7 139.5" fill="none" stroke="rgb(170,170,170)" stroke-width="0.6" stroke-linecap="round" opacity="0.8"/>
<path d="M98.1 162.4 Q134.8 167.0 171.7 169.8" fill="none" stroke="#383838" stroke-width="1.7" stroke-linecap="round" opacity="0.5"/>
<path d="M98.1 161.3 Q134.8 166.0 171.7 168.7" fill="none" stroke="rgb(152,152,152)" stroke-width="1.9" stroke-linecap="round"/>
<path d="M98.1 160.9 Q134.8 165.5 171.7 168.3" fill="none" stroke="rgb(178,178,178)" stroke-width="0.7" stroke-linecap="round" opacity="0.8"/>
<path d="M122.6 228.6 Q177.0 225.5 231.6 223.9" fill="none" stroke="#383838" stroke-width="1.6" stroke-linecap="round" opacity="0.5"/>
<path d="M122.6 227.6 Q177.0 224.5 231.6 223.0" fill="none" stroke="rgb(167,167,167)" stroke-width="1.8" stroke-linecap="round"/>
<path d="M122.6 227.2 Q177.0 224.1 231.6 222.5" fill="none" stroke="rgb(193,193,193)" stroke-width="0.6" stroke-linecap="round" opacity="0.8"/>
<path d="M43.8 244.4 Q96.7 238.8 149.9 236.8" fill="none" stroke="#383838" stroke-width="1.1" stroke-linecap="round" opacity="0.5"/>
<path d="M43.8 243.7 Q96.7 238.2 149.9 236.2" fill="none" stroke="rgb(125,125,125)" stroke-width="1.2" stroke-linecap="round"/>
<path d="M121.1 211.6 Q138.9 212.7 155.6 219.1" fill="none" stroke="#383838" stroke-width="1.4" stroke-linecap="round" opacity="0.5"/>
<path d="M121.1 210.7 Q138.9 211.8 155.6 218.3" fill="none" stroke="rgb(136,136,136)" stroke-width="1.6" stroke-linecap="round"/>
<path d="M51.2 145.7 Q98.8 143.4 146.4 145.7" fill="none" stroke="#383838" stroke-width="2.3" stroke-linecap="round" opacity="0.5"/>
<path d="M51.2 144.2 Q98.8 142.0 146.4 144.3" fill="none" stroke="rgb(132,132,132)" stroke-width="2.6" stroke-linecap="round"/>
<path d="M51.2 143.6 Q98.8 141.4 146.4 143.6" fill="none" stroke="rgb(158,158,158)" stroke-width="0.9" stroke-linecap="round" opacity="0.8"/>
<path d="M12.1 230.5 Q51.4 228.1 90.0 220.4" fill="none" stroke="#383838" stroke-width="1.8" stroke-linecap="round" opacity="0.5"/>
<path d="M12.1 229.4 Q51.4 227.0 90.0 219.3" fill="none" stroke="rgb(140,140,140)" stroke-width="2.1" stroke-linecap="round"/>
<path d="M12.1 228.9 Q51.4 226.5 90.0 218.7" fill="none" stroke="rgb(166,166,166)" stroke-width="0.7" stroke-linecap="round" opacity="0.8"/>
<path d="M137.2 245.2 Q191.1 239.3 245.1 236.5" fill="none" stroke="#383838" stroke-width="2.2" stroke-linecap="round" opacity="0.5"/>
<path d="M137.2 243.8 Q191.1 238.0 245.1 235.2" fill="none" stroke="rgb(138,138,138)" stroke-width="2.4" stroke-linecap="round"/>
<path d="M137.2 243.2 Q191.1 237.4 245.1 234.6" fill="none" stroke="rgb(164,164,164)" stroke-width="0.8" stroke-linecap="round" opacity="0.8"/>
<path d="M55.7 189.3 Q109.7 190.5 163.6 186.8" fill="none" stroke="#383838" stroke-width="1.2" stroke-linecap="round" opacity="0.5"/>
<path d="M55.7 188.6 Q109.7 189.7 163.6 186.1" fill="none" stroke="rgb(138,138,138)" stroke-width="1.3" stroke-linecap="round"/>
<path d="M112.3 149.7 Q165.8 152.4 219.3 150.7" fill="none" stroke="#383838" stroke-width="1.8" stroke-linecap="round" opacity="0.5"/>
<path d="M112.3 148.7 Q165.8 151.3 219.3 149.6" fill="none" stroke="rgb(151,151,151)" stroke-width="2.0" stroke-linecap="round"/>
<path d="M112.3 148.2 Q165.8 150.8 219.3 149.1" fill="none" stroke="rgb(177,177,177)" stroke-width="0.7" stroke-linecap="round" opacity="0.8"/>
<path d="M66.7 131.3 Q103.5 137.3 140.2 144.0" fill="none" stroke="#383838" stroke-width="2.2" stroke-linecap="round" opacity="0.5"/>
<path d="M66.7 130.0 Q103.5 136.0 140.2 142.7" fill="none" stroke="rgb(125,125,125)" stroke-width="2.4" stroke-linecap="round"/>
<path d="M66.7 129.4 Q103.5 135.4 140.2 142.1" fill="none" stroke="rgb(151,151,151)" stroke-width="0.8" stroke-linecap="round" opacity="0.8"/>
<path d="M54.7 179.5 Q78.8 177.3 102.4 172.0" fill="none" stroke="#383838" stroke-width="1.8" stroke-linecap="round" opacity="0.5"/>
<path d="M54.7 178.4 Q78.8 176.2 102.4 170.9" fill="none" stroke="rgb(136,136,136)" stroke-width="2.0" stroke-linecap="round"/>
<path d="M54.7 177.9 Q78.8 175.7 102.4 170.4" fill="none" stroke="rgb(162,162,162)" stroke-width="0.7" stroke-linecap="round" opacity="0.8"/>
<path d="M6.0 176.0 Q44.2 175.0 82.4 178.5" fill="none" stroke="#383838" stroke-width="2.2" stroke-linecap="round" opacity="0.5"/>
<path d="M6.0 174.6 Q44.2 173.6 82.4 177.1" fill="none" stroke="rgb(137,137,137)" stroke-width="2.5" stroke-linecap="round"/>
<path d="M6.0 174.0 Q44.2 173.0 82.4 176.5" fill="none" stroke="rgb(163,163,163)" stroke-width="0.9" stroke-linecap="round" opacity="0.8"/>
<path d="M109.4 251.0 Q136.2 250.8 162.2 244.8" fill="none" stroke="#383838" stroke-width="1.7" stroke-linecap="round" opacity="0.5"/>
<path d="M109.4 250.0 Q136.2 249.7 162.2 243.7" fill="none" stroke="rgb(148,148,148)" stroke-width="1.9" stroke-linecap="round"/>
<path d="M109.4 249.5 Q136.2 249.2 162.2 243.3" fill="none" stroke="rgb(174,174,174)" stroke-width="0.7" stroke-linecap="round" opacity="0.8"/>
<path d="M-13.2 160.0 Q37.7 159.6 88.3 165.2" fill="none" stroke="#383838" stroke-width="2.0" stroke-linecap="round" opacity="0.5"/>
<path d="M-13.2 158.8 Q37.7 158.4 88.3 164.0" fill="none" stroke="rgb(155,155,155)" stroke-width="2.2" stroke-linecap="round"/>
<path d="M-13.2 158.2 Q37.7 157.8 88.3 163.4" fill="none" stroke="rgb(181,181,181)" stroke-width="0.8" stroke-linecap="round" opacity="0.8"/>
<path d="M-36.4 226.1 Q15.1 221.9 66.7 217.4" fill="none" stroke="#383838" stroke-width="1.1" stroke-linecap="round" opacity="0.5"/>
<path d="M-36.4 225.5 Q15.1 221.3 66.7 216.7" fill="none" stroke="rgb(123,123,123)" stroke-width="1.2" stroke-linecap="round"/>
<path d="M14.5 172.0 Q30.8 169.7 47.3 170.8" fill="none" stroke="#383838" stroke-width="1.3" stroke-linecap="round" opacity="0.5"/>
<path d="M14.5 171.2 Q30.8 168.9 47.3 170.0" fill="none" stroke="rgb(135,135,135)" stroke-width="1.5" stroke-linecap="round"/>
<path d="M2.7 134.5 Q22.6 137.1 42.4 140.2" fill="none" stroke="#383838" stroke-width="2.0" stroke-linecap="round" opacity="0.5"/>
<path d="M2.7 133.3 Q22.6 135.9 42.4 139.0" fill="none" stroke="rgb(136,136,136)" stroke-width="2.2" stroke-linecap="round"/>
<path d="M2.7 132.7 Q22.6 135.3 42.4 138.5" fill="none" stroke="rgb(162,162,162)" stroke-width="0.8" stroke-linecap="round" opacity="0.8"/>
<path d="M68.2 164.7 Q122.0 171.8 176.2 173.9" fill="none" stroke="#383838" stroke-width="1.6" stroke-linecap="round" opacity="0.5"/>
<path d="M68.2 163.7 Q122.0 170.8 176.2 172.9" fill="none" stroke="rgb(124,124,124)" stroke-width="1.7" stroke-linecap="round"/>
<path d="M68.2 163.3 Q122.0 170.4 176.2 172.5" fill="none" stroke="rgb(150,150,150)" stroke-width="0.6" stroke-linecap="round" opacity="0.8"/>
<path d="M0.6 242.3 Q39.4 233.1 79.0 228.8" fill="none" stroke="#383838" stroke-width="1.8" stroke-linecap="round" opacity="0.5"/>
<path d="M0.6 241.2 Q39.4 232.0 79.0 227.7" fill="none" stroke="rgb(130,130,130)" stroke-width="2.0" stroke-linecap="round"/>
<path d="M0.6 240.7 Q39.4 231.5 79.0 227.2" fill="none" stroke="rgb(156,156,156)" stroke-width="0.7" stroke-linecap="round" opacity="0.8"/>
<path d="M33.9 171.3 Q57.3 176.4 81.1 178.5" fill="none" stroke="#383838" stroke-width="1.5" stroke-linecap="round" opacity="0.5"/>
<path d="M33.9 170.4 Q57.3 175.4 81.1 177.6" fill="none" stroke="rgb(147,147,147)" stroke-width="1.7" stroke-linecap="round"/>
<path d="M33.9 170.0 Q57.3 175.0 81.1 177.1" fill="none" stroke="rgb(173,173,173)" stroke-width="0.6" stroke-linecap="round" opacity="0.8"/>
<path d="M60.4 248.1 Q84.4 241.4 109.2 239.2" fill="none" stroke="#383838" stroke-width="2.1" stroke-linecap="round" opacity="0.5"/>
<path d="M60.4 246.8 Q84.4 240.1 109.2 237.9" fill="none" stroke="rgb(136,136,136)" stroke-width="2.3" stroke-linecap="round"/>
<path d="M60.4 246.2 Q84.4 239.6 109.2 237.3" fill="none" stroke="rgb(162,162,162)" stroke-width="0.8" stroke-linecap="round" opacity="0.8"/>
<path d="M74.3 185.9 Q114.3 184.7 154.2 188.3" fill="none" stroke="#383838" stroke-width="2.4" stroke-linecap="round" opacity="0.5"/>
<path d="M74.3 184.4 Q114.3 183.2 154.2 186.8" fill="none" stroke="rgb(153,153,153)" stroke-width="2.7" stroke-linecap="round"/>
<path d="M74.3 183.7 Q114.3 182.6 154.2 186.2" fill="none" stroke="rgb(179,179,179)" stroke-width="0.9" stroke-linecap="round" opacity="0.8"/>
<path d="M162.7 247.5 Q195.5 243.7 228.5 245.9" fill="none" stroke="#383838" stroke-width="2.4" stroke-linecap="round" opacity="0.5"/>
<path d="M162.7 246.0 Q195.5 242.2 228.5 244.4" fill="none" stroke="rgb(145,145,145)" stroke-width="2.6" stroke-linecap="round"/>
<path d="M162.7 245.4 Q195.5 241.6 228.5 243.8" fill="none" stroke="rgb(171,171,171)" stroke-width="0.9" stroke-linecap="round" opacity="0.8"/>
<path d="M134.2 226.0 Q153.8 224.3 173.3 222.3" fill="none" stroke="#383838" stroke-width="1.1" stroke-linecap="round" opacity="0.5"/>
<path d="M134.2 225.4 Q153.8 223.6 173.3 221.7" fill="none" stroke="rgb(133,133,133)" stroke-width="1.2" stroke-linecap="round"/>
<path d="M30.8 210.3 Q66.9 211.9 102.9 209.8" fill="none" stroke="#383838" stroke-width="0.9" stroke-linecap="round" opacity="0.5"/>
<path d="M30.8 209.8 Q66.9 211.3 102.9 209.2" fill="none" stroke="rgb(166,166,166)" stroke-width="1.0" stroke-linecap="round"/>
<path d="M24.9 244.3 Q64.1 240.9 102.7 233.2" fill="none" stroke="#383838" stroke-width="2.2" stroke-linecap="round" opacity="0.5"/>
<path d="M24.9 242.9 Q64.1 239.5 102.7 231.8" fill="none" stroke="rgb(140,140,140)" stroke-width="2.5" stroke-linecap="round"/>
<path d="M24.9 242.3 Q64.1 238.9 102.7 231.2" fill="none" stroke="rgb(166,166,166)" stroke-width="0.9" stroke-linecap="round" opacity="0.8"/>
<path d="M141.7 198.2 Q193.5 202.9 245.3 206.4" fill="none" stroke="#383838" stroke-width="1.4" stroke-linecap="round" opacity="0.5"/>
<path d="M141.7 197.3 Q193.5 202.0 245.3 205.5" fill="none" stroke="rgb(126,126,126)" stroke-width="1.6" stroke-linecap="round"/>
<path d="M38.4 227.1 Q75.6 226.9 112.6 230.3" fill="none" stroke="#383838" stroke-width="2.1" stroke-linecap="round" opacity="0.5"/>
<path d="M38.4 225.8 Q75.6 225.7 112.6 229.0" fill="none" stroke="rgb(117,117,117)" stroke-width="2.3" stroke-linecap="round"/>
<path d="M38.4 225.3 Q75.6 225.1 112.6 228.5" fill="none" stroke="rgb(143,143,143)" stroke-width="0.8" stroke-linecap="round" opacity="0.8"/>
<path d="M45.8 140.0 Q74.3 141.9 102.0 148.3" fill="none" stroke="#383838" stroke-width="2.1" stroke-linecap="round" opacity="0.5"/>
<path d="M45.8 138.7 Q74.3 140.6 102.0 147.0" fill="none" stroke="rgb(147,147,147)" stroke-width="2.3" stroke-linecap="round"/>
<path d="M45.8 138.1 Q74.3 140.0 102.0 146.4" fill="none" stroke="rgb(173,173,173)" stroke-width="0.8" stroke-linecap="round" opacity="0.8"/>
<path d="M139.6 245.1 Q185.3 241.7 230.9 236.9" fill="none" stroke="#383838" stroke-width="1.6" stroke-linecap="round" opacity="0.5"/>
<path d="M139.6 244.1 Q185.3 240.7 230.9 235.9" fill="none" stroke="rgb(149,149,149)" stroke-width="1.8" stroke-linecap="round"/>
<path d="M139.6 243.6 Q185.3 240.3 230.9 235.5" fill="none" stroke="rgb(175,175,175)" stroke-width="0.6" stroke-linecap="round" opacity="0.8"/>
<path d="M168.5 134.2 Q187.1 134.8 205.1 139.1" fill="none" stroke="#383838" stroke-width="2.3" stroke-linecap="round" opacity="0.5"/>
<path d="M168.5 132.8 Q187.1 133.4 205.1 137.7" fill="none" stroke="rgb(136,136,136)" stroke-width="2.5" stroke-linecap="round"/>
<path d="M168.5 132.2 Q187.1 132.8 205.1 137.1" fill="none" stroke="rgb(162,162,162)" stroke-width="0.9" stroke-linecap="round" opacity="0.8"/>
<path d="M157.4 185.3 Q196.5 188.3 235.6 191.8" fill="none" stroke="#383838" stroke-width="1.5" stroke-linecap="round" opacity="0.5"/>
<path d="M157.4 184.4 Q196.5 187.4 235.6 190.8" fill="none" stroke="rgb(117,117,117)" stroke-width="1.7" stroke-linecap="round"/>
<path d="M157.4 184.0 Q196.5 187.0 235.6 190.4" fill="none" stroke="rgb(143,143,143)" stroke-width="0.6" stroke-linecap="round" opacity="0.8"/>
<path d="M133.9 159.1 Q160.8 163.1 187.3 168.9" fill="none" stroke="#383838" stroke-width="2.2" stroke-linecap="round" opacity="0.5"/>
<path d="M133.9 157.8 Q160.8 161.8 187.3 167.5" fill="none" stroke="rgb(119,119,119)" stroke-width="2.4" stroke-linecap="round"/>
<path d="M133.9 157.2 Q160.8 161.2 187.3 166.9" fill="none" stroke="rgb(145,145,145)" stroke-width="0.8" stroke-linecap="round" opacity="0.8"/>
<path d="M27.7 138.2 Q75.5 145.3 123.2 152.9" fill="none" stroke="#383838" stroke-width="0.9" stroke-linecap="round" opacity="0.5"/>
<path d="M27.7 137.7 Q75.5 144.8 123.2 152.4" fill="none" stroke="rgb(141,141,141)" stroke-width="1.0" stroke-linecap="round"/>
<path d="M175.2 139.5 Q200.4 140.0 225.1 144.5" fill="none" stroke="#383838" stroke-width="1.4" stroke-linecap="round" opacity="0.5"/>
<path d="M175.2 138.6 Q200.4 139.1 225.1 143.6" fill="none" stroke="rgb(158,158,158)" stroke-width="1.6" stroke-linecap="round"/>
<path d="M120.5 239.3 Q142.0 236.3 163.7 238.6" fill="none" stroke="#383838" stroke-width="2.3" stroke-linecap="round" opacity="0.5"/>
<path d="M120.5 237.8 Q142.0 234.9 163.7 237.2" fill="none" stroke="rgb(144,144,144)" stroke-width="2.6" stroke-linecap="round"/>
<path d="M120.5 237.2 Q142.0 234.2 163.7 236.6" fill="none" stroke="rgb(170,170,170)" stroke-width="0.9" stroke-linecap="round" opacity="0.8"/>
<path d="M-9.1 211.2 Q36.2 206.6 81.7 206.7" fill="none" stroke="#383838" stroke-width="1.7" stroke-linecap="round" opacity="0.5"/>
<path d="M-9.1 210.2 Q36.2 205.5 81.7 205.7" fill="none" stroke="rgb(140,140,140)" stroke-width="1.9" stroke-linecap="round"/>
<path d="M-9.1 209.7 Q36.2 205.0 81.7 205.2" fill="none" stroke="rgb(166,166,166)" stroke-width="0.7" stroke-linecap="round" opacity="0.8"/>
<path d="M-27.5 131.0 Q24.3 139.1 75.6 150.6" fill="none" stroke="#383838" stroke-width="2.2" stroke-linecap="round" opacity="0.5"/>
<path d="M-27.5 129.7 Q24.3 137.7 75.6 149.3" fill="none" stroke="rgb(148,148,148)" stroke-width="2.4" stroke-linecap="round"/>
<path d="M-27.5 129.1 Q24.3 137.1 75.6 148.7" fill="none" stroke="rgb(174,174,174)" stroke-width="0.8" stroke-linecap="round" opacity="0.8"/>
<path d="M46.9 227.7 Q84.5 228.5 122.0 225.5" fill="none" stroke="#383838" stroke-width="2.4" stroke-linecap="round" opacity="0.5"/>
<path d="M46.9 226.2 Q84.5 227.0 122.0 224.0" fill="none" stroke="rgb(154,154,154)" stroke-width="2.7" stroke-linecap="round"/>
<path d="M46.9 225.6 Q84.5 226.4 122.0 223.4" fill="none" stroke="rgb(180,180,180)" stroke-width="0.9" stroke-linecap="round" opacity="0.8"/>
<path d="M176.6 135.1 Q194.0 135.9 211.1 139.0" fill="none" stroke="#383838" stroke-width="2.4" stroke-linecap="round" opacity="0.5"/>
<path d="M176.6 133.7 Q194.0 134.4 211.1 137.6" fill="none" stroke="rgb(139,139,139)" stroke-width="2.6" stroke-linecap="round"/>
<path d="M176.6 133.0 Q194.0 133.7 211.1 136.9" fill="none" stroke="rgb(165,165,165)" stroke-width="0.9" stroke-linecap="round" opacity="0.8"/>
<path d="M83.0 238.3 Q115.0 237.2 146.9 233.3" fill="none" stroke="#383838" stroke-width="1.6" stroke-linecap="round" opacity="0.5"/>
<path d="M83.0 237.4 Q115.0 236.2 146.9 232.3" fill="none" stroke="rgb(132,132,132)" stroke-width="1.8" stroke-linecap="round"/>
<path d="M83.0 236.9 Q115.0 235.8 146.9 231.9" fill="none" stroke="rgb(158,158,158)" stroke-width="0.6" stroke-linecap="round" opacity="0.8"/>
<path d="M50.0 156.4 Q99.4 157.2 148.7 154.1" fill="none" stroke="#383838" stroke-width="1.4" stroke-linecap="round" opacity="0.5"/>
<path d="M50.0 155.6 Q99.4 156.4 148.7 153.3" fill="none" stroke="rgb(161,161,161)" stroke-width="1.5" stroke-linecap="round"/>
<path d="M-19.2 217.6 Q33.9 215.6 86.5 208.0" fill="none" stroke="#383838" stroke-width="2.4" stroke-linecap="round" opacity="0.5"/>
<path d="M-19.2 216.1 Q33.9 214.1 86.5 206.5" fill="none" stroke="rgb(130,130,130)" stroke-width="2.7" stroke-linecap="round"/>
<path d="M-19.2 215.4 Q33.9 213.4 86.5 205.9" fill="none" stroke="rgb(156,156,156)" stroke-width="0.9" stroke-linecap="round" opacity="0.8"/>
<path d="M148.5 158.5 Q167.0 159.7 185.6 160.2" fill="none" stroke="#383838" stroke-width="1.0" stroke-linecap="round" opacity="0.5"/>
<path d="M148.5 157.9 Q167.0 159.1 185.6 159.6" fill="none" stroke="rgb(135,135,135)" stroke-width="1.1" stroke-linecap="round"/>
<path d="M144.0 153.3 Q190.9 162.9 236.8 176.7" fill="none" stroke="#383838" stroke-width="1.0" stroke-linecap="round" opacity="0.5"/>
<path d="M144.0 152.7 Q190.9 162.2 236.8 176.0" fill="none" stroke="rgb(132,132,132)" stroke-width="1.1" stroke-linecap="round"/>
<path d="M170.6 246.8 Q192.3 243.3 214.3 244.5" fill="none" stroke="#383838" stroke-width="1.0" stroke-linecap="round" opacity="0.5"/>
<path d="M170.6 246.2 Q192.3 242.7 214.3 243.9" fill="none" stroke="rgb(158,158,158)" stroke-width="1.2" stroke-linecap="round"/>
<path d="M10.6 201.1 Q40.4 203.2 70.3 201.9" fill="none" stroke="#383838" stroke-width="2.3" stroke-linecap="round" opacity="0.5"/>
<path d="M10.6 199.7 Q40.4 201.8 70.3 200.5" fill="none" stroke="rgb(133,133,133)" stroke-width="2.5" stroke-linecap="round"/>
<path d="M10.6 199.0 Q40.4 201.2 70.3 199.9" fill="none" stroke="rgb(159,159,159)" stroke-width="0.9" stroke-linecap="round" opacity="0.8"/>
<path d="M39.7 199.3 Q81.5 204.2 123.3 208.9" fill="none" stroke="#383838" stroke-width="1.6" stroke-linecap="round" opacity="0.5"/>
<path d="M39.7 198.4 Q81.5 203.3 123.3 208.0" fill="none" stroke="rgb(161,161,161)" stroke-width="1.7" stroke-linecap="round"/>
<path d="M39.7 197.9 Q81.5 202.8 123.3 207.5" fill="none" stroke="rgb(187,187,187)" stroke-width="0.6" stroke-linecap="round" opacity="0.8"/>
<path d="M147.9 129.7 Q172.4 137.4 197.6 142.5" fill="none" stroke="#383838" stroke-width="1.2" stroke-linecap="round" opacity="0.5"/>
<path d="M147.9 128.9 Q172.4 136.6 197.6 141.7" fill="none" stroke="rgb(144,144,144)" stroke-width="1.4" stroke-linecap="round"/>
<path d="M125.4 254.6 Q146.6 247.7 168.7 244.5" fill="none" stroke="#383838" stroke-width="1.6" stroke-linecap="round" opacity="0.5"/>
<path d="M125.4 253.7 Q146.6 246.7 168.7 243.5" fill="none" stroke="rgb(152,152,152)" stroke-width="1.8" stroke-linecap="round"/>
<path d="M125.4 253.2 Q146.6 246.3 168.7 243.1" fill="none" stroke="rgb(178,178,178)" stroke-width="0.6" stroke-linecap="round" opacity="0.8"/>
<path d="M106.1 229.2 Q139.0 228.2 171.6 223.1" fill="none" stroke="#383838" stroke-width="1.5" stroke-linecap="round" opacity="0.5"/>
<path d="M106.1 228.3 Q139.0 227.2 171.6 222.1" fill="none" stroke="rgb(145,145,145)" stroke-width="1.7" stroke-linecap="round"/>
<path d="M49.2 252.0 Q78.1 247.1 106.1 238.3" fill="none" stroke="#383838" stroke-width="2.3" stroke-linecap="round" opacity="0.5"/>
<path d="M49.2 250.6 Q78.1 245.7 106.1 236.9" fill="none" stroke="rgb(143,143,143)" stroke-width="2.6" stroke-linecap="round"/>
<path d="M49.2 250.0 Q78.1 245.1 106.1 236.2" fill="none" stroke="rgb(169,169,169)" stroke-width="0.9" stroke-linecap="round" opacity="0.8"/>
<path d="M70.5 188.5 Q90.4 185.0 110.6 183.7" fill="none" stroke="#383838" stroke-width="1.2" stroke-linecap="round" opacity="0.5"/>
<path d="M70.5 187.8 Q90.4 184.3 110.6 182.9" fill="none" stroke="rgb(134,134,134)" stroke-width="1.3" stroke-linecap="round"/>
<path d="M-11.5 182.4 Q22.7 185.3 56.4 191.7" fill="none" stroke="#383838" stroke-width="2.3" stroke-linecap="round" opacity="0.5"/>
<path d="M-11.5 181.0 Q22.7 183.9 56.4 190.3" fill="none" stroke="rgb(139,139,139)" stroke-width="2.6" stroke-linecap="round"/>
<path d="M-11.5 180.3 Q22.7 183.2 56.4 189.7" fill="none" stroke="rgb(165,165,165)" stroke-width="0.9" stroke-linecap="round" opacity="0.8"/>
<path d="M75.8 217.6 Q93.3 213.3 111.4 212.6" fill="none" stroke="#383838" stroke-width="0.9" stroke-linecap="round" opacity="0.5"/>
<path d="M75.8 217.0 Q93.3 212.7 111.4 212.0" fill="none" stroke="rgb(133,133,133)" stroke-width="1.0" stroke-linecap="round"/>
<path d="M119.2 152.2 Q159.8 152.5 200.2 154.0" fill="none" stroke="#383838" stroke-width="2.2" stroke-linecap="round" opacity="0.5"/>
<path d="M119.2 150.8 Q159.8 151.1 200.2 152.6" fill="none" stroke="rgb(147,147,147)" stroke-width="2.5" stroke-linecap="round"/>
<path d="M119.2 150.2 Q159.8 150.5 200.2 152.0" fill="none" stroke="rgb(173,173,173)" stroke-width="0.9" stroke-linecap="round" opacity="0.8"/>
<path d="M140.8 230.2 Q177.9 228.3 215.1 229.2" fill="none" stroke="#383838" stroke-width="2.4" stroke-linecap="round" opacity="0.5"/>
<path d="M140.8 228.7 Q177.9 226.8 215.1 227.8" fill="none" stroke="rgb(148,148,148)" stroke-width="2.6" stroke-linecap="round"/>
<path d="M140.8 228.1 Q177.9 226.2 215.1 227.1" fill="none" stroke="rgb(174,174,174)" stroke-width="0.9" stroke-linecap="round" opacity="0.8"/>
<path d="M78.4 156.5 Q122.8 155.0 167.0 158.2" fill="none" stroke="#383838" stroke-width="1.8" stroke-linecap="round" opacity="0.5"/>
<path d="M78.4 155.4 Q122.8 153.9 167.0 157.1" fill="none" stroke="rgb(115,115,115)" stroke-width="2.0" stroke-linecap="round"/>
<path d="M78.4 154.9 Q122.8 153.4 167.0 156.6" fill="none" stroke="rgb(141,141,141)" stroke-width="0.7" stroke-linecap="round" opacity="0.8"/>
<path d="M109.4 205.0 Q162.0 201.2 214.6 196.7" fill="none" stroke="#383838" stroke-width="1.6" stroke-linecap="round" opacity="0.5"/>
<path d="M109.4 204.0 Q162.0 200.2 214.6 195.7" fill="none" stroke="rgb(139,139,139)" stroke-width="1.8" stroke-linecap="round"/>
<path d="M109.4 203.6 Q162.0 199.8 214.6 195.3" fill="none" stroke="rgb(165,165,165)" stroke-width="0.6" stroke-linecap="round" opacity="0.8"/>
<path d="M94.1 211.5 Q143.5 209.0 192.7 204.0" fill="none" stroke="#383838" stroke-width="2.2" stroke-linecap="round" opacity="0.5"/>
<path d="M94.1 210.1 Q143.5 207.6 192.7 202.7" fill="none" stroke="rgb(139,139,139)" stroke-width="2.5" stroke-linecap="round"/>
<path d="M94.1 209.5 Q143.5 207.0 192.7 202.0" fill="none" stroke="rgb(165,165,165)" stroke-width="0.9" stroke-linecap="round" opacity="0.8"/>
<path d="M-8.9 188.7 Q40.1 189.2 89.1 187.0" fill="none" stroke="#383838" stroke-width="2.2" stroke-linecap="round" opacity="0.5"/>
<path d="M-8.9 187.3 Q40.1 187.8 89.1 185.6" fill="none" stroke="rgb(138,138,138)" stroke-width="2.5" stroke-linecap="round"/>
<path d="M-8.9 186.7 Q40.1 187.2 89.1 185.0" fill="none" stroke="rgb(164,164,164)" stroke-width="0.9" stroke-linecap="round" opacity="0.8"/>
<path d="M-0.9 224.9 Q47.0 211.8 96.1 204.4" fill="none" stroke="#383838" stroke-width="1.7" stroke-linecap="round" opacity="0.5"/>
<path d="M-0.9 223.8 Q47.0 210.7 96.1 203.3" fill="none" stroke="rgb(127,127,127)" stroke-width="1.9" stroke-linecap="round"/>
<path d="M-0.9 223.3 Q47.0 210.2 96.1 202.8" fill="none" stroke="rgb(153,153,153)" stroke-width="0.7" stroke-linecap="round" opacity="0.8"/>
<path d="M84.4 234.1 Q135.9 230.5 187.5 227.3" fill="none" stroke="#383838" stroke-width="2.1" stroke-linecap="round" opacity="0.5"/>
<path d="M84.4 232.8 Q135.9 229.2 187.5 226.0" fill="none" stroke="rgb(110,110,110)" stroke-width="2.4" stroke-linecap="round"/>
<path d="M84.4 232.2 Q135.9 228.6 187.5 225.4" fill="none" stroke="rgb(136,136,136)" stroke-width="0.8" stroke-linecap="round" opacity="0.8"/>
<path d="M4.9 150.1 Q21.1 155.4 38.0 157.4" fill="none" stroke="#383838" stroke-width="2.3" stroke-linecap="round" opacity="0.5"/>
<path d="M4.9 148.7 Q21.1 154.0 38.0 156.0" fill="none" stroke="rgb(131,131,131)" stroke-width="2.5" stroke-linecap="round"/>
<path d="M4.9 148.1 Q21.1 153.4 38.0 155.4" fill="none" stroke="rgb(157,157,157)" stroke-width="0.9" stroke-linecap="round" opacity="0.8"/>
<path d="M80.5 198.4 Q96.6 197.9 112.6 199.6" fill="none" stroke="#383838" stroke-width="1.0" stroke-linecap="round" opacity="0.5"/>
<path d="M80.5 197.8 Q96.6 197.3 112.6 199.0" fill="none" stroke="rgb(153,153,153)" stroke-width="1.1" stroke-linecap="round"/>
<path d="M87.3 149.3 Q109.1 152.7 130.9 156.6" fill="none" stroke="#383838" stroke-width="2.2" stroke-linecap="round" opacity="0.5"/>
<path d="M87.3 148.0 Q109.1 151.3 130.9 155.3" fill="none" stroke="rgb(149,149,149)" stroke-width="2.4" stroke-linecap="round"/>
<path d="M87.3 147.4 Q109.1 150.7 130.9 154.7" fill="none" stroke="rgb(175,175,175)" stroke-width="0.8" stroke-linecap="round" opacity="0.8"/>
<path d="M97.4 217.5 Q144.5 214.7 191.6 215.9" fill="none" stroke="#383838" stroke-width="1.0" stroke-linecap="round" opacity="0.5"/>
<path d="M97.4 216.9 Q144.5 214.1 191.6 215.3" fill="none" stroke="rgb(127,127,127)" stroke-width="1.1" stroke-linecap="round"/>
<path d="M24.1 173.4 Q63.1 174.2 102.0 172.1" fill="none" stroke="#383838" stroke-width="1.2" stroke-linecap="round" opacity="0.5"/>
<path d="M24.1 172.7 Q63.1 173.5 102.0 171.4" fill="none" stroke="rgb(142,142,142)" stroke-width="1.3" stroke-linecap="round"/>
<path d="M179.6 217.3 Q200.2 216.3 220.7 213.7" fill="none" stroke="#383838" stroke-width="1.7" stroke-linecap="round" opacity="0.5"/>
<path d="M179.6 216.3 Q200.2 215.2 220.7 212.6" fill="none" stroke="rgb(120,120,120)" stroke-width="1.9" stroke-linecap="round"/>
<path d="M179.6 215.8 Q200.2 214.8 220.7 212.1" fill="none" stroke="rgb(146,146,146)" stroke-width="0.7" stroke-linecap="round" opacity="0.8"/>
<path d="M131.5 185.9 Q174.8 187.8 217.8 193.4" fill="none" stroke="#383838" stroke-width="1.8" stroke-linecap="round" opacity="0.5"/>
<path d="M131.5 184.8 Q174.8 186.7 217.8 192.3" fill="none" stroke="rgb(164,164,164)" stroke-width="2.0" stroke-linecap="round"/>
<path d="M131.5 184.3 Q174.8 186.2 217.8 191.8" fill="none" stroke="rgb(190,190,190)" stroke-width="0.7" stroke-linecap="round" opacity="0.8"/>
<path d="M96.7 234.1 Q129.6 233.0 161.9 226.4" fill="none" stroke="#383838" stroke-width="2.4" stroke-linecap="round" opacity="0.5"/>
<path d="M96.7 232.6 Q129.6 231.5 161.9 224.9" fill="none" stroke="rgb(161,161,161)" stroke-width="2.7" stroke-linecap="round"/>
<path d="M96.7 231.9 Q129.6 230.8 161.9 224.2" fill="none" stroke="rgb(187,187,187)" stroke-width="0.9" stroke-linecap="round" opacity="0.8"/>
<path d="M39.1 188.0 Q69.1 190.0 99.1 192.4" fill="none" stroke="#383838" stroke-width="1.3" stroke-linecap="round" opacity="0.5"/>
<path d="M39.1 187.1 Q69.1 189.2 99.1 191.6" fill="none" stroke="rgb(155,155,155)" stroke-width="1.5" stroke-linecap="round"/>
<path d="M113.7 197.5 Q168.3 199.3 222.9 198.6" fill="none" stroke="#383838" stroke-width="1.0" stroke-linecap="round" opacity="0.5"/>
<path d="M113.7 196.9 Q168.3 198.7 222.9 198.0" fill="none" stroke="rgb(150,150,150)" stroke-width="1.1" stroke-linecap="round"/>
<path d="M25.0 151.4 Q64.0 162.3 104.2 168.2" fill="none" stroke="#383838" stroke-width="2.4" stroke-linecap="round" opacity="0.5"/>
<path d="M25.0 150.0 Q64.0 160.9 104.2 166.7" fill="none" stroke="rgb(141,141,141)" stroke-width="2.6" stroke-linecap="round"/>
<path d="M25.0 149.3 Q64.0 160.2 104.2 166.1" fill="none" stroke="rgb(167,167,167)" stroke-width="0.9" stroke-linecap="round" opacity="0.8"/>
<path d="M65.2 155.5 Q110.5 160.8 156.1 163.1" fill="none" stroke="#383838" stroke-width="1.5" stroke-linecap="round" opacity="0.5"/>
<path d="M65.2 154.6 Q110.5 159.9 156.1 162.2" fill="none" stroke="rgb(147,147,147)" stroke-width="1.6" stroke-linecap="round"/>
<path d="M110.9 180.0 Q130.8 181.9 150.8 183.2" fill="none" stroke="#383838" stroke-width="1.7" stroke-linecap="round" opacity="0.5"/>
<path d="M110.9 179.0 Q130.8 180.8 150.8 182.2" fill="none" stroke="rgb(158,158,158)" stroke-width="1.8" stroke-linecap="round"/>
<path d="M110.9 178.5 Q130.8 180.4 150.8 181.7" fill="none" stroke="rgb(184,184,184)" stroke-width="0.6" stroke-linecap="round" opacity="0.8"/>
<path d="M102.2 196.7 Q151.8 200.4 201.4 204.1" fill="none" stroke="#383838" stroke-width="1.5" stroke-linecap="round" opacity="0.5"/>
<path d="M102.2 195.8 Q151.8 199.5 201.4 203.2" fill="none" stroke="rgb(135,135,135)" stroke-width="1.6" stroke-linecap="round"/>
<path d="M13.9 151.0 Q57.7 153.1 101.3 157.4" fill="none" stroke="#383838" stroke-width="1.5" stroke-linecap="round" opacity="0.5"/>
<path d="M13.9 150.1 Q57.7 152.2 101.3 156.4" fill="none" stroke="rgb(144,144,144)" stroke-width="1.7" stroke-linecap="round"/>
<path d="M-17.4 129.7 Q21.8 135.0 60.4 143.5" fill="none" stroke="#383838" stroke-width="1.8" stroke-linecap="round" opacity="0.5"/>
<path d="M-17.4 128.6 Q21.8 133.9 60.4 142.4" fill="none" stroke="rgb(119,119,119)" stroke-width="2.0" stroke-linecap="round"/>
<path d="M-17.4 128.1 Q21.8 133.4 60.4 141.9" fill="none" stroke="rgb(145,145,145)" stroke-width="0.7" stroke-linecap="round" opacity="0.8"/>
<path d="M107.6 163.8 Q131.7 167.8 156.0 165.9" fill="none" stroke="#383838" stroke-width="1.1" stroke-linecap="round" opacity="0.5"/>
<path d="M107.6 163.1 Q131.7 167.1 156.0 165.3" fill="none" stroke="rgb(149,149,149)" stroke-width="1.2" stroke-linecap="round"/>
<path d="M-16.4 251.5 Q25.8 245.1 68.4 242.3" fill="none" stroke="#383838" stroke-width="1.9" stroke-linecap="round" opacity="0.5"/>
<path d="M-16.4 250.3 Q25.8 244.0 68.4 241.1" fill="none" stroke="rgb(137,137,137)" stroke-width="2.2" stroke-linecap="round"/>
<path d="M-16.4 249.8 Q25.8 243.4 68.4 240.6" fill="none" stroke="rgb(163,163,163)" stroke-width="0.8" stroke-linecap="round" opacity="0.8"/>
<path d="M55.9 185.3 Q107.0 186.8 158.0 188.1" fill="none" stroke="#383838" stroke-width="1.8" stroke-linecap="round" opacity="0.5"/>
<path d="M55.9 184.2 Q107.0 185.8 158.0 187.0" fill="none" stroke="rgb(144,144,144)" stroke-width="2.0" stroke-linecap="round"/>
<path d="M55.9 183.7 Q107.0 185.3 158.0 186.5" fill="none" stroke="rgb(170,170,170)" stroke-width="0.7" stroke-linecap="round" opacity="0.8"/>
<path d="M104.1 141.2 Q134.1 140.8 163.5 146.3" fill="none" stroke="#383838" stroke-width="1.4" stroke-linecap="round" opacity="0.5"/>
<path d="M104.1 140.4 Q134.1 140.0 163.5 145.5" fill="none" stroke="rgb(126,126,126)" stroke-width="1.5" stroke-linecap="round"/>
<path d="M-7.6 238.0 Q18.3 237.6 44.3 236.6" fill="none" stroke="#383838" stroke-width="1.2" stroke-linecap="round" opacity="0.5"/>
<path d="M-7.6 237.3 Q18.3 236.8 44.3 235.8" fill="none" stroke="rgb(148,148,148)" stroke-width="1.4" stroke-linecap="round"/>
<path d="M-21.4 200.7 Q19.2 195.8 59.9 192.2" fill="none" stroke="#383838" stroke-width="1.3" stroke-linecap="round" opacity="0.5"/>
<path d="M-21.4 199.9 Q19.2 195.0 59.9 191.4" fill="none" stroke="rgb(139,139,139)" stroke-width="1.4" stroke-linecap="round"/>
<path d="M105.0 162.9 Q152.8 168.4 200.7 172.0" fill="none" stroke="#383838" stroke-width="2.3" stroke-linecap="round" opacity="0.5"/>
<path d="M105.0 161.5 Q152.8 167.0 200.7 170.6" fill="none" stroke="rgb(157,157,157)" stroke-width="2.5" stroke-linecap="round"/>
<path d="M105.0 160.9 Q152.8 166.4 200.7 169.9" fill="none" stroke="rgb(183,183,183)" stroke-width="0.9" stroke-linecap="round" opacity="0.8"/>
<path d="M36.4 175.6 Q62.6 177.9 88.9 177.8" fill="none" stroke="#383838" stroke-width="2.2" stroke-linecap="round" opacity="0.5"/>
<path d="M36.4 174.3 Q62.6 176.6 88.9 176.5" fill="none" stroke="rgb(131,131,131)" stroke-width="2.4" stroke-linecap="round"/>
<path d="M36.4 173.7 Q62.6 176.0 88.9 175.9" fill="none" stroke="rgb(157,157,157)" stroke-width="0.8" stroke-linecap="round" opacity="0.8"/>
<path d="M142.4 195.9 Q168.6 194.8 194.9 194.3" fill="none" stroke="#383838" stroke-width="1.0" stroke-linecap="round" opacity="0.5"/>
<path d="M142.4 195.3 Q168.6 194.2 194.9 193.7" fill="none" stroke="rgb(131,131,131)" stroke-width="1.1" stroke-linecap="round"/>
<path d="M20.6 136.7 Q45.4 142.9 70.5 148.1" fill="none" stroke="#383838" stroke-width="1.6" stroke-linecap="round" opacity="0.5"/>
<path d="M20.6 135.7 Q45.4 141.9 70.5 147.1" fill="none" stroke="rgb(138,138,138)" stroke-width="1.7" stroke-linecap="round"/>
<path d="M20.6 135.3 Q45.4 141.5 70.5 146.7" fill="none" stroke="rgb(164,164,164)" stroke-width="0.6" stroke-linecap="round" opacity="0.8"/>
<path d="M58.5 197.3 Q83.8 199.7 109.2 201.3" fill="none" stroke="#383838" stroke-width="1.6" stroke-linecap="round" opacity="0.5"/>
<path d="M58.5 196.4 Q83.8 198.7 109.2 200.4" fill="none" stroke="rgb(126,126,126)" stroke-width="1.8" stroke-linecap="round"/>
<path d="M58.5 195.9 Q83.8 198.3 109.2 199.9" fill="none" stroke="rgb(152,152,152)" stroke-width="0.6" stroke-linecap="round" opacity="0.8"/>
<path d="M32.7 225.0 Q81.1 222.2 129.5 222.7" fill="none" stroke="#383838" stroke-width="2.3" stroke-linecap="round" opacity="0.5"/>
<path d="M32.7 223.6 Q81.1 220.8 129.5 221.3" fill="none" stroke="rgb(141,141,141)" stroke-width="2.5" stroke-linecap="round"/>
<path d="M32.7 223.0 Q81.1 220.1 129.5 220.7" fill="none" stroke="rgb(167,167,167)" stroke-width="0.9" stroke-linecap="round" opacity="0.8"/>
<path d="M-9.5 177.7 Q30.9 184.1 71.7 187.1" fill="none" stroke="#383838" stroke-width="2.4" stroke-linecap="round" opacity="0.5"/>
<path d="M-9.5 176.3 Q30.9 182.6 71.7 185.6" fill="none" stroke="rgb(156,156,156)" stroke-width="2.6" stroke-linecap="round"/>
<path d="M-9.5 175.6 Q30.9 182.0 71.7 185.0" fill="none" stroke="rgb(182,182,182)" stroke-width="0.9" stroke-linecap="round" opacity="0.8"/>
<path d="M139.7 150.0 Q167.8 155.7 196.4 155.3" fill="none" stroke="#383838" stroke-width="2.3" stroke-linecap="round" opacity="0.5"/>
<path d="M139.7 148.7 Q167.8 154.3 196.4 154.0" fill="none" stroke="rgb(157,157,157)" stroke-width="2.5" stroke-linecap="round"/>
<path d="M139.7 148.0 Q167.8 153.7 196.4 153.3" fill="none" stroke="rgb(183,183,183)" stroke-width="0.9" stroke-linecap="round" opacity="0.8"/>
<path d="M21.2 195.8 Q60.6 196.4 99.6 201.9" fill="none" stroke="#383838" stroke-width="1.1" stroke-linecap="round" opacity="0.5"/>
<path d="M21.2 195.1 Q60.6 195.8 99.6 201.2" fill="none" stroke="rgb(142,142,142)" stroke-width="1.2" stroke-linecap="round"/>
<path d="M19.0 188.9 Q37.7 190.1 56.4 188.7" fill="none" stroke="#383838" stroke-width="1.0" stroke-linecap="round" opacity="0.5"/>
<path d="M19.0 188.3 Q37.7 189.5 56.4 188.1" fill="none" stroke="rgb(136,136,136)" stroke-width="1.1" stroke-linecap="round"/>
<path d="M60.4 224.9 Q98.4 223.1 136.3 219.2" fill="none" stroke="#383838" stroke-width="2.2" stroke-linecap="round" opacity="0.5"/>
<path d="M60.4 223.6 Q98.4 221.8 136.3 217.8" fill="none" stroke="rgb(148,148,148)" stroke-width="2.5" stroke-linecap="round"/>
<path d="M60.4 223.0 Q98.4 221.2 136.3 217.2" fill="none" stroke="rgb(174,174,174)" stroke-width="0.9" stroke-linecap="round" opacity="0.8"/>
<path d="M20.7 134.8 Q59.2 146.7 99.0 152.9" fill="none" stroke="#383838" stroke-width="2.3" stroke-linecap="round" opacity="0.5"/>
<path d="M20.7 133.4 Q59.2 145.3 99.0 151.5" fill="none" stroke="rgb(135,135,135)" stroke-width="2.6" stroke-linecap="round"/>
<path d="M20.7 132.7 Q59.2 144.7 99.0 150.9" fill="none" stroke="rgb(161,161,161)" stroke-width="0.9" stroke-linecap="round" opacity="0.8"/>
<path d="M0.8 150.4 Q34.3 154.2 67.3 160.8" fill="none" stroke="#383838" stroke-width="2.1" stroke-linecap="round" opacity="0.5"/>
<path d="M0.8 149.1 Q34.3 152.9 67.3 159.5" fill="none" stroke="rgb(154,154,154)" stroke-width="2.4" stroke-linecap="round"/>
<path d="M0.8 148.5 Q34.3 152.3 67.3 158.9" fill="none" stroke="rgb(180,180,180)" stroke-width="0.8" stroke-linecap="round" opacity="0.8"/>
<path d="M118.8 158.1 Q166.1 163.5 213.5 168.0" fill="none" stroke="#383838" stroke-width="1.0" stroke-linecap="round" opacity="0.5"/>
<path d="M118.8 157.6 Q166.1 163.0 213.5 167.4" fill="none" stroke="rgb(148,148,148)" stroke-width="1.1" stroke-linecap="round"/>
<path d="M-17.5 214.1 Q14.2 216.4 45.9 215.7" fill="none" stroke="#383838" stroke-width="2.2" stroke-linecap="round" opacity="0.5"/>
<path d="M-17.5 212.7 Q14.2 215.1 45.9 214.4" fill="none" stroke="rgb(138,138,138)" stroke-width="2.4" stroke-linecap="round"/>
<path d="M-17.5 212.1 Q14.2 214.5 45.9 213.8" fill="none" stroke="rgb(164,164,164)" stroke-width="0.8" stroke-linecap="round" opacity="0.8"/>
<path d="M42.8 229.1 Q81.5 224.3 120.1 219.1" fill="none" stroke="#383838" stroke-width="1.1" stroke-linecap="round" opacity="0.5"/>
<path d="M42.8 228.4 Q81.5 223.6 120.1 218.4" fill="none" stroke="rgb(137,137,137)" stroke-width="1.3" stroke-linecap="round"/>
<path d="M55.0 178.4 Q109.3 181.8 163.0 190.0" fill="none" stroke="#383838" stroke-width="1.8" stroke-linecap="round" opacity="0.5"/>
<path d="M55.0 177.3 Q109.3 180.7 163.0 188.9" fill="none" stroke="rgb(170,170,170)" stroke-width="1.9" stroke-linecap="round"/>
<path d="M55.0 176.8 Q109.3 180.2 163.0 188.4" fill="none" stroke="rgb(196,196,196)" stroke-width="0.7" stroke-linecap="round" opacity="0.8"/>
<path d="M82.6 157.8 Q117.3 153.6 152.2 154.4" fill="none" stroke="#383838" stroke-width="2.3" stroke-linecap="round" opacity="0.5"/>
<path d="M82.6 156.4 Q117.3 152.2 152.2 153.0" fill="none" stroke="rgb(148,148,148)" stroke-width="2.5" stroke-linecap="round"/>
<path d="M82.6 155.8 Q117.3 151.5 152.2 152.4" fill="none" stroke="rgb(174,174,174)" stroke-width="0.9" stroke-linecap="round" opacity="0.8"/>
<path d="M156.4 242.9 Q177.4 240.2 198.5 242.0" fill="none" stroke="#383838" stroke-width="0.9" stroke-linecap="round" opacity="0.5"/>
<path d="M156.4 242.3 Q177.4 239.6 198.5 241.4" fill="none" stroke="rgb(152,152,152)" stroke-width="1.1" stroke-linecap="round"/>
<path d="M68.7 154.1 Q107.8 155.8 146.3 162.6" fill="none" stroke="#383838" stroke-width="1.9" stroke-linecap="round" opacity="0.5"/>
<path d="M68.7 152.9 Q107.8 154.7 146.3 161.5" fill="none" stroke="rgb(164,164,164)" stroke-width="2.1" stroke-linecap="round"/>
<path d="M68.7 152.4 Q107.8 154.2 146.3 161.0" fill="none" stroke="rgb(190,190,190)" stroke-width="0.7" stroke-linecap="round" opacity="0.8"/>
<path d="M86.0 239.8 Q140.7 240.5 195.5 242.1" fill="none" stroke="#383838" stroke-width="1.4" stroke-linecap="round" opacity="0.5"/>
<path d="M86.0 238.9 Q140.7 239.6 195.5 241.3" fill="none" stroke="rgb(151,151,151)" stroke-width="1.5" stroke-linecap="round"/>
<path d="M58.6 130.3 Q97.6 139.9 136.9 148.2" fill="none" stroke="#383838" stroke-width="1.1" stroke-linecap="round" opacity="0.5"/>
<path d="M58.6 129.6 Q97.6 139.3 136.9 147.5" fill="none" stroke="rgb(164,164,164)" stroke-width="1.2" stroke-linecap="round"/>
<path d="M96.1 136.5 Q115.8 134.9 135.2 138.2" fill="none" stroke="#383838" stroke-width="1.1" stroke-linecap="round" opacity="0.5"/>
<path d="M96.1 135.8 Q115.8 134.3 135.2 137.5" fill="none" stroke="rgb(146,146,146)" stroke-width="1.3" stroke-linecap="round"/>
<path d="M33.7 230.1 Q54.3 230.4 74.6 227.4" fill="none" stroke="#383838" stroke-width="2.1" stroke-linecap="round" opacity="0.5"/>
<path d="M33.7 228.8 Q54.3 229.1 74.6 226.1" fill="none" stroke="rgb(139,139,139)" stroke-width="2.4" stroke-linecap="round"/>
<path d="M33.7 228.2 Q54.3 228.5 74.6 225.5" fill="none" stroke="rgb(165,165,165)" stroke-width="0.8" stroke-linecap="round" opacity="0.8"/>
<path d="M124.5 182.8 Q178.3 177.5 232.3 176.4" fill="none" stroke="#383838" stroke-width="2.2" stroke-linecap="round" opacity="0.5"/>
<path d="M124.5 181.5 Q178.3 176.2 232.3 175.0" fill="none" stroke="rgb(155,155,155)" stroke-width="2.4" stroke-linecap="round"/>
<path d="M124.5 180.9 Q178.3 175.6 232.3 174.4" fill="none" stroke="rgb(181,181,181)" stroke-width="0.8" stroke-linecap="round" opacity="0.8"/>
<path d="M-5.5 214.8 Q18.6 212.9 42.7 213.8" fill="none" stroke="#383838" stroke-width="1.2" stroke-linecap="round" opacity="0.5"/>
<path d="M-5.5 214.1 Q18.6 212.2 42.7 213.1" fill="none" stroke="rgb(161,161,161)" stroke-width="1.3" stroke-linecap="round"/>
<path d="M1.8 136.0 Q48.2 147.0 95.5 153.0" fill="none" stroke="#383838" stroke-width="1.6" stroke-linecap="round" opacity="0.5"/>
<path d="M1.8 135.0 Q48.2 146.0 95.5 152.0" fill="none" stroke="rgb(129,129,129)" stroke-width="1.7" stroke-linecap="round"/>
<path d="M1.8 134.6 Q48.2 145.6 95.5 151.6" fill="none" stroke="rgb(155,155,155)" stroke-width="0.6" stroke-linecap="round" opacity="0.8"/>
<path d="M97.8 199.1 Q113.8 201.3 129.5 197.9" fill="none" stroke="#383838" stroke-width="1.9" stroke-linecap="round" opacity="0.5"/>
<path d="M97.8 197.9 Q113.8 200.1 129.5 196.7" fill="none" stroke="rgb(153,153,153)" stroke-width="2.1" stroke-linecap="round"/>
<path d="M97.8 197.4 Q113.8 199.6 129.5 196.2" fill="none" stroke="rgb(179,179,179)" stroke-width="0.7" stroke-linecap="round" opacity="0.8"/>
<path d="M82.3 162.1 Q129.4 173.3 177.4 179.1" fill="none" stroke="#383838" stroke-width="1.0" stroke-linecap="round" opacity="0.5"/>
<path d="M82.3 161.5 Q129.4 172.8 177.4 178.5" fill="none" stroke="rgb(158,158,158)" stroke-width="1.1" stroke-linecap="round"/>
<path d="M120.2 253.9 Q154.2 248.9 188.0 243.4" fill="none" stroke="#383838" stroke-width="2.0" stroke-linecap="round" opacity="0.5"/>
<path d="M120.2 252.6 Q154.2 247.6 188.0 242.2" fill="none" stroke="rgb(135,135,135)" stroke-width="2.3" stroke-linecap="round"/>
<path d="M120.2 252.1 Q154.2 247.1 188.0 241.6" fill="none" stroke="rgb(161,161,161)" stroke-width="0.8" stroke-linecap="round" opacity="0.8"/>
<path d="M44.7 231.7 Q97.1 226.8 149.6 223.7" fill="none" stroke="#383838" stroke-width="2.4" stroke-linecap="round" opacity="0.5"/>
<path d="M44.7 230.2 Q97.1 225.3 149.6 222.3" fill="none" stroke="rgb(156,156,156)" stroke-width="2.7" stroke-linecap="round"/>
<path d="M44.7 229.6 Q97.1 224.6 149.6 221.6" fill="none" stroke="rgb(182,182,182)" stroke-width="0.9" stroke-linecap="round" opacity="0.8"/>
<path d="M53.7 199.1 Q80.3 199.2 106.7 195.8" fill="none" stroke="#383838" stroke-width="1.6" stroke-linecap="round" opacity="0.5"/>
<path d="M53.7 198.2 Q80.3 198.3 106.7 194.8" fill="none" stroke="rgb(149,149,149)" stroke-width="1.8" stroke-linecap="round"/>
<path d="M53.7 197.7 Q80.3 197.8 106.7 194.4" fill="none" stroke="rgb(175,175,175)" stroke-width="0.6" stroke-linecap="round" opacity="0.8"/>
<path d="M103.8 247.9 Q155.9 242.9 207.8 236.3" fill="none" stroke="#383838" stroke-width="2.0" stroke-linecap="round" opacity="0.5"/>
<path d="M103.8 246.7 Q155.9 241.7 207.8 235.1" fill="none" stroke="rgb(169,169,169)" stroke-width="2.2" stroke-linecap="round"/>
<path d="M103.8 246.2 Q155.9 241.1 207.8 234.6" fill="none" stroke="rgb(195,195,195)" stroke-width="0.8" stroke-linecap="round" opacity="0.8"/>
<path d="M65.7 243.0 Q103.0 238.5 140.6 238.5" fill="none" stroke="#383838" stroke-width="1.4" stroke-linecap="round" opacity="0.5"/>
<path d="M65.7 242.1 Q103.0 237.7 140.6 237.6" fill="none" stroke="rgb(144,144,144)" stroke-width="1.6" stroke-linecap="round"/>
<path d="M119.8 187.8 Q147.6 187.0 175.4 186.3" fill="none" stroke="#383838" stroke-width="1.4" stroke-linecap="round" opacity="0.5"/>
<path d="M119.8 187.0 Q147.6 186.2 175.4 185.4" fill="none" stroke="rgb(160,160,160)" stroke-width="1.5" stroke-linecap="round"/>
<path d="M105.1 136.1 Q128.9 137.7 152.7 136.6" fill="none" stroke="#383838" stroke-width="1.8" stroke-linecap="round" opacity="0.5"/>
<path d="M105.1 135.0 Q128.9 136.6 152.7 135.5" fill="none" stroke="rgb(144,144,144)" stroke-width="2.0" stroke-linecap="round"/>
<path d="M105.1 134.5 Q128.9 136.1 152.7 135.0" fill="none" stroke="rgb(170,170,170)" stroke-width="0.7" stroke-linecap="round" opacity="0.8"/>
<path d="M47.9 249.0 Q92.5 238.9 137.6 231.4" fill="none" stroke="#383838" stroke-width="2.1" stroke-linecap="round" opacity="0.5"/>
<path d="M47.9 247.7 Q92.5 237.6 137.6 230.1" fill="none" stroke="rgb(147,147,147)" stroke-width="2.4" stroke-linecap="round"/>
<path d="M47.9 247.1 Q92.5 237.0 137.6 229.5" fill="none" stroke="rgb(173,173,173)" stroke-width="0.8" stroke-linecap="round" opacity="0.8"/>
<path d="M28.8 188.9 Q63.7 194.5 99.0 195.7" fill="none" stroke="#383838" stroke-width="2.3" stroke-linecap="round" opacity="0.5"/>
<path d="M28.8 187.5 Q63.7 193.1 99.0 194.3" fill="none" stroke="rgb(152,152,152)" stroke-width="2.6" stroke-linecap="round"/>
<path d="M28.8 186.8 Q63.7 192.4 99.0 193.6" fill="none" stroke="rgb(178,178,178)" stroke-width="0.9" stroke-linecap="round" opacity="0.8"/>
<path d="M83.3 212.6 Q113.0 216.0 142.8 218.1" fill="none" stroke="#383838" stroke-width="1.7" stroke-linecap="round" opacity="0.5"/>
<path d="M83.3 211.6 Q113.0 214.9 142.8 217.0" fill="none" stroke="rgb(158,158,158)" stroke-width="1.9" stroke-linecap="round"/>
<path d="M83.3 211.1 Q113.0 214.5 142.8 216.5" fill="none" stroke="rgb(184,184,184)" stroke-width="0.7" stroke-linecap="round" opacity="0.8"/>
<path d="M100.6 253.4 Q127.6 249.8 153.5 241.4" fill="none" stroke="#383838" stroke-width="2.0" stroke-linecap="round" opacity="0.5"/>
<path d="M100.6 252.2 Q127.6 248.6 153.5 240.2" fill="none" stroke="rgb(138,138,138)" stroke-width="2.2" stroke-linecap="round"/>
<path d="M100.6 251.6 Q127.6 248.0 153.5 239.7" fill="none" stroke="rgb(164,164,164)" stroke-width="0.8" stroke-linecap="round" opacity="0.8"/>
<path d="M1.3 228.3 Q18.0 229.1 34.2 225.2" fill="none" stroke="#383838" stroke-width="2.1" stroke-linecap="round" opacity="0.5"/>
<path d="M1.3 227.0 Q18.0 227.8 34.2 223.9" fill="none" stroke="rgb(159,159,159)" stroke-width="2.4" stroke-linecap="round"/>
<path d="M1.3 226.4 Q18.0 227.2 34.2 223.3" fill="none" stroke="rgb(185,185,185)" stroke-width="0.8" stroke-linecap="round" opacity="0.8"/>
<path d="M74.3 195.6 Q116.0 195.8 157.3 201.4" fill="none" stroke="#383838" stroke-width="1.6" stroke-linecap="round" opacity="0.5"/>
<path d="M74.3 194.6 Q116.0 194.8 157.3 200.4" fill="none" stroke="rgb(150,150,150)" stroke-width="1.8" stroke-linecap="round"/>
<path d="M74.3 194.1 Q116.0 194.3 157.3 199.9" fill="none" stroke="rgb(176,176,176)" stroke-width="0.6" stroke-linecap="round" opacity="0.8"/>
<path d="M48.9 164.8 Q68.7 168.7 89.0 168.4" fill="none" stroke="#383838" stroke-width="1.9" stroke-linecap="round" opacity="0.5"/>
<path d="M48.9 163.6 Q68.7 167.5 89.0 167.2" fill="none" stroke="rgb(159,159,159)" stroke-width="2.1" stroke-linecap="round"/>
<path d="M48.9 163.1 Q68.7 167.0 89.0 166.7" fill="none" stroke="rgb(185,185,185)" stroke-width="0.7" stroke-linecap="round" opacity="0.8"/>
<path d="M27.4 226.5 Q70.8 223.5 114.4 224.8" fill="none" stroke="#383838" stroke-width="2.2" stroke-linecap="round" opacity="0.5"/>
<path d="M27.4 225.1 Q70.8 222.1 114.4 223.5" fill="none" stroke="rgb(153,153,153)" stroke-width="2.5" stroke-linecap="round"/>
<path d="M27.4 224.5 Q70.8 221.5 114.4 222.8" fill="none" stroke="rgb(179,179,179)" stroke-width="0.9" stroke-linecap="round" opacity="0.8"/>
<path d="M82.4 200.9 Q129.6 202.8 176.9 202.0" fill="none" stroke="#383838" stroke-width="1.1" stroke-linecap="round" opacity="0.5"/>
<path d="M82.4 200.2 Q129.6 202.1 176.9 201.3" fill="none" stroke="rgb(124,124,124)" stroke-width="1.2" stroke-linecap="round"/>
<path d="M128.0 209.3 Q181.3 210.5 234.5 214.1" fill="none" stroke="#383838" stroke-width="2.4" stroke-linecap="round" opacity="0.5"/>
<path d="M128.0 207.9 Q181.3 209.1 234.5 212.6" fill="none" stroke="rgb(155,155,155)" stroke-width="2.6" stroke-linecap="round"/>
<path d="M128.0 207.2 Q181.3 208.4 234.5 212.0" fill="none" stroke="rgb(181,181,181)" stroke-width="0.9" stroke-linecap="round" opacity="0.8"/>
<path d="M45.9 168.7 Q75.9 168.0 105.8 167.2" fill="none" stroke="#383838" stroke-width="1.3" stroke-linecap="round" opacity="0.5"/>
<path d="M45.9 167.9 Q75.9 167.2 105.8 166.4" fill="none" stroke="rgb(155,155,155)" stroke-width="1.4" stroke-linecap="round"/>
<path d="M162.9 170.9 Q187.2 177.2 212.3 178.5" fill="none" stroke="#383838" stroke-width="2.1" stroke-linecap="round" opacity="0.5"/>
<path d="M162.9 169.7 Q187.2 175.9 212.3 177.2" fill="none" stroke="rgb(138,138,138)" stroke-width="2.3" stroke-linecap="round"/>
<path d="M162.9 169.1 Q187.2 175.3 212.3 176.7" fill="none" stroke="rgb(164,164,164)" stroke-width="0.8" stroke-linecap="round" opacity="0.8"/>
<path d="M182.8 168.4 Q197.7 171.6 212.9 169.9" fill="none" stroke="#383838" stroke-width="1.5" stroke-linecap="round" opacity="0.5"/>
<path d="M182.8 167.5 Q197.7 170.7 212.9 169.0" fill="none" stroke="rgb(129,129,129)" stroke-width="1.7" stroke-linecap="round"/>
<path d="M123.9 202.1 Q163.5 201.4 202.9 198.0" fill="none" stroke="#383838" stroke-width="1.4" stroke-linecap="round" opacity="0.5"/>
<path d="M123.9 201.3 Q163.5 200.6 202.9 197.1" fill="none" stroke="rgb(152,152,152)" stroke-width="1.5" stroke-linecap="round"/>
<path d="M63.2 192.5 Q104.3 195.8 145.6 195.8" fill="none" stroke="#383838" stroke-width="1.0" stroke-linecap="round" opacity="0.5"/>
<path d="M63.2 191.9 Q104.3 195.1 145.6 195.2" fill="none" stroke="rgb(146,146,146)" stroke-width="1.2" stroke-linecap="round"/>
<path d="M16.1 202.1 Q51.4 200.5 86.6 197.7" fill="none" stroke="#383838" stroke-width="1.5" stroke-linecap="round" opacity="0.5"/>
<path d="M16.1 201.2 Q51.4 199.6 86.6 196.8" fill="none" stroke="rgb(132,132,132)" stroke-width="1.7" stroke-linecap="round"/>
<path d="M155.4 234.7 Q188.3 229.0 221.7 229.2" fill="none" stroke="#383838" stroke-width="2.3" stroke-linecap="round" opacity="0.5"/>
<path d="M155.4 233.2 Q188.3 227.6 221.7 227.8" fill="none" stroke="rgb(138,138,138)" stroke-width="2.6" stroke-linecap="round"/>
<path d="M155.4 232.6 Q188.3 226.9 221.7 227.2" fill="none" stroke="rgb(164,164,164)" stroke-width="0.9" stroke-linecap="round" opacity="0.8"/>
<path d="M67.4 230.6 Q118.5 224.6 169.2 215.5" fill="none" stroke="#383838" stroke-width="1.8" stroke-linecap="round" opacity="0.5"/>
<path d="M67.4 229.5 Q118.5 223.5 169.2 214.4" fill="none" stroke="rgb(145,145,145)" stroke-width="2.0" stroke-linecap="round"/>
<path d="M67.4 229.0 Q118.5 223.0 169.2 213.9" fill="none" stroke="rgb(171,171,171)" stroke-width="0.7" stroke-linecap="round" opacity="0.8"/>
<path d="M55.9 207.5 Q81.1 207.0 106.3 207.7" fill="none" stroke="#383838" stroke-width="1.2" stroke-linecap="round" opacity="0.5"/>
<path d="M55.9 206.8 Q81.1 206.3 106.3 206.9" fill="none" stroke="rgb(151,151,151)" stroke-width="1.3" stroke-linecap="round"/>
<path d="M-7.1 228.7 Q35.3 226.8 77.4 220.5" fill="none" stroke="#383838" stroke-width="1.5" stroke-linecap="round" opacity="0.5"/>
<path d="M-7.1 227.8 Q35.3 225.9 77.4 219.6" fill="none" stroke="rgb(154,154,154)" stroke-width="1.7" stroke-linecap="round"/>
<path d="M-7.1 227.3 Q35.3 225.5 77.4 219.1" fill="none" stroke="rgb(180,180,180)" stroke-width="0.6" stroke-linecap="round" opacity="0.8"/>
<path d="M139.3 213.6 Q169.7 216.4 200.1 214.3" fill="none" stroke="#383838" stroke-width="1.4" stroke-linecap="round" opacity="0.5"/>
<path d="M139.3 212.8 Q169.7 215.5 200.1 213.4" fill="none" stroke="rgb(136,136,136)" stroke-width="1.6" stroke-linecap="round"/>
<path d="M120.3 140.7 Q138.1 140.6 155.8 140.1" fill="none" stroke="#383838" stroke-width="1.6" stroke-linecap="round" opacity="0.5"/>
<path d="M120.3 139.8 Q138.1 139.6 155.8 139.2" fill="none" stroke="rgb(153,153,153)" stroke-width="1.7" stroke-linecap="round"/>
<path d="M120.3 139.3 Q138.1 139.2 155.8 138.7" fill="none" stroke="rgb(179,179,179)" stroke-width="0.6" stroke-linecap="round" opacity="0.8"/>
<path d="M4.6 205.9 Q36.0 206.2 67.2 202.7" fill="none" stroke="#383838" stroke-width="1.8" stroke-linecap="round" opacity="0.5"/>
<path d="M4.6 204.8 Q36.0 205.1 67.2 201.6" fill="none" stroke="rgb(156,156,156)" stroke-width="2.0" stroke-linecap="round"/>
<path d="M4.6 204.3 Q36.0 204.6 67.2 201.1" fill="none" stroke="rgb(182,182,182)" stroke-width="0.7" stroke-linecap="round" opacity="0.8"/>
<path d="M74.5 205.7 Q111.8 206.7 148.9 202.1" fill="none" stroke="#383838" stroke-width="0.9" stroke-linecap="round" opacity="0.5"/>
<path d="M74.5 205.1 Q111.8 206.1 148.9 201.6" fill="none" stroke="rgb(130,130,130)" stroke-width="1.0" stroke-linecap="round"/>
<path d="M60.3 134.4 Q104.3 137.0 147.5 145.2" fill="none" stroke="#383838" stroke-width="1.8" stroke-linecap="round" opacity="0.5"/>
<path d="M60.3 133.2 Q104.3 135.9 147.5 144.1" fill="none" stroke="rgb(137,137,137)" stroke-width="2.0" stroke-linecap="round"/>
<path d="M60.3 132.7 Q104.3 135.4 147.5 143.6" fill="none" stroke="rgb(163,163,163)" stroke-width="0.7" stroke-linecap="round" opacity="0.8"/>
<path d="M104.6 221.9 Q150.3 209.2 197.1 202.4" fill="none" stroke="#383838" stroke-width="1.5" stroke-linecap="round" opacity="0.5"/>
<path d="M104.6 220.9 Q150.3 208.3 197.1 201.4" fill="none" stroke="rgb(154,154,154)" stroke-width="1.7" stroke-linecap="round"/>
<path d="M104.6 220.5 Q150.3 207.8 197.1 201.0" fill="none" stroke="rgb(180,180,180)" stroke-width="0.6" stroke-linecap="round" opacity="0.8"/>
<path d="M3.0 170.3 Q26.8 174.0 50.9 173.0" fill="none" stroke="#383838" stroke-width="1.9" stroke-linecap="round" opacity="0.5"/>
<path d="M3.0 169.2 Q26.8 172.8 50.9 171.8" fill="none" stroke="rgb(155,155,155)" stroke-width="2.1" stroke-linecap="round"/>
<path d="M3.0 168.6 Q26.8 172.3 50.9 171.3" fill="none" stroke="rgb(181,181,181)" stroke-width="0.7" stroke-linecap="round" opacity="0.8"/>
<path d="M152.5 177.3 Q187.4 174.8 222.4 173.1" fill="none" stroke="#383838" stroke-width="2.0" stroke-linecap="round" opacity="0.5"/>
<path d="M152.5 176.1 Q187.4 173.6 222.4 171.9" fill="none" stroke="rgb(147,147,147)" stroke-width="2.2" stroke-linecap="round"/>
<path d="M152.5 175.6 Q187.4 173.0 222.4 171.3" fill="none" stroke="rgb(173,173,173)" stroke-width="0.8" stroke-linecap="round" opacity="0.8"/>
<path d="M-1.8 171.2 Q13.7 171.9 29.1 170.2" fill="none" stroke="#383838" stroke-width="1.8" stroke-linecap="round" opacity="0.5"/>
<path d="M-1.8 170.1 Q13.7 170.8 29.1 169.2" fill="none" stroke="rgb(119,119,119)" stroke-width="2.0" stroke-linecap="round"/>
<path d="M-1.8 169.6 Q13.7 170.3 29.1 168.7" fill="none" stroke="rgb(145,145,145)" stroke-width="0.7" stroke-linecap="round" opacity="0.8"/>
<path d="M97.3 250.5 Q118.4 245.2 140.0 243.2" fill="none" stroke="#383838" stroke-width="1.6" stroke-linecap="round" opacity="0.5"/>
<path d="M97.3 249.6 Q118.4 244.2 140.0 242.2" fill="none" stroke="rgb(145,145,145)" stroke-width="1.8" stroke-linecap="round"/>
<path d="M97.3 249.1 Q118.4 243.8 140.0 241.8" fill="none" stroke="rgb(171,171,171)" stroke-width="0.6" stroke-linecap="round" opacity="0.8"/>
<path d="M133.6 170.8 Q159.1 174.9 185.0 173.8" fill="none" stroke="#383838" stroke-width="1.2" stroke-linecap="round" opacity="0.5"/>
<path d="M133.6 170.1 Q159.1 174.2 185.0 173.1" fill="none" stroke="rgb(148,148,148)" stroke-width="1.3" stroke-linecap="round"/>
<path d="M117.0 157.5 Q137.2 160.4 157.6 158.0" fill="none" stroke="#383838" stroke-width="2.4" stroke-linecap="round" opacity="0.5"/>
<path d="M117.0 156.0 Q137.2 158.9 157.6 156.5" fill="none" stroke="rgb(128,128,128)" stroke-width="2.7" stroke-linecap="round"/>
<path d="M117.0 155.4 Q137.2 158.3 157.6 155.9" fill="none" stroke="rgb(154,154,154)" stroke-width="0.9" stroke-linecap="round" opacity="0.8"/>
<path d="M107.0 142.3 Q153.6 140.3 200.0 144.2" fill="none" stroke="#383838" stroke-width="0.9" stroke-linecap="round" opacity="0.5"/>
<path d="M107.0 141.7 Q153.6 139.8 200.0 143.6" fill="none" stroke="rgb(156,156,156)" stroke-width="1.0" stroke-linecap="round"/>
<path d="M83.0 209.2 Q108.8 211.9 134.7 209.3" fill="none" stroke="#383838" stroke-width="2.2" stroke-linecap="round" opacity="0.5"/>
<path d="M83.0 207.9 Q108.8 210.5 134.7 208.0" fill="none" stroke="rgb(149,149,149)" stroke-width="2.5" stroke-linecap="round"/>
<path d="M83.0 207.2 Q108.8 209.9 134.7 207.3" fill="none" stroke="rgb(175,175,175)" stroke-width="0.9" stroke-linecap="round" opacity="0.8"/>
<path d="M-12.4 236.1 Q27.2 232.8 65.9 224.4" fill="none" stroke="#383838" stroke-width="1.7" stroke-linecap="round" opacity="0.5"/>
<path d="M-12.4 235.0 Q27.2 231.7 65.9 223.3" fill="none" stroke="rgb(156,156,156)" stroke-width="1.9" stroke-linecap="round"/>
<path d="M-12.4 234.6 Q27.2 231.2 65.9 222.8" fill="none" stroke="rgb(182,182,182)" stroke-width="0.7" stroke-linecap="round" opacity="0.8"/>
<path d="M121.4 187.2 Q154.7 190.0 188.0 191.2" fill="none" stroke="#383838" stroke-width="2.2" stroke-linecap="round" opacity="0.5"/>
<path d="M121.4 185.8 Q154.7 188.6 188.0 189.8" fill="none" stroke="rgb(165,165,165)" stroke-width="2.5" stroke-linecap="round"/>
<path d="M121.4 185.2 Q154.7 188.0 188.0 189.2" fill="none" stroke="rgb(191,191,191)" stroke-width="0.9" stroke-linecap="round" opacity="0.8"/>
<path d="M70.1 182.4 Q124.1 188.4 178.5 190.8" fill="none" stroke="#383838" stroke-width="1.9" stroke-linecap="round" opacity="0.5"/>
<path d="M70.1 181.2 Q124.1 187.2 178.5 189.6" fill="none" stroke="rgb(138,138,138)" stroke-width="2.1" stroke-linecap="round"/>
<path d="M70.1 180.7 Q124.1 186.7 178.5 189.1" fill="none" stroke="rgb(164,164,164)" stroke-width="0.7" stroke-linecap="round" opacity="0.8"/>
<path d="M32.5 207.9 Q59.0 208.6 85.4 207.0" fill="none" stroke="#383838" stroke-width="2.4" stroke-linecap="round" opacity="0.5"/>
<path d="M32.5 206.4 Q59.0 207.1 85.4 205.5" fill="none" stroke="rgb(140,140,140)" stroke-width="2.6" stroke-linecap="round"/>
<path d="M32.5 205.8 Q59.0 206.5 85.4 204.9" fill="none" stroke="rgb(166,166,166)" stroke-width="0.9" stroke-linecap="round" opacity="0.8"/>
<path d="M72.5 200.3 Q110.8 198.7 149.2 199.6" fill="none" stroke="#383838" stroke-width="1.6" stroke-linecap="round" opacity="0.5"/>
<path d="M72.5 199.4 Q110.8 197.7 149.2 198.6" fill="none" stroke="rgb(154,154,154)" stroke-width="1.8" stroke-linecap="round"/>
<path d="M72.5 198.9 Q110.8 197.3 149.2 198.2" fill="none" stroke="rgb(180,180,180)" stroke-width="0.6" stroke-linecap="round" opacity="0.8"/>
<path d="M76.9 155.0 Q100.2 156.5 122.8 162.2" fill="none" stroke="#383838" stroke-width="2.0" stroke-linecap="round" opacity="0.5"/>
<path d="M76.9 153.8 Q100.2 155.2 122.8 161.0" fill="none" stroke="rgb(149,149,149)" stroke-width="2.3" stroke-linecap="round"/>
<path d="M76.9 153.2 Q100.2 154.7 122.8 160.4" fill="none" stroke="rgb(175,175,175)" stroke-width="0.8" stroke-linecap="round" opacity="0.8"/>
<path d="M-5.8 215.3 Q26.6 214.8 59.1 213.1" fill="none" stroke="#383838" stroke-width="1.7" stroke-linecap="round" opacity="0.5"/>
<path d="M-5.8 214.3 Q26.6 213.8 59.1 212.1" fill="none" stroke="rgb(149,149,149)" stroke-width="1.8" stroke-linecap="round"/>
<path d="M-5.8 213.8 Q26.6 213.3 59.1 211.7" fill="none" stroke="rgb(175,175,175)" stroke-width="0.6" stroke-linecap="round" opacity="0.8"/>
<path d="M29.4 216.8 Q52.2 216.1 75.1 216.5" fill="none" stroke="#383838" stroke-width="1.0" stroke-linecap="round" opacity="0.5"/>
<path d="M29.4 216.2 Q52.2 215.5 75.1 215.9" fill="none" stroke="rgb(156,156,156)" stroke-width="1.1" stroke-linecap="round"/>
<path d="M133.4 152.9 Q159.5 156.5 186.0 156.0" fill="none" stroke="#383838" stroke-width="2.2" stroke-linecap="round" opacity="0.5"/>
<path d="M133.4 151.5 Q159.5 155.1 186.0 154.7" fill="none" stroke="rgb(159,159,159)" stroke-width="2.5" stroke-linecap="round"/>
<path d="M133.4 150.9 Q159.5 154.5 186.0 154.1" fill="none" stroke="rgb(185,185,185)" stroke-width="0.9" stroke-linecap="round" opacity="0.8"/>
<path d="M-18.4 207.6 Q32.8 209.0 84.0 212.6" fill="none" stroke="#383838" stroke-width="0.9" stroke-linecap="round" opacity="0.5"/>
<path d="M-18.4 207.0 Q32.8 208.4 84.0 212.1" fill="none" stroke="rgb(152,152,152)" stroke-width="1.0" stroke-linecap="round"/>
<path d="M10.2 186.5 Q33.4 187.0 56.6 187.0" fill="none" stroke="#383838" stroke-width="1.0" stroke-linecap="round" opacity="0.5"/>
<path d="M10.2 185.8 Q33.4 186.4 56.6 186.4" fill="none" stroke="rgb(139,139,139)" stroke-width="1.1" stroke-linecap="round"/>
<path d="M53.0 222.3 Q97.8 222.9 142.4 217.9" fill="none" stroke="#383838" stroke-width="2.0" stroke-linecap="round" opacity="0.5"/>
<path d="M53.0 221.1 Q97.8 221.7 142.4 216.7" fill="none" stroke="rgb(164,164,164)" stroke-width="2.2" stroke-linecap="round"/>
<path d="M53.0 220.5 Q97.8 221.1 142.4 216.2" fill="none" stroke="rgb(190,190,190)" stroke-width="0.8" stroke-linecap="round" opacity="0.8"/>
<path d="M87.2 207.1 Q115.3 203.6 143.7 202.5" fill="none" stroke="#383838" stroke-width="1.7" stroke-linecap="round" opacity="0.5"/>
<path d="M87.2 206.1 Q115.3 202.5 143.7 201.5" fill="none" stroke="rgb(156,156,156)" stroke-width="1.8" stroke-linecap="round"/>
<path d="M87.2 205.7 Q115.3 202.1 143.7 201.1" fill="none" stroke="rgb(182,182,182)" stroke-width="0.6" stroke-linecap="round" opacity="0.8"/>
<path d="M53.2 134.5 Q71.7 136.2 89.6 140.8" fill="none" stroke="#383838" stroke-width="2.4" stroke-linecap="round" opacity="0.5"/>
<path d="M53.2 133.0 Q71.7 134.7 89.6 139.4" fill="none" stroke="rgb(143,143,143)" stroke-width="2.6" stroke-linecap="round"/>
<path d="M53.2 132.4 Q71.7 134.0 89.6 138.7" fill="none" stroke="rgb(169,169,169)" stroke-width="0.9" stroke-linecap="round" opacity="0.8"/>
<path d="M47.0 242.4 Q79.2 235.9 111.9 232.8" fill="none" stroke="#383838" stroke-width="1.5" stroke-linecap="round" opacity="0.5"/>
<path d="M47.0 241.5 Q79.2 235.0 111.9 231.9" fill="none" stroke="rgb(132,132,132)" stroke-width="1.7" stroke-linecap="round"/>
<path d="M-26.1 235.9 Q11.8 235.1 49.7 233.2" fill="none" stroke="#383838" stroke-width="2.2" stroke-linecap="round" opacity="0.5"/>
<path d="M-26.1 234.5 Q11.8 233.7 49.7 231.8" fill="none" stroke="rgb(116,116,116)" stroke-width="2.5" stroke-linecap="round"/>
<path d="M-26.1 233.9 Q11.8 233.1 49.7 231.2" fill="none" stroke="rgb(142,142,142)" stroke-width="0.9" stroke-linecap="round" opacity="0.8"/>
<path d="M-3.2 200.7 Q31.1 200.0 65.5 200.9" fill="none" stroke="#383838" stroke-width="1.4" stroke-linecap="round" opacity="0.5"/>
<path d="M-3.2 199.8 Q31.1 199.1 65.5 200.0" fill="none" stroke="rgb(154,154,154)" stroke-width="1.6" stroke-linecap="round"/>
<path d="M126.2 258.4 Q177.1 248.4 228.3 240.0" fill="none" stroke="#383838" stroke-width="1.5" stroke-linecap="round" opacity="0.5"/>
<path d="M126.2 257.5 Q177.1 247.5 228.3 239.1" fill="none" stroke="rgb(175,175,175)" stroke-width="1.6" stroke-linecap="round"/>
<path d="M79.4 129.9 Q120.9 136.4 161.3 148.0" fill="none" stroke="#383838" stroke-width="2.0" stroke-linecap="round" opacity="0.5"/>
<path d="M79.4 128.7 Q120.9 135.2 161.3 146.8" fill="none" stroke="rgb(159,159,159)" stroke-width="2.3" stroke-linecap="round"/>
<path d="M79.4 128.1 Q120.9 134.6 161.3 146.2" fill="none" stroke="rgb(185,185,185)" stroke-width="0.8" stroke-linecap="round" opacity="0.8"/>
<path d="M104.6 192.2 Q133.5 192.2 162.4 193.4" fill="none" stroke="#383838" stroke-width="1.2" stroke-linecap="round" opacity="0.5"/>
<path d="M104.6 191.4 Q133.5 191.5 162.4 192.6" fill="none" stroke="rgb(141,141,141)" stroke-width="1.3" stroke-linecap="round"/>
<path d="M56.9 233.3 Q79.6 228.2 102.7 225.1" fill="none" stroke="#383838" stroke-width="1.6" stroke-linecap="round" opacity="0.5"/>
<path d="M56.9 232.3 Q79.6 227.2 102.7 224.1" fill="none" stroke="rgb(166,166,166)" stroke-width="1.8" stroke-linecap="round"/>
<path d="M56.9 231.9 Q79.6 226.8 102.7 223.6" fill="none" stroke="rgb(192,192,192)" stroke-width="0.6" stroke-linecap="round" opacity="0.8"/>
<path d="M2.0 171.3 Q38.0 174.8 74.1 178.2" fill="none" stroke="#383838" stroke-width="1.7" stroke-linecap="round" opacity="0.5"/>
<path d="M2.0 170.3 Q38.0 173.7 74.1 177.2" fill="none" stroke="rgb(108,108,108)" stroke-width="1.9" stroke-linecap="round"/>
<path d="M2.0 169.8 Q38.0 173.3 74.1 176.7" fill="none" stroke="rgb(134,134,134)" stroke-width="0.7" stroke-linecap="round" opacity="0.8"/>
<path d="M129.7 188.5 Q155.0 189.9 180.1 187.0" fill="none" stroke="#383838" stroke-width="1.2" stroke-linecap="round" opacity="0.5"/>
<path d="M129.7 187.8 Q155.0 189.1 180.1 186.2" fill="none" stroke="rgb(129,129,129)" stroke-width="1.4" stroke-linecap="round"/>
<path d="M-8.2 151.1 Q21.7 154.4 51.2 160.6" fill="none" stroke="#383838" stroke-width="1.4" stroke-linecap="round" opacity="0.5"/>
<path d="M-8.2 150.2 Q21.7 153.5 51.2 159.7" fill="none" stroke="rgb(144,144,144)" stroke-width="1.6" stroke-linecap="round"/>
<path d="M60.3 198.2 Q99.2 201.9 138.1 200.2" fill="none" stroke="#383838" stroke-width="2.0" stroke-linecap="round" opacity="0.5"/>
<path d="M60.3 197.0 Q99.2 200.7 138.1 199.0" fill="none" stroke="rgb(149,149,149)" stroke-width="2.2" stroke-linecap="round"/>
<path d="M60.3 196.4 Q99.2 200.2 138.1 198.4" fill="none" stroke="rgb(175,175,175)" stroke-width="0.8" stroke-linecap="round" opacity="0.8"/>
<path d="M78.8 215.9 Q126.0 218.4 173.2 216.8" fill="none" stroke="#383838" stroke-width="1.6" stroke-linecap="round" opacity="0.5"/>
<path d="M78.8 214.9 Q126.0 217.4 173.2 215.9" fill="none" stroke="rgb(146,146,146)" stroke-width="1.8" stroke-linecap="round"/>
<path d="M78.8 214.5 Q126.0 217.0 173.2 215.4" fill="none" stroke="rgb(172,172,172)" stroke-width="0.6" stroke-linecap="round" opacity="0.8"/>
<path d="M-13.2 188.4 Q40.4 185.8 93.9 183.5" fill="none" stroke="#383838" stroke-width="1.5" stroke-linecap="round" opacity="0.5"/>
<path d="M-13.2 187.5 Q40.4 184.9 93.9 182.6" fill="none" stroke="rgb(161,161,161)" stroke-width="1.7" stroke-linecap="round"/>
<path d="M-13.2 187.0 Q40.4 184.5 93.9 182.1" fill="none" stroke="rgb(187,187,187)" stroke-width="0.6" stroke-linecap="round" opacity="0.8"/>
<path d="M123.5 149.4 Q156.7 145.7 190.1 144.4" fill="none" stroke="#383838" stroke-width="2.2" stroke-linecap="round" opacity="0.5"/>
<path d="M123.5 148.1 Q156.7 144.4 190.1 143.1" fill="none" stroke="rgb(168,168,168)" stroke-width="2.5" stroke-linecap="round"/>
<path d="M123.5 147.5 Q156.7 143.7 190.1 142.5" fill="none" stroke="rgb(194,194,194)" stroke-width="0.9" stroke-linecap="round" opacity="0.8"/>
<path d="M55.4 250.7 Q70.9 249.8 86.2 247.1" fill="none" stroke="#383838" stroke-width="1.3" stroke-linecap="round" opacity="0.5"/>
<path d="M55.4 249.9 Q70.9 249.0 86.2 246.3" fill="none" stroke="rgb(151,151,151)" stroke-width="1.5" stroke-linecap="round"/>
<path d="M115.4 211.2 Q139.1 207.9 162.8 204.1" fill="none" stroke="#383838" stroke-width="1.3" stroke-linecap="round" opacity="0.5"/>
<path d="M115.4 210.4 Q139.1 207.0 162.8 203.2" fill="none" stroke="rgb(168,168,168)" stroke-width="1.5" stroke-linecap="round"/>
<path d="M69.5 236.7 Q116.7 236.2 163.7 230.9" fill="none" stroke="#383838" stroke-width="2.0" stroke-linecap="round" opacity="0.5"/>
<path d="M69.5 235.4 Q116.7 234.9 163.7 229.7" fill="none" stroke="rgb(142,142,142)" stroke-width="2.3" stroke-linecap="round"/>
<path d="M69.5 234.9 Q116.7 234.4 163.7 229.1" fill="none" stroke="rgb(168,168,168)" stroke-width="0.8" stroke-linecap="round" opacity="0.8"/>
<path d="M-9.0 222.9 Q24.6 220.9 57.5 214.2" fill="none" stroke="#383838" stroke-width="2.1" stroke-linecap="round" opacity="0.5"/>
<path d="M-9.0 221.6 Q24.6 219.6 57.5 212.8" fill="none" stroke="rgb(166,166,166)" stroke-width="2.4" stroke-linecap="round"/>
<path d="M-9.0 221.0 Q24.6 219.0 57.5 212.3" fill="none" stroke="rgb(192,192,192)" stroke-width="0.8" stroke-linecap="round" opacity="0.8"/>
<path d="M113.9 253.3 Q162.3 243.2 210.6 232.0" fill="none" stroke="#383838" stroke-width="2.3" stroke-linecap="round" opacity="0.5"/>
<path d="M113.9 251.9 Q162.3 241.8 210.6 230.6" fill="none" stroke="rgb(152,152,152)" stroke-width="2.6" stroke-linecap="round"/>
<path d="M113.9 251.3 Q162.3 241.1 210.6 230.0" fill="none" stroke="rgb(178,178,178)" stroke-width="0.9" stroke-linecap="round" opacity="0.8"/>
<path d="M-18.8 177.7 Q23.3 181.8 65.5 183.7" fill="none" stroke="#383838" stroke-width="2.2" stroke-linecap="round" opacity="0.5"/>
<path d="M-18.8 176.4 Q23.3 180.5 65.5 182.4" fill="none" stroke="rgb(155,155,155)" stroke-width="2.4" stroke-linecap="round"/>
<path d="M-18.8 175.8 Q23.3 179.9 65.5 181.7" fill="none" stroke="rgb(181,181,181)" stroke-width="0.9" stroke-linecap="round" opacity="0.8"/>
<path d="M-25.7 229.8 Q13.1 222.1 52.4 218.6" fill="none" stroke="#383838" stroke-width="1.0" stroke-linecap="round" opacity="0.5"/>
<path d="M-25.7 229.2 Q13.1 221.5 52.4 218.0" fill="none" stroke="rgb(167,167,167)" stroke-width="1.2" stroke-linecap="round"/>
<path d="M101.5 216.1 Q141.3 215.4 180.7 209.5" fill="none" stroke="#383838" stroke-width="1.1" stroke-linecap="round" opacity="0.5"/>
<path d="M101.5 215.5 Q141.3 214.8 180.7 208.8" fill="none" stroke="rgb(157,157,157)" stroke-width="1.2" stroke-linecap="round"/>
<path d="M30.1 178.6 Q65.6 179.7 100.6 185.5" fill="none" stroke="#383838" stroke-width="1.2" stroke-linecap="round" opacity="0.5"/>
<path d="M30.1 177.8 Q65.6 178.9 100.6 184.8" fill="none" stroke="rgb(154,154,154)" stroke-width="1.3" stroke-linecap="round"/>
<path d="M160.9 152.7 Q187.5 155.4 214.2 156.5" fill="none" stroke="#383838" stroke-width="2.2" stroke-linecap="round" opacity="0.5"/>
<path d="M160.9 151.3 Q187.5 154.0 214.2 155.1" fill="none" stroke="rgb(177,177,177)" stroke-width="2.5" stroke-linecap="round"/>
<path d="M160.9 150.7 Q187.5 153.4 214.2 154.5" fill="none" stroke="rgb(203,203,203)" stroke-width="0.9" stroke-linecap="round" opacity="0.8"/>
<path d="M114.5 205.9 Q130.9 206.5 146.7 202.2" fill="none" stroke="#383838" stroke-width="2.2" stroke-linecap="round" opacity="0.5"/>
<path d="M114.5 204.5 Q130.9 205.1 146.7 200.8" fill="none" stroke="rgb(127,127,127)" stroke-width="2.5" stroke-linecap="round"/>
<path d="M114.5 203.9 Q130.9 204.5 146.7 200.2" fill="none" stroke="rgb(153,153,153)" stroke-width="0.9" stroke-linecap="round" opacity="0.8"/>
<path d="M-20.4 219.5 Q34.1 215.7 88.8 215.0" fill="none" stroke="#383838" stroke-width="2.4" stroke-linecap="round" opacity="0.5"/>
<path d="M-20.4 218.1 Q34.1 214.3 88.8 213.6" fill="none" stroke="rgb(165,165,165)" stroke-width="2.7" stroke-linecap="round"/>
<path d="M-20.4 217.4 Q34.1 213.6 88.8 212.9" fill="none" stroke="rgb(191,191,191)" stroke-width="0.9" stroke-linecap="round" opacity="0.8"/>
<path d="M11.3 214.7 Q39.2 213.1 67.0 210.4" fill="none" stroke="#383838" stroke-width="1.3" stroke-linecap="round" opacity="0.5"/>
<path d="M11.3 214.0 Q39.2 212.3 67.0 209.6" fill="none" stroke="rgb(148,148,148)" stroke-width="1.4" stroke-linecap="round"/>
<path d="M55.8 212.2 Q93.0 208.6 130.2 210.0" fill="none" stroke="#383838" stroke-width="1.0" stroke-linecap="round" opacity="0.5"/>
<path d="M55.8 211.6 Q93.0 208.0 130.2 209.4" fill="none" stroke="rgb(163,163,163)" stroke-width="1.1" stroke-linecap="round"/>
<path d="M131.0 169.4 Q146.2 170.8 160.7 175.5" fill="none" stroke="#383838" stroke-width="1.9" stroke-linecap="round" opacity="0.5"/>
<path d="M131.0 168.3 Q146.2 169.7 160.7 174.4" fill="none" stroke="rgb(160,160,160)" stroke-width="2.1" stroke-linecap="round"/>
<path d="M131.0 167.8 Q146.2 169.1 160.7 173.9" fill="none" stroke="rgb(186,186,186)" stroke-width="0.7" stroke-linecap="round" opacity="0.8"/>
<path d="M143.6 238.6 Q160.7 236.5 177.9 237.3" fill="none" stroke="#383838" stroke-width="2.1" stroke-linecap="round" opacity="0.5"/>
<path d="M143.6 237.3 Q160.7 235.3 177.9 236.0" fill="none" stroke="rgb(173,173,173)" stroke-width="2.3" stroke-linecap="round"/>
<path d="M143.6 236.8 Q160.7 234.7 177.9 235.4" fill="none" stroke="rgb(199,199,199)" stroke-width="0.8" stroke-linecap="round" opacity="0.8"/>
<path d="M71.8 169.9 Q101.7 175.4 132.1 176.0" fill="none" stroke="#383838" stroke-width="1.9" stroke-linecap="round" opacity="0.5"/>
<path d="M71.8 168.7 Q101.7 174.2 132.1 174.9" fill="none" stroke="rgb(140,140,140)" stroke-width="2.1" stroke-linecap="round"/>
<path d="M71.8 168.2 Q101.7 173.7 132.1 174.4" fill="none" stroke="rgb(166,166,166)" stroke-width="0.7" stroke-linecap="round" opacity="0.8"/>
<path d="M168.7 214.6 Q184.4 209.0 201.0 208.9" fill="none" stroke="#383838" stroke-width="1.6" stroke-linecap="round" opacity="0.5"/>
<path d="M168.7 213.6 Q184.4 208.0 201.0 207.9" fill="none" stroke="rgb(180,180,180)" stroke-width="1.8" stroke-linecap="round"/>
<path d="M168.7 213.2 Q184.4 207.5 201.0 207.5" fill="none" stroke="rgb(206,206,206)" stroke-width="0.6" stroke-linecap="round" opacity="0.8"/>
<path d="M94.1 201.1 Q137.9 196.0 182.1 195.4" fill="none" stroke="#383838" stroke-width="1.5" stroke-linecap="round" opacity="0.5"/>
<path d="M94.1 200.2 Q137.9 195.1 182.1 194.5" fill="none" stroke="rgb(151,151,151)" stroke-width="1.6" stroke-linecap="round"/>
<path d="M69.6 190.9 Q89.6 194.8 109.9 195.4" fill="none" stroke="#383838" stroke-width="1.9" stroke-linecap="round" opacity="0.5"/>
<path d="M69.6 189.7 Q89.6 193.6 109.9 194.2" fill="none" stroke="rgb(161,161,161)" stroke-width="2.1" stroke-linecap="round"/>
<path d="M69.6 189.2 Q89.6 193.1 109.9 193.7" fill="none" stroke="rgb(187,187,187)" stroke-width="0.7" stroke-linecap="round" opacity="0.8"/>
<path d="M63.2 141.6 Q98.8 145.6 134.7 146.0" fill="none" stroke="#383838" stroke-width="1.2" stroke-linecap="round" opacity="0.5"/>
<path d="M63.2 140.9 Q98.8 144.9 134.7 145.2" fill="none" stroke="rgb(182,182,182)" stroke-width="1.4" stroke-linecap="round"/>
<path d="M94.3 164.0 Q133.2 165.7 171.5 173.0" fill="none" stroke="#383838" stroke-width="2.0" stroke-linecap="round" opacity="0.5"/>
<path d="M94.3 162.8 Q133.2 164.5 171.5 171.7" fill="none" stroke="rgb(160,160,160)" stroke-width="2.2" stroke-linecap="round"/>
<path d="M94.3 162.2 Q133.2 164.0 171.5 171.2" fill="none" stroke="rgb(186,186,186)" stroke-width="0.8" stroke-linecap="round" opacity="0.8"/>
<path d="M63.2 242.6 Q116.5 238.0 170.0 235.0" fill="none" stroke="#383838" stroke-width="1.4" stroke-linecap="round" opacity="0.5"/>
<path d="M63.2 241.8 Q116.5 237.2 170.0 234.2" fill="none" stroke="rgb(131,131,131)" stroke-width="1.5" stroke-linecap="round"/>
<path d="M41.7 138.2 Q59.9 140.5 77.9 144.3" fill="none" stroke="#383838" stroke-width="1.4" stroke-linecap="round" opacity="0.5"/>
<path d="M41.7 137.3 Q59.9 139.6 77.9 143.4" fill="none" stroke="rgb(159,159,159)" stroke-width="1.6" stroke-linecap="round"/>
<path d="M73.0 237.2 Q102.3 232.2 130.9 224.7" fill="none" stroke="#383838" stroke-width="1.6" stroke-linecap="round" opacity="0.5"/>
<path d="M73.0 236.2 Q102.3 231.3 130.9 223.7" fill="none" stroke="rgb(160,160,160)" stroke-width="1.8" stroke-linecap="round"/>
<path d="M73.0 235.7 Q102.3 230.8 130.9 223.3" fill="none" stroke="rgb(186,186,186)" stroke-width="0.6" stroke-linecap="round" opacity="0.8"/>
<path d="M169.0 237.6 Q195.2 235.7 221.3 238.1" fill="none" stroke="#383838" stroke-width="1.3" stroke-linecap="round" opacity="0.5"/>
<path d="M169.0 236.9 Q195.2 235.0 221.3 237.3" fill="none" stroke="rgb(131,131,131)" stroke-width="1.4" stroke-linecap="round"/>
<path d="M126.0 210.1 Q149.2 211.4 172.4 212.7" fill="none" stroke="#383838" stroke-width="2.4" stroke-linecap="round" opacity="0.5"/>
<path d="M126.0 208.7 Q149.2 210.0 172.4 211.3" fill="none" stroke="rgb(154,154,154)" stroke-width="2.7" stroke-linecap="round"/>
<path d="M126.0 208.0 Q149.2 209.3 172.4 210.6" fill="none" stroke="rgb(180,180,180)" stroke-width="0.9" stroke-linecap="round" opacity="0.8"/>
<path d="M100.2 147.6 Q147.5 150.7 194.9 151.9" fill="none" stroke="#383838" stroke-width="1.6" stroke-linecap="round" opacity="0.5"/>
<path d="M100.2 146.6 Q147.5 149.8 194.9 151.0" fill="none" stroke="rgb(159,159,159)" stroke-width="1.7" stroke-linecap="round"/>
<path d="M100.2 146.2 Q147.5 149.3 194.9 150.5" fill="none" stroke="rgb(185,185,185)" stroke-width="0.6" stroke-linecap="round" opacity="0.8"/>
<path d="M127.9 224.7 Q179.7 224.6 231.2 219.5" fill="none" stroke="#383838" stroke-width="1.2" stroke-linecap="round" opacity="0.5"/>
<path d="M127.9 224.0 Q179.7 223.9 231.2 218.8" fill="none" stroke="rgb(144,144,144)" stroke-width="1.3" stroke-linecap="round"/>
<path d="M51.3 248.0 Q93.1 244.7 135.0 241.6" fill="none" stroke="#383838" stroke-width="1.2" stroke-linecap="round" opacity="0.5"/>
<path d="M51.3 247.3 Q93.1 244.0 135.0 240.9" fill="none" stroke="rgb(139,139,139)" stroke-width="1.3" stroke-linecap="round"/>
<path d="M107.1 142.7 Q137.0 144.6 166.5 149.9" fill="none" stroke="#383838" stroke-width="0.9" stroke-linecap="round" opacity="0.5"/>
<path d="M107.1 142.2 Q137.0 144.1 166.5 149.3" fill="none" stroke="rgb(148,148,148)" stroke-width="1.0" stroke-linecap="round"/>
<path d="M57.1 165.2 Q92.9 169.0 128.9 168.9" fill="none" stroke="#383838" stroke-width="2.3" stroke-linecap="round" opacity="0.5"/>
<path d="M57.1 163.7 Q92.9 167.6 128.9 167.4" fill="none" stroke="rgb(170,170,170)" stroke-width="2.6" stroke-linecap="round"/>
<path d="M57.1 163.1 Q92.9 166.9 128.9 166.8" fill="none" stroke="rgb(196,196,196)" stroke-width="0.9" stroke-linecap="round" opacity="0.8"/>
<path d="M117.8 183.5 Q155.0 182.8 192.0 186.5" fill="none" stroke="#383838" stroke-width="1.4" stroke-linecap="round" opacity="0.5"/>
<path d="M117.8 182.6 Q155.0 181.9 192.0 185.6" fill="none" stroke="rgb(148,148,148)" stroke-width="1.6" stroke-linecap="round"/>
<path d="M55.0 170.8 Q96.9 170.5 138.8 169.1" fill="none" stroke="#383838" stroke-width="1.8" stroke-linecap="round" opacity="0.5"/>
<path d="M55.0 169.7 Q96.9 169.4 138.8 168.1" fill="none" stroke="rgb(171,171,171)" stroke-width="2.0" stroke-linecap="round"/>
<path d="M55.0 169.2 Q96.9 168.9 138.8 167.6" fill="none" stroke="rgb(197,197,197)" stroke-width="0.7" stroke-linecap="round" opacity="0.8"/>
<path d="M72.0 182.6 Q92.0 184.7 112.0 182.1" fill="none" stroke="#383838" stroke-width="1.3" stroke-linecap="round" opacity="0.5"/>
<path d="M72.0 181.8 Q92.0 183.9 112.0 181.3" fill="none" stroke="rgb(148,148,148)" stroke-width="1.5" stroke-linecap="round"/>
<path d="M49.8 144.9 Q89.7 146.6 129.6 148.2" fill="none" stroke="#383838" stroke-width="1.8" stroke-linecap="round" opacity="0.5"/>
<path d="M49.8 143.8 Q89.7 145.5 129.6 147.1" fill="none" stroke="rgb(164,164,164)" stroke-width="2.0" stroke-linecap="round"/>
<path d="M49.8 143.3 Q89.7 145.0 129.6 146.6" fill="none" stroke="rgb(190,190,190)" stroke-width="0.7" stroke-linecap="round" opacity="0.8"/>
<path d="M134.0 163.9 Q181.5 166.2 228.7 172.6" fill="none" stroke="#383838" stroke-width="0.9" stroke-linecap="round" opacity="0.5"/>
<path d="M134.0 163.3 Q181.5 165.6 228.7 172.0" fill="none" stroke="rgb(149,149,149)" stroke-width="1.0" stroke-linecap="round"/>
<path d="M77.9 237.4 Q111.6 237.5 145.0 232.5" fill="none" stroke="#383838" stroke-width="2.1" stroke-linecap="round" opacity="0.5"/>
<path d="M77.9 236.1 Q111.6 236.2 145.0 231.2" fill="none" stroke="rgb(174,174,174)" stroke-width="2.3" stroke-linecap="round"/>
<path d="M77.9 235.5 Q111.6 235.6 145.0 230.6" fill="none" stroke="rgb(200,200,200)" stroke-width="0.8" stroke-linecap="round" opacity="0.8"/>
<path d="M78.8 154.8 Q116.0 158.1 153.2 157.0" fill="none" stroke="#383838" stroke-width="1.1" stroke-linecap="round" opacity="0.5"/>
<path d="M78.8 154.1 Q116.0 157.5 153.2 156.3" fill="none" stroke="rgb(157,157,157)" stroke-width="1.2" stroke-linecap="round"/>
<path d="M26.3 232.3 Q64.0 233.7 101.4 238.9" fill="none" stroke="#383838" stroke-width="2.4" stroke-linecap="round" opacity="0.5"/>
<path d="M26.3 230.8 Q64.0 232.3 101.4 237.5" fill="none" stroke="rgb(158,158,158)" stroke-width="2.7" stroke-linecap="round"/>
<path d="M26.3 230.2 Q64.0 231.6 101.4 236.8" fill="none" stroke="rgb(184,184,184)" stroke-width="0.9" stroke-linecap="round" opacity="0.8"/>
<path d="M92.5 129.5 Q142.3 139.6 192.2 148.6" fill="none" stroke="#383838" stroke-width="2.0" stroke-linecap="round" opacity="0.5"/>
<path d="M92.5 128.3 Q142.3 138.4 192.2 147.4" fill="none" stroke="rgb(171,171,171)" stroke-width="2.3" stroke-linecap="round"/>
<path d="M92.5 127.7 Q142.3 137.8 192.2 146.8" fill="none" stroke="rgb(197,197,197)" stroke-width="0.8" stroke-linecap="round" opacity="0.8"/>
<path d="M124.8 150.7 Q178.8 152.5 232.5 157.7" fill="none" stroke="#383838" stroke-width="1.0" stroke-linecap="round" opacity="0.5"/>
<path d="M124.8 150.1 Q178.8 151.9 232.5 157.1" fill="none" stroke="rgb(152,152,152)" stroke-width="1.1" stroke-linecap="round"/>
<path d="M12.6 178.8 Q32.5 177.4 52.5 178.6" fill="none" stroke="#383838" stroke-width="2.0" stroke-linecap="round" opacity="0.5"/>
<path d="M12.6 177.6 Q32.5 176.2 52.5 177.4" fill="none" stroke="rgb(182,182,182)" stroke-width="2.2" stroke-linecap="round"/>
<path d="M12.6 177.0 Q32.5 175.6 52.5 176.8" fill="none" stroke="rgb(208,208,208)" stroke-width="0.8" stroke-linecap="round" opacity="0.8"/>
<path d="M5.6 140.9 Q32.9 143.9 59.9 149.0" fill="none" stroke="#383838" stroke-width="2.4" stroke-linecap="round" opacity="0.5"/>
<path d="M5.6 139.5 Q32.9 142.5 59.9 147.5" fill="none" stroke="rgb(160,160,160)" stroke-width="2.7" stroke-linecap="round"/>
<path d="M5.6 138.8 Q32.9 141.8 59.9 146.9" fill="none" stroke="rgb(186,186,186)" stroke-width="0.9" stroke-linecap="round" opacity="0.8"/>
<path d="M147.9 136.4 Q168.2 142.8 189.4 145.2" fill="none" stroke="#383838" stroke-width="2.2" stroke-linecap="round" opacity="0.5"/>
<path d="M147.9 135.0 Q168.2 141.5 189.4 143.8" fill="none" stroke="rgb(163,163,163)" stroke-width="2.5" stroke-linecap="round"/>
<path d="M147.9 134.4 Q168.2 140.8 189.4 143.2" fill="none" stroke="rgb(189,189,189)" stroke-width="0.9" stroke-linecap="round" opacity="0.8"/>
<path d="M49.3 230.3 Q79.8 227.2 110.1 222.5" fill="none" stroke="#383838" stroke-width="1.4" stroke-linecap="round" opacity="0.5"/>
<path d="M49.3 229.4 Q79.8 226.3 110.1 221.6" fill="none" stroke="rgb(156,156,156)" stroke-width="1.6" stroke-linecap="round"/>
<path d="M55.8 152.9 Q83.9 157.7 112.0 161.8" fill="none" stroke="#383838" stroke-width="2.3" stroke-linecap="round" opacity="0.5"/>
<path d="M55.8 151.5 Q83.9 156.3 112.0 160.4" fill="none" stroke="rgb(161,161,161)" stroke-width="2.6" stroke-linecap="round"/>
<path d="M55.8 150.9 Q83.9 155.7 112.0 159.7" fill="none" stroke="rgb(187,187,187)" stroke-width="0.9" stroke-linecap="round" opacity="0.8"/>
<path d="M25.0 185.9 Q61.4 186.3 97.4 191.4" fill="none" stroke="#383838" stroke-width="1.3" stroke-linecap="round" opacity="0.5"/>
<path d="M25.0 185.1 Q61.4 185.5 97.4 190.6" fill="none" stroke="rgb(171,171,171)" stroke-width="1.5" stroke-linecap="round"/>
<path d="M9.9 167.7 Q52.9 175.6 96.5 179.4" fill="none" stroke="#383838" stroke-width="1.8" stroke-linecap="round" opacity="0.5"/>
<path d="M9.9 166.6 Q52.9 174.5 96.5 178.3" fill="none" stroke="rgb(163,163,163)" stroke-width="2.0" stroke-linecap="round"/>
<path d="M9.9 166.1 Q52.9 174.0 96.5 177.8" fill="none" stroke="rgb(189,189,189)" stroke-width="0.7" stroke-linecap="round" opacity="0.8"/>
<path d="M8.4 224.1 Q36.9 227.8 65.5 225.4" fill="none" stroke="#383838" stroke-width="2.0" stroke-linecap="round" opacity="0.5"/>
<path d="M8.4 222.9 Q36.9 226.5 65.5 224.2" fill="none" stroke="rgb(172,172,172)" stroke-width="2.2" stroke-linecap="round"/>
<path d="M8.4 222.4 Q36.9 226.0 65.5 223.7" fill="none" stroke="rgb(198,198,198)" stroke-width="0.8" stroke-linecap="round" opacity="0.8"/>
<path d="M6.9 223.7 Q58.7 214.1 110.8 207.0" fill="none" stroke="#383838" stroke-width="1.1" stroke-linecap="round" opacity="0.5"/>
<path d="M6.9 223.0 Q58.7 213.4 110.8 206.3" fill="none" stroke="rgb(154,154,154)" stroke-width="1.2" stroke-linecap="round"/>
<path d="M65.8 155.5 Q85.5 155.8 105.2 155.8" fill="none" stroke="#383838" stroke-width="1.7" stroke-linecap="round" opacity="0.5"/>
<path d="M65.8 154.5 Q85.5 154.8 105.2 154.8" fill="none" stroke="rgb(172,172,172)" stroke-width="1.9" stroke-linecap="round"/>
<path d="M65.8 154.0 Q85.5 154.3 105.2 154.4" fill="none" stroke="rgb(198,198,198)" stroke-width="0.7" stroke-linecap="round" opacity="0.8"/>
<path d="M64.1 223.9 Q108.5 219.9 152.9 217.6" fill="none" stroke="#383838" stroke-width="1.1" stroke-linecap="round" opacity="0.5"/>
<path d="M64.1 223.2 Q108.5 219.2 152.9 216.9" fill="none" stroke="rgb(164,164,164)" stroke-width="1.2" stroke-linecap="round"/>
<path d="M71.1 215.6 Q90.1 214.0 109.0 215.2" fill="none" stroke="#383838" stroke-width="2.2" stroke-linecap="round" opacity="0.5"/>
<path d="M71.1 214.3 Q90.1 212.7 109.0 213.9" fill="none" stroke="rgb(179,179,179)" stroke-width="2.4" stroke-linecap="round"/>
<path d="M71.1 213.7 Q90.1 212.1 109.0 213.3" fill="none" stroke="rgb(205,205,205)" stroke-width="0.9" stroke-linecap="round" opacity="0.8"/>
<path d="M90.8 199.2 Q115.9 196.9 141.2 197.6" fill="none" stroke="#383838" stroke-width="2.3" stroke-linecap="round" opacity="0.5"/>
<path d="M90.8 197.7 Q115.9 195.4 141.2 196.2" fill="none" stroke="rgb(159,159,159)" stroke-width="2.6" stroke-linecap="round"/>
<path d="M90.8 197.1 Q115.9 194.8 141.2 195.6" fill="none" stroke="rgb(185,185,185)" stroke-width="0.9" stroke-linecap="round" opacity="0.8"/>
<path d="M151.7 239.6 Q182.9 235.3 214.5 236.2" fill="none" stroke="#383838" stroke-width="2.3" stroke-linecap="round" opacity="0.5"/>
<path d="M151.7 238.2 Q182.9 233.9 214.5 234.8" fill="none" stroke="rgb(168,168,168)" stroke-width="2.6" stroke-linecap="round"/>
<path d="M151.7 237.6 Q182.9 233.2 214.5 234.2" fill="none" stroke="rgb(194,194,194)" stroke-width="0.9" stroke-linecap="round" opacity="0.8"/>
<path d="M31.4 160.8 Q60.3 166.1 89.4 169.5" fill="none" stroke="#383838" stroke-width="2.3" stroke-linecap="round" opacity="0.5"/>
<path d="M31.4 159.4 Q60.3 164.6 89.4 168.1" fill="none" stroke="rgb(157,157,157)" stroke-width="2.6" stroke-linecap="round"/>
<path d="M31.4 158.7 Q60.3 164.0 89.4 167.5" fill="none" stroke="rgb(183,183,183)" stroke-width="0.9" stroke-linecap="round" opacity="0.8"/>
<path d="M-17.0 173.3 Q11.1 177.5 39.6 177.0" fill="none" stroke="#383838" stroke-width="1.2" stroke-linecap="round" opacity="0.5"/>
<path d="M-17.0 172.5 Q11.1 176.7 39.6 176.2" fill="none" stroke="rgb(168,168,168)" stroke-width="1.4" stroke-linecap="round"/>
<path d="M90.4 186.0 Q117.1 183.3 143.9 184.5" fill="none" stroke="#383838" stroke-width="0.9" stroke-linecap="round" opacity="0.5"/>
<path d="M90.4 185.5 Q117.1 182.7 143.9 183.9" fill="none" stroke="rgb(150,150,150)" stroke-width="1.0" stroke-linecap="round"/>
<path d="M122.0 219.2 Q164.5 214.2 206.7 207.6" fill="none" stroke="#383838" stroke-width="0.9" stroke-linecap="round" opacity="0.5"/>
<path d="M122.0 218.6 Q164.5 213.6 206.7 207.0" fill="none" stroke="rgb(167,167,167)" stroke-width="1.0" stroke-linecap="round"/>
<path d="M133.8 208.1 Q169.5 203.3 205.5 203.2" fill="none" stroke="#383838" stroke-width="1.5" stroke-linecap="round" opacity="0.5"/>
<path d="M133.8 207.2 Q169.5 202.4 205.5 202.3" fill="none" stroke="rgb(138,138,138)" stroke-width="1.7" stroke-linecap="round"/>
<path d="M79.0 205.4 Q131.6 206.6 183.9 213.3" fill="none" stroke="#383838" stroke-width="2.3" stroke-linecap="round" opacity="0.5"/>
<path d="M79.0 204.0 Q131.6 205.2 183.9 211.9" fill="none" stroke="rgb(162,162,162)" stroke-width="2.5" stroke-linecap="round"/>
<path d="M79.0 203.4 Q131.6 204.6 183.9 211.2" fill="none" stroke="rgb(188,188,188)" stroke-width="0.9" stroke-linecap="round" opacity="0.8"/>
<ellipse cx="30.8" cy="144.5" rx="6.0" ry="3.2" fill="#161616" opacity="0.9" transform="rotate(-8.0 30.8 144.5)"/>
<ellipse cx="27.0" cy="166.0" rx="4.0" ry="2.0" fill="#161616" opacity="0.9" transform="rotate(20.0 27.0 166.0)"/>
<ellipse cx="92.7" cy="161.5" rx="7.0" ry="1.3" fill="#161616" opacity="0.9" transform="rotate(0.0 92.7 161.5)"/>
<ellipse cx="71.7" cy="176.1" rx="6.0" ry="1.8" fill="#161616" opacity="0.9" transform="rotate(0.0 71.7 176.1)"/>
<ellipse cx="74.0" cy="158.6" rx="3.0" ry="1.0" fill="#161616" opacity="0.9" transform="rotate(0.0 74.0 158.6)"/>
<ellipse cx="113.8" cy="156.5" rx="4.0" ry="1.2" fill="#161616" opacity="0.9" transform="rotate(-5.0 113.8 156.5)"/>
<ellipse cx="149.3" cy="193.3" rx="6.0" ry="1.3" fill="#161616" opacity="0.9" transform="rotate(-5.0 149.3 193.3)"/>
<ellipse cx="165.0" cy="203.8" rx="5.0" ry="1.2" fill="#161616" opacity="0.9" transform="rotate(-8.0 165.0 203.8)"/>
<ellipse cx="81.0" cy="217.0" rx="6.0" ry="1.2" fill="#161616" opacity="0.9" transform="rotate(-4.0 81.0 217.0)"/>
<ellipse cx="44.2" cy="194.6" rx="5.0" ry="1.2" fill="#161616" opacity="0.9" transform="rotate(5.0 44.2 194.6)"/>
<ellipse cx="178.0" cy="160.0" rx="2.0" ry="5.0" fill="#161616" opacity="0.9" transform="rotate(10.0 178.0 160.0)"/>
<ellipse cx="128.0" cy="228.0" rx="5.0" ry="1.1" fill="#161616" opacity="0.9" transform="rotate(-5.0 128.0 228.0)"/>
<ellipse cx="58.0" cy="236.0" rx="5.0" ry="1.2" fill="#161616" opacity="0.9" transform="rotate(-8.0 58.0 236.0)"/>
</g>
</g>
<defs><filter id="nz" x="0" y="0" width="100%" height="100%"><feTurbulence type="fractalNoise" baseFrequency="0.6 0.33" numOctaves="2" seed="5" result="n"/><feColorMatrix type="matrix" values="0 0 0 0 0  0 0 0 0 0  0 0 0 0 0  2.9 0 0 0 -0.9" in="n" result="a"/><feFlood flood-color="#b2b2b2"/><feComposite operator="in" in2="a"/></filter><filter id="nz2" x="0" y="0" width="100%" height="100%"><feTurbulence type="fractalNoise" baseFrequency="0.05 0.07" numOctaves="3" seed="9" result="n"/><feColorMatrix type="matrix" values="0 0 0 0 0  0 0 0 0 0  0 0 0 0 0  2.6 0 0 0 -1.0" in="n" result="a"/><feFlood flood-color="#0a0a0a"/><feComposite operator="in" in2="a"/></filter><radialGradient id="dkr" cx="50%" cy="50%" r="50%"><stop offset="0" stop-color="#0a0a0a" stop-opacity="0.55"/><stop offset="0.6" stop-color="#0a0a0a" stop-opacity="0.35"/><stop offset="1" stop-color="#0a0a0a" stop-opacity="0"/></radialGradient></defs>
<clipPath id="cl2"><rect x="188.0" y="136.9" width="161.8" height="108.2"/></clipPath>
<g clip-path="url(#cl2)">
<rect x="188.0" y="136.9" width="161.8" height="108.2" fill="#2e2e2e"/>
<rect x="188.0" y="136.9" width="161.8" height="108.2" filter="url(#nz)"/>
<rect x="188.0" y="136.9" width="161.8" height="108.2" filter="url(#nz2)" opacity="0.55"/>
<ellipse cx="210.0" cy="152.9" rx="62" ry="30" fill="url(#dkr)"/>
<ellipse cx="283.0" cy="138.9" rx="70" ry="9" fill="url(#dkr)" opacity="0.7"/>
</g>
<defs><linearGradient id="rod" x1="0" y1="0" x2="0" y2="1"><stop offset="0" stop-color="#bcc8da"/><stop offset="0.35" stop-color="#95a8c4"/><stop offset="1" stop-color="#788fb0"/></linearGradient></defs>
<path d="M127.5 146 L169.8 146 L179.7 171.7 L118.9 171.7Z" fill="#ffffff"/>
<rect x="127.4" y="146.2" width="42.8" height="3.1" rx="1.2" fill="url(#rod)"/>
<rect x="126.3" y="149.6" width="45.0" height="3.2" rx="1.2" fill="url(#rod)"/>
<rect x="125.2" y="153.1" width="47.3" height="3.4" rx="1.2" fill="url(#rod)"/>
<rect x="124.0" y="156.8" width="49.7" height="3.5" rx="1.2" fill="url(#rod)"/>
<rect x="122.9" y="160.6" width="52.2" height="3.5" rx="1.2" fill="url(#rod)"/>
<rect x="121.6" y="164.3" width="54.7" height="3.8" rx="1.2" fill="url(#rod)"/>
<path d="M291 160 L339.5 160 L346 171.7 L284.9 171.7Z" fill="#ffffff"/>
<rect x="305" y="136.8" width="16" height="9.4" fill="#303030"/>
<path d="M294.8 146.4 L335.8 146.4 L340.4 168.2 L289.8 168.2Z" fill="#7aa6d0" opacity="0.6"/>
<path d="M294.7 146.2 L296.6 146.2 L292.1 168.3 L289.6 168.3Z" fill="#6ab2ea"/>
<path d="M294.7 146.2 L295.4 146.2 L290.4 168.3 L289.6 168.3Z" fill="#a6d3f5"/>
<path d="M297.5 146.2 L299.4 146.2 L295.5 168.3 L293.0 168.3Z" fill="#6ab2ea"/>
<path d="M297.5 146.2 L298.2 146.2 L293.9 168.3 L293.0 168.3Z" fill="#a6d3f5"/>
<path d="M300.3 146.2 L302.2 146.2 L299.0 168.3 L296.5 168.3Z" fill="#6ab2ea"/>
<path d="M300.3 146.2 L301.0 146.2 L297.4 168.3 L296.5 168.3Z" fill="#a6d3f5"/>
<path d="M303.1 146.2 L305.0 146.2 L302.5 168.3 L300.0 168.3Z" fill="#6ab2ea"/>
<path d="M303.1 146.2 L303.8 146.2 L300.9 168.3 L300.0 168.3Z" fill="#a6d3f5"/>
<path d="M305.9 146.2 L307.8 146.2 L305.9 168.3 L303.4 168.3Z" fill="#6ab2ea"/>
<path d="M305.9 146.2 L306.6 146.2 L304.3 168.3 L303.4 168.3Z" fill="#a6d3f5"/>
<path d="M308.7 146.2 L310.6 146.2 L309.4 168.3 L306.9 168.3Z" fill="#6ab2ea"/>
<path d="M308.7 146.2 L309.4 146.2 L307.8 168.3 L306.9 168.3Z" fill="#a6d3f5"/>
<path d="M311.5 146.2 L313.4 146.2 L312.9 168.3 L310.4 168.3Z" fill="#6ab2ea"/>
<path d="M311.5 146.2 L312.2 146.2 L311.3 168.3 L310.4 168.3Z" fill="#a6d3f5"/>
<path d="M314.4 146.2 L316.2 146.2 L316.4 168.3 L313.9 168.3Z" fill="#6ab2ea"/>
<path d="M314.4 146.2 L315.1 146.2 L314.8 168.3 L313.9 168.3Z" fill="#a6d3f5"/>
<path d="M317.2 146.2 L319.1 146.2 L319.8 168.3 L317.3 168.3Z" fill="#6ab2ea"/>
<path d="M317.2 146.2 L317.9 146.2 L318.2 168.3 L317.3 168.3Z" fill="#a6d3f5"/>
<path d="M320.0 146.2 L321.9 146.2 L323.3 168.3 L320.8 168.3Z" fill="#6ab2ea"/>
<path d="M320.0 146.2 L320.7 146.2 L321.7 168.3 L320.8 168.3Z" fill="#a6d3f5"/>
<path d="M322.8 146.2 L324.7 146.2 L326.8 168.3 L324.3 168.3Z" fill="#6ab2ea"/>
<path d="M322.8 146.2 L323.5 146.2 L325.2 168.3 L324.3 168.3Z" fill="#a6d3f5"/>
<path d="M325.6 146.2 L327.5 146.2 L330.2 168.3 L327.7 168.3Z" fill="#6ab2ea"/>
<path d="M325.6 146.2 L326.3 146.2 L328.6 168.3 L327.7 168.3Z" fill="#a6d3f5"/>
<path d="M328.4 146.2 L330.3 146.2 L333.7 168.3 L331.2 168.3Z" fill="#6ab2ea"/>
<path d="M328.4 146.2 L329.1 146.2 L332.1 168.3 L331.2 168.3Z" fill="#a6d3f5"/>
<path d="M331.2 146.2 L333.1 146.2 L337.2 168.3 L334.7 168.3Z" fill="#6ab2ea"/>
<path d="M331.2 146.2 L331.9 146.2 L335.6 168.3 L334.7 168.3Z" fill="#a6d3f5"/>
<path d="M334.1 146.2 L335.9 146.2 L340.6 168.3 L338.1 168.3Z" fill="#6ab2ea"/>
<path d="M334.1 146.2 L334.8 146.2 L339.0 168.3 L338.1 168.3Z" fill="#a6d3f5"/>
<rect x="143.1" y="237" width="40" height="3" fill="#fff"/>
<text x="166.5" y="234.5" font-family="Liberation Sans, sans-serif" font-weight="bold" font-size="10.2" fill="#fff" stroke="#222" stroke-opacity="0.45" stroke-width="0.7" paint-order="stroke" text-anchor="middle">500 nm</text>
<rect x="306.3" y="238.3" width="40" height="2.9" fill="#fff"/>
<text x="327.4" y="236" font-family="Liberation Sans, sans-serif" font-weight="bold" font-size="10.2" fill="#fff" stroke="#222" stroke-opacity="0.45" stroke-width="0.7" paint-order="stroke" text-anchor="middle">500 nm</text>
</g>
<g id="pb">
<defs><radialGradient id="rg1" cx="50%" cy="50%" r="50%"><stop offset="0" stop-color="#c8e850"/><stop offset="0.42" stop-color="#b4e058"/><stop offset="0.54" stop-color="#60d098"/><stop offset="0.68" stop-color="#34a4d8" stop-opacity="0.9"/><stop offset="0.84" stop-color="#2a74d4" stop-opacity="0.55"/><stop offset="1" stop-color="#2060d0" stop-opacity="0"/></radialGradient><radialGradient id="rge1" cx="50%" cy="50%" r="50%"><stop offset="0" stop-color="#3a8ce0" stop-opacity="0.95"/><stop offset="0.45" stop-color="#2a60d0" stop-opacity="0.7"/><stop offset="1" stop-color="#1a30b8" stop-opacity="0"/></radialGradient><radialGradient id="rgf1" cx="50%" cy="50%" r="50%"><stop offset="0" stop-color="#2a48c8" stop-opacity="0.7"/><stop offset="1" stop-color="#1a30b8" stop-opacity="0"/></radialGradient></defs>
<rect x="450.9" y="26.9" width="50.3" height="59.2" fill="#0b0b98"/>
<ellipse cx="474.9" cy="38.2" rx="13" ry="6.5" fill="url(#rgf1)" opacity="0.60"/>
<ellipse cx="474.9" cy="69.7" rx="14" ry="7" fill="url(#rgf1)" opacity="0.60"/>
<rect x="453.9" y="43.7" width="42.0" height="20.2" rx="4" fill="#1222ac"/>
<path d="M457.9 43.7 H491.9 M457.9 63.9 H491.9" stroke="#07076e" stroke-width="0.7" fill="none" opacity="0.8"/>
<path d="M461.3 44.5 q-3.6 9.2 0 18.4 M488.5 44.5 q3.6 9.2 0 18.4" fill="none" stroke="#4aa0dc" stroke-width="0.55" opacity="0.85"/>
<path d="M454.9 45.1 q-2.8 8.6 0 17.2 M494.9 45.1 q2.8 8.6 0 17.2" fill="none" stroke="#3c84d4" stroke-width="0.55" opacity="0.8"/>
<ellipse cx="474.9" cy="53.7" rx="17" ry="10.5" fill="url(#rge1)"/>
<circle cx="474.9" cy="53.7" r="8.6" fill="url(#rg1)"/>
<circle cx="474.9" cy="53.7" r="3.5" fill="#0a0a86"/>
<defs><radialGradient id="rg2" cx="50%" cy="50%" r="50%"><stop offset="0" stop-color="#c8e850"/><stop offset="0.42" stop-color="#b4e058"/><stop offset="0.54" stop-color="#60d098"/><stop offset="0.68" stop-color="#34a4d8" stop-opacity="0.9"/><stop offset="0.84" stop-color="#2a74d4" stop-opacity="0.55"/><stop offset="1" stop-color="#2060d0" stop-opacity="0"/></radialGradient><radialGradient id="rge2" cx="50%" cy="50%" r="50%"><stop offset="0" stop-color="#3a8ce0" stop-opacity="0.95"/><stop offset="0.45" stop-color="#2a60d0" stop-opacity="0.7"/><stop offset="1" stop-color="#1a30b8" stop-opacity="0"/></radialGradient><radialGradient id="rgf2" cx="50%" cy="50%" r="50%"><stop offset="0" stop-color="#2a48c8" stop-opacity="0.7"/><stop offset="1" stop-color="#1a30b8" stop-opacity="0"/></radialGradient></defs>
<rect x="450.9" y="120.9" width="50.3" height="59.2" fill="#0b0b98"/>
<ellipse cx="474.9" cy="132.1" rx="13" ry="6.5" fill="url(#rgf2)" opacity="1.00"/>
<ellipse cx="474.9" cy="163.6" rx="14" ry="7" fill="url(#rgf2)" opacity="1.00"/>
<rect x="453.9" y="137.6" width="42.0" height="20.2" rx="4" fill="#1222ac"/>
<path d="M457.9 137.6 H491.9 M457.9 157.8 H491.9" stroke="#07076e" stroke-width="0.7" fill="none" opacity="0.8"/>
<path d="M461.3 138.4 q-3.6 9.2 0 18.4 M488.5 138.4 q3.6 9.2 0 18.4" fill="none" stroke="#4aa0dc" stroke-width="0.55" opacity="0.85"/>
<path d="M454.9 139.0 q-2.8 8.6 0 17.2 M494.9 139.0 q2.8 8.6 0 17.2" fill="none" stroke="#3c84d4" stroke-width="0.55" opacity="0.8"/>
<ellipse cx="474.9" cy="147.6" rx="17" ry="10.5" fill="url(#rge2)"/>
<circle cx="474.9" cy="147.6" r="8.6" fill="url(#rg2)"/>
<circle cx="474.9" cy="147.6" r="3.5" fill="#0a0a86"/>
<polyline points="405.3,31.6 409.5,47.5 413.8,68.7 419.0,93.0 423.3,101.5 427.1,112.7 429.6,104.7 432.8,107.8 434.9,102.6 438.1,113.1 442.3,102.6 447.0,94.5 451.9,98.7 456.1,104.7 460.3,100.4 464.1,90.9 465.6,102.6 472.0,98.7 476.2,100.4 480.4,108.9 484.7,103.0 488.9,105.7 493.1,112.5 499.5,101.5 504.4,117.4 509.0,107.8 513.3,103.6 516.0,111.4 518.5,102.6 522.8,79.3 527.0,67.6 529.6,58.1 530.8,66.6 533.4,43.3 536.5,36.9 541.4,34.4 544.2,56.0 548.5,75.0 550.2,84.6 552.7,86.0 556.5,98.3 559.1,106.8 560.7,99.4 562.2,113.1 566.5,110.0 571.8,105.7 577.0,103.0 581.3,98.7 583.4,105.7 588.7,99.4 594.0,101.5 600.3,95.8 603.5,103.0 610.9,97.3 615.8,103.0 619.4,98.7 623.6,99.4 627.8,105.7 631.4,111.0 635.7,104.2 637.8,119.5 640.6,108.9 645.2,117.0 648.0,102.6 654.3,97.3 657.5,80.3 661.7,62.3 664.9,45.4 669.6,35.9" fill="none" stroke="#1f78ee" stroke-width="2" stroke-dasharray="2.2 2.6" stroke-linejoin="round"/>
<polyline points="405.3,148.6 407.4,143.7 410.6,147.1 413.8,158.1 419.0,165.5 422.9,172.9 426.5,195.1 427.5,178.2 430.3,169.7 432.8,186.7 439.2,188.8 441.3,198.3 444.5,192.0 447.6,187.7 449.7,193.0 451.9,188.8 456.1,199.4 459.3,203.6 461.4,196.2 466.7,195.1 468.8,201.5 473.0,196.6 477.3,200.4 479.4,202.6 482.6,197.3 486.8,201.5 488.5,194.1 491.0,199.4 495.3,190.9 497.0,200.9 500.6,193.0 503.7,197.3 506.9,186.7 510.1,185.6 513.9,182.4 516.0,196.2 518.1,183.5 521.1,177.2 523.8,170.8 528.1,168.7 529.6,162.3 531.2,168.3 533.4,158.1 537.6,151.8 538.7,147.5 541.4,141.2 545.3,146.5 549.5,157.0 553.8,167.6 557.4,177.2 560.1,172.9 562.9,195.8 564.3,176.1 566.5,184.6 571.8,187.7 577.0,184.6 580.2,189.9 584.5,196.2 587.6,193.0 592.9,195.1 596.7,200.0 599.7,190.9 604.6,201.5 609.9,192.0 614.1,201.5 618.3,193.0 622.1,186.7 625.7,198.3 627.8,190.9 632.1,201.5 635.3,189.9 637.8,205.1 641.2,183.5 645.4,207.8 648.0,184.6 654.3,187.7 656.0,180.3 658.5,172.9 661.7,167.6 664.9,160.2 668.1,145.4 669.8,141.0" fill="none" stroke="#c4142c" stroke-width="2" stroke-dasharray="2.2 2.6" stroke-linejoin="round"/>
<path d="M405.1 1.8 V223.4 H670.0 V1.8 Z" fill="none" stroke="#000" stroke-width="1.7"/>
<line x1="405.1" y1="223.4" x2="405.1" y2="227.9" stroke="#000" stroke-width="1.5"/>
<line x1="427.2" y1="223.4" x2="427.2" y2="226.2" stroke="#000" stroke-width="1.5"/>
<line x1="449.2" y1="223.4" x2="449.2" y2="227.9" stroke="#000" stroke-width="1.5"/>
<line x1="471.3" y1="223.4" x2="471.3" y2="226.2" stroke="#000" stroke-width="1.5"/>
<line x1="493.4" y1="223.4" x2="493.4" y2="227.9" stroke="#000" stroke-width="1.5"/>
<line x1="515.5" y1="223.4" x2="515.5" y2="226.2" stroke="#000" stroke-width="1.5"/>
<line x1="537.5" y1="223.4" x2="537.5" y2="227.9" stroke="#000" stroke-width="1.5"/>
<line x1="559.6" y1="223.4" x2="559.6" y2="226.2" stroke="#000" stroke-width="1.5"/>
<line x1="581.7" y1="223.4" x2="581.7" y2="227.9" stroke="#000" stroke-width="1.5"/>
<line x1="603.8" y1="223.4" x2="603.8" y2="226.2" stroke="#000" stroke-width="1.5"/>
<line x1="625.9" y1="223.4" x2="625.9" y2="227.9" stroke="#000" stroke-width="1.5"/>
<line x1="647.9" y1="223.4" x2="647.9" y2="226.2" stroke="#000" stroke-width="1.5"/>
<line x1="670.0" y1="223.4" x2="670.0" y2="227.9" stroke="#000" stroke-width="1.5"/>
<g font-family="Liberation Sans, sans-serif" font-weight="bold" fill="#000" stroke="#000" stroke-width="0.3" font-size="18.5" text-anchor="middle">
<text x="405.1" y="245.8">0</text>
<text x="449.2" y="245.8">60</text>
<text x="493.4" y="245.8">120</text>
<text x="537.5" y="245.8">180</text>
<text x="581.7" y="245.8">240</text>
<text x="625.9" y="245.8">300</text>
<text x="670.0" y="245.8">360</text>
<text x="537" y="267.0" font-size="18.7">Azimuthal angle φ(degree)</text>
<text transform="translate(388.1,112.8) rotate(-90)" font-size="18.7">Intensity (a.u.)</text>
</g>
<line x1="570.4" y1="81.8" x2="596" y2="81.8" stroke="#1f78ee" stroke-width="2" stroke-dasharray="2.6 3.4"/>
<text x="601.5" y="86.5" font-family="Liberation Sans, sans-serif" font-weight="bold" font-size="13.6" fill="#000" stroke="#000" stroke-width="0.25">CuBDC</text>
<line x1="567.2" y1="168.8" x2="593" y2="168.8" stroke="#c4142c" stroke-width="2" stroke-dasharray="2.6 3.4"/>
<text x="598" y="173.6" font-family="Liberation Sans, sans-serif" font-weight="bold" font-size="13.6" fill="#000" stroke="#000" stroke-width="0.25">Cu(OH)<tspan dy="3.6" font-size="12.4">2</tspan></text>
</g>
<g id="pc">
<circle cx="207.1" cy="425.9" r="44.5" fill="none" stroke="#c4c4c4" stroke-width="0.6" stroke-dasharray="0.8 1.2"/>
<circle cx="207.1" cy="425.9" r="88.0" fill="none" stroke="#c4c4c4" stroke-width="0.6" stroke-dasharray="0.8 1.2"/>
<line x1="228.9" y1="425.9" x2="317.1" y2="425.9" stroke="#a8a8a8" stroke-width="0.8"/>
<line x1="228.2" y1="420.3" x2="313.4" y2="397.4" stroke="#c8c8c8" stroke-width="0.6" stroke-dasharray="0.8 1.2"/>
<line x1="226.0" y1="415.0" x2="302.4" y2="370.9" stroke="#a8a8a8" stroke-width="0.8"/>
<line x1="222.5" y1="410.5" x2="284.9" y2="348.1" stroke="#c8c8c8" stroke-width="0.6" stroke-dasharray="0.8 1.2"/>
<line x1="218.0" y1="407.0" x2="262.1" y2="330.6" stroke="#a8a8a8" stroke-width="0.8"/>
<line x1="212.7" y1="404.8" x2="235.6" y2="319.6" stroke="#c8c8c8" stroke-width="0.6" stroke-dasharray="0.8 1.2"/>
<line x1="207.1" y1="404.1" x2="207.1" y2="315.9" stroke="#a8a8a8" stroke-width="0.8"/>
<line x1="201.5" y1="404.8" x2="178.6" y2="319.6" stroke="#c8c8c8" stroke-width="0.6" stroke-dasharray="0.8 1.2"/>
<line x1="196.2" y1="407.0" x2="152.1" y2="330.6" stroke="#a8a8a8" stroke-width="0.8"/>
<line x1="191.7" y1="410.5" x2="129.3" y2="348.1" stroke="#c8c8c8" stroke-width="0.6" stroke-dasharray="0.8 1.2"/>
<line x1="188.2" y1="415.0" x2="111.8" y2="370.9" stroke="#a8a8a8" stroke-width="0.8"/>
<line x1="186.0" y1="420.3" x2="100.8" y2="397.4" stroke="#c8c8c8" stroke-width="0.6" stroke-dasharray="0.8 1.2"/>
<line x1="185.3" y1="425.9" x2="97.1" y2="425.9" stroke="#a8a8a8" stroke-width="0.8"/>
<line x1="186.0" y1="431.5" x2="100.8" y2="454.4" stroke="#c8c8c8" stroke-width="0.6" stroke-dasharray="0.8 1.2"/>
<line x1="188.2" y1="436.8" x2="111.8" y2="480.9" stroke="#a8a8a8" stroke-width="0.8"/>
<line x1="191.7" y1="441.3" x2="129.3" y2="503.7" stroke="#c8c8c8" stroke-width="0.6" stroke-dasharray="0.8 1.2"/>
<line x1="196.2" y1="444.8" x2="152.1" y2="521.2" stroke="#a8a8a8" stroke-width="0.8"/>
<line x1="201.5" y1="447.0" x2="178.6" y2="532.2" stroke="#c8c8c8" stroke-width="0.6" stroke-dasharray="0.8 1.2"/>
<line x1="207.1" y1="447.7" x2="207.1" y2="535.9" stroke="#a8a8a8" stroke-width="0.8"/>
<line x1="212.7" y1="447.0" x2="235.6" y2="532.2" stroke="#c8c8c8" stroke-width="0.6" stroke-dasharray="0.8 1.2"/>
<line x1="218.0" y1="444.8" x2="262.1" y2="521.2" stroke="#a8a8a8" stroke-width="0.8"/>
<line x1="222.5" y1="441.3" x2="284.9" y2="503.7" stroke="#c8c8c8" stroke-width="0.6" stroke-dasharray="0.8 1.2"/>
<line x1="226.0" y1="436.8" x2="302.4" y2="480.9" stroke="#a8a8a8" stroke-width="0.8"/>
<line x1="228.2" y1="431.5" x2="313.4" y2="454.4" stroke="#c8c8c8" stroke-width="0.6" stroke-dasharray="0.8 1.2"/>
<circle cx="207.1" cy="425.9" r="66.6" fill="none" stroke="#b0b0b0" stroke-width="0.8"/>
<circle cx="207.1" cy="425.9" r="21.8" fill="#fff" stroke="#b4b4b4" stroke-width="0.9"/>
<circle cx="207.1" cy="425.9" r="110.0" fill="none" stroke="#000" stroke-width="2"/>
<line x1="312.9" y1="425.9" x2="317.1" y2="425.9" stroke="#000" stroke-width="1.2"/>
<line x1="310.8" y1="398.1" x2="313.4" y2="397.4" stroke="#000" stroke-width="1.2"/>
<line x1="298.7" y1="373.0" x2="302.4" y2="370.9" stroke="#000" stroke-width="1.2"/>
<line x1="283.0" y1="350.0" x2="284.9" y2="348.1" stroke="#000" stroke-width="1.2"/>
<line x1="260.0" y1="334.3" x2="262.1" y2="330.6" stroke="#000" stroke-width="1.2"/>
<line x1="234.9" y1="322.2" x2="235.6" y2="319.6" stroke="#000" stroke-width="1.2"/>
<line x1="207.1" y1="320.1" x2="207.1" y2="315.9" stroke="#000" stroke-width="1.2"/>
<line x1="179.3" y1="322.2" x2="178.6" y2="319.6" stroke="#000" stroke-width="1.2"/>
<line x1="154.2" y1="334.3" x2="152.1" y2="330.6" stroke="#000" stroke-width="1.2"/>
<line x1="131.2" y1="350.0" x2="129.3" y2="348.1" stroke="#000" stroke-width="1.2"/>
<line x1="115.5" y1="373.0" x2="111.8" y2="370.9" stroke="#000" stroke-width="1.2"/>
<line x1="103.4" y1="398.1" x2="100.8" y2="397.4" stroke="#000" stroke-width="1.2"/>
<line x1="101.3" y1="425.9" x2="97.1" y2="425.9" stroke="#000" stroke-width="1.2"/>
<line x1="103.4" y1="453.7" x2="100.8" y2="454.4" stroke="#000" stroke-width="1.2"/>
<line x1="115.5" y1="478.8" x2="111.8" y2="480.9" stroke="#000" stroke-width="1.2"/>
<line x1="131.2" y1="501.8" x2="129.3" y2="503.7" stroke="#000" stroke-width="1.2"/>
<line x1="154.2" y1="517.5" x2="152.1" y2="521.2" stroke="#000" stroke-width="1.2"/>
<line x1="179.3" y1="529.6" x2="178.6" y2="532.2" stroke="#000" stroke-width="1.2"/>
<line x1="207.1" y1="531.7" x2="207.1" y2="535.9" stroke="#000" stroke-width="1.2"/>
<line x1="234.9" y1="529.6" x2="235.6" y2="532.2" stroke="#000" stroke-width="1.2"/>
<line x1="260.0" y1="517.5" x2="262.1" y2="521.2" stroke="#000" stroke-width="1.2"/>
<line x1="283.0" y1="501.8" x2="284.9" y2="503.7" stroke="#000" stroke-width="1.2"/>
<line x1="298.7" y1="478.8" x2="302.4" y2="480.9" stroke="#000" stroke-width="1.2"/>
<line x1="310.8" y1="453.7" x2="313.4" y2="454.4" stroke="#000" stroke-width="1.2"/>
<path d="M245.36 425.90 C245.15 425.01 244.95 424.14 244.78 423.27 C244.61 422.39 244.46 421.54 244.35 420.67 C244.23 419.79 244.14 418.93 244.08 418.04 C244.03 417.15 244.00 416.25 244.01 415.32 C244.01 414.38 244.05 413.43 244.11 412.43 C244.17 411.43 244.26 410.40 244.36 409.31 C244.46 408.22 244.59 407.09 244.72 405.90 C244.85 404.70 244.99 403.46 245.11 402.15 C245.24 400.84 245.37 399.46 245.45 398.03 C245.54 396.60 245.62 395.11 245.64 393.56 C245.66 392.01 245.65 390.40 245.56 388.76 C245.48 387.11 245.34 385.40 245.12 383.68 C244.89 381.95 244.60 380.18 244.21 378.40 C243.81 376.63 243.34 374.83 242.75 373.05 C242.16 371.27 241.48 369.47 240.69 367.73 C239.89 365.98 238.99 364.24 237.99 362.57 C236.98 360.91 235.86 359.27 234.64 357.73 C233.43 356.19 232.10 354.70 230.68 353.32 C229.27 351.95 227.75 350.65 226.15 349.48 C224.56 348.31 222.87 347.24 221.13 346.31 C219.40 345.38 217.57 344.56 215.72 343.89 C213.87 343.23 211.95 342.69 210.02 342.31 C208.09 341.93 206.12 341.69 204.16 341.60 C202.20 341.52 200.21 341.58 198.26 341.79 C196.31 342.00 194.36 342.37 192.46 342.87 C190.56 343.38 188.69 344.04 186.88 344.82 C185.08 345.60 183.32 346.54 181.65 347.58 C179.98 348.62 178.37 349.80 176.87 351.08 C175.37 352.35 173.94 353.75 172.63 355.23 C171.32 356.70 170.10 358.28 169.00 359.91 C167.90 361.55 166.91 363.27 166.03 365.02 C165.16 366.77 164.39 368.58 163.74 370.41 C163.09 372.23 162.56 374.10 162.12 375.95 C161.69 377.80 161.37 379.68 161.14 381.52 C160.91 383.36 160.78 385.20 160.73 386.99 C160.68 388.78 160.72 390.56 160.82 392.27 C160.91 393.99 161.09 395.66 161.30 397.28 C161.51 398.89 161.78 400.46 162.07 401.96 C162.35 403.45 162.69 404.89 163.02 406.27 C163.35 407.65 163.71 408.97 164.05 410.23 C164.39 411.49 164.74 412.69 165.06 413.85 C165.39 415.00 165.70 416.10 165.99 417.16 C166.27 418.23 166.54 419.24 166.77 420.23 C167.01 421.23 167.21 422.18 167.39 423.12 C167.56 424.07 167.70 424.98 167.81 425.90 C167.92 426.82 168.00 427.72 168.06 428.63 C168.11 429.54 168.13 430.45 168.14 431.38 C168.15 432.30 168.13 433.23 168.10 434.19 C168.07 435.15 168.02 436.12 167.97 437.12 C167.92 438.12 167.85 439.15 167.79 440.21 C167.73 441.27 167.66 442.36 167.60 443.49 C167.55 444.61 167.49 445.77 167.46 446.98 C167.42 448.18 167.40 449.42 167.40 450.71 C167.40 451.99 167.42 453.32 167.47 454.69 C167.53 456.06 167.61 457.47 167.74 458.93 C167.87 460.38 168.03 461.88 168.25 463.42 C168.47 464.95 168.74 466.53 169.07 468.13 C169.41 469.73 169.80 471.38 170.28 473.03 C170.75 474.69 171.29 476.37 171.92 478.05 C172.56 479.73 173.27 481.43 174.07 483.10 C174.88 484.77 175.78 486.45 176.78 488.07 C177.78 489.69 178.87 491.30 180.06 492.82 C181.25 494.35 182.55 495.84 183.93 497.22 C185.31 498.59 186.79 499.91 188.35 501.09 C189.91 502.27 191.57 503.37 193.27 504.31 C194.98 505.25 196.78 506.07 198.60 506.73 C200.43 507.38 202.33 507.90 204.22 508.25 C206.12 508.59 208.07 508.78 209.99 508.79 C211.92 508.81 213.87 508.66 215.76 508.34 C217.66 508.02 219.56 507.53 221.38 506.90 C223.21 506.26 225.00 505.46 226.70 504.53 C228.41 503.60 230.06 502.51 231.61 501.32 C233.15 500.13 234.62 498.80 235.99 497.40 C237.35 496.00 238.62 494.48 239.79 492.92 C240.95 491.35 242.01 489.70 242.97 488.02 C243.92 486.35 244.77 484.61 245.53 482.87 C246.28 481.14 246.93 479.36 247.50 477.61 C248.06 475.85 248.53 474.08 248.92 472.35 C249.32 470.61 249.62 468.88 249.86 467.20 C250.11 465.51 250.27 463.84 250.39 462.23 C250.51 460.61 250.56 459.02 250.57 457.49 C250.59 455.95 250.55 454.45 250.48 453.00 C250.41 451.56 250.29 450.15 250.16 448.79 C250.02 447.43 249.85 446.12 249.66 444.85 C249.48 443.58 249.26 442.35 249.04 441.17 C248.82 439.98 248.58 438.83 248.33 437.72 C248.08 436.61 247.82 435.54 247.57 434.50 C247.31 433.46 247.04 432.46 246.79 431.48 C246.54 430.50 246.28 429.55 246.04 428.62 C245.80 427.69 245.57 426.79 245.36 425.90Z" fill="none" stroke="#1f6fe6" stroke-width="1.9"/>
<circle cx="207.1" cy="335.3" r="3.6" fill="#1f6fe6"/>
<circle cx="242.8" cy="364.0" r="3.6" fill="#1f6fe6"/>
<circle cx="246.9" cy="402.9" r="3.6" fill="#1f6fe6"/>
<circle cx="242.8" cy="425.9" r="3.6" fill="#1f6fe6"/>
<circle cx="245.6" cy="425.9" r="3.6" fill="#1f6fe6"/>
<circle cx="252.6" cy="451.7" r="3.6" fill="#1f6fe6"/>
<circle cx="247.7" cy="496.0" r="3.6" fill="#1f6fe6"/>
<circle cx="207.1" cy="517.7" r="3.6" fill="#1f6fe6"/>
<circle cx="171.0" cy="488.2" r="3.6" fill="#1f6fe6"/>
<circle cx="165.7" cy="449.3" r="3.6" fill="#1f6fe6"/>
<circle cx="168.6" cy="425.9" r="3.6" fill="#1f6fe6"/>
<circle cx="158.3" cy="397.6" r="3.6" fill="#1f6fe6"/>
<circle cx="164.5" cy="352.1" r="3.6" fill="#1f6fe6"/>
<g font-family="Liberation Sans, sans-serif" font-weight="bold" fill="#000" stroke="#000" stroke-width="0.3" font-size="18" text-anchor="middle">
<text x="207.0" y="306.8">90</text>
<text x="274.0" y="321.4">60</text>
<text x="316.0" y="363.8">30</text>
<text x="326.5" y="431.8">0</text>
<text x="321.0" y="499.4">330</text>
<text x="281.0" y="540.8">300</text>
<text x="207.0" y="556.8">270</text>
<text x="135.0" y="540.8">240</text>
<text x="92.6" y="499.4">210</text>
<text x="77.6" y="431.8">180</text>
<text x="92.6" y="363.8">150</text>
<text x="135.0" y="321.4">120</text>
</g>
<line x1="59.6" y1="315.3" x2="59.6" y2="536.8" stroke="#000" stroke-width="1.3"/>
<line x1="55.0" y1="315.9" x2="59.6" y2="315.9" stroke="#000" stroke-width="1.3"/>
<line x1="55.0" y1="360.0" x2="59.6" y2="360.0" stroke="#000" stroke-width="1.3"/>
<line x1="55.0" y1="404.0" x2="59.6" y2="404.0" stroke="#000" stroke-width="1.3"/>
<line x1="55.0" y1="448.1" x2="59.6" y2="448.1" stroke="#000" stroke-width="1.3"/>
<line x1="55.0" y1="492.1" x2="59.6" y2="492.1" stroke="#000" stroke-width="1.3"/>
<line x1="55.0" y1="536.2" x2="59.6" y2="536.2" stroke="#000" stroke-width="1.3"/>
<line x1="57.0" y1="337.9" x2="59.6" y2="337.9" stroke="#000" stroke-width="1.3"/>
<line x1="57.0" y1="382.0" x2="59.6" y2="382.0" stroke="#000" stroke-width="1.3"/>
<line x1="57.0" y1="426.1" x2="59.6" y2="426.1" stroke="#000" stroke-width="1.3"/>
<line x1="57.0" y1="470.1" x2="59.6" y2="470.1" stroke="#000" stroke-width="1.3"/>
<line x1="57.0" y1="514.2" x2="59.6" y2="514.2" stroke="#000" stroke-width="1.3"/>
<g font-family="Liberation Sans, sans-serif" font-weight="bold" fill="#000" stroke="#000" stroke-width="0.3" font-size="17.6" text-anchor="end">
<text x="52.3" y="321.9">1.0</text>
<text x="52.3" y="366.0">0.8</text>
<text x="52.3" y="410.0">0.6</text>
<text x="52.3" y="454.1">0.6</text>
<text x="52.3" y="498.1">0.8</text>
<text x="52.3" y="542.2">1.0</text>
</g>
<text transform="translate(21.3,423.4) rotate(-90)" font-family="Liberation Sans, sans-serif" font-weight="bold" fill="#000" stroke="#000" stroke-width="0.3" font-size="18.35" stroke="#000" stroke-width="0.3" text-anchor="middle">Abs at 400 nm</text>
</g>
<g id="pd">
<clipPath id="cpd"><rect x="405.8" y="306.8" width="272.7" height="218.8"/></clipPath>
<g clip-path="url(#cpd)">
<path d="M405.60 516.90 C406.67 512.22 409.58 502.87 412.00 488.80 C414.42 474.73 417.42 451.25 420.10 432.50 C422.78 413.75 425.97 389.02 428.10 376.30 C430.23 363.58 431.57 360.42 432.90 356.20 C434.23 351.98 435.02 351.00 436.10 351.00 C437.18 351.00 438.05 351.32 439.40 356.20 C440.75 361.08 442.40 371.60 444.20 380.30 C446.00 389.00 448.20 400.37 450.20 408.40 C452.20 416.43 454.53 423.13 456.20 428.50 C457.87 433.87 458.52 435.58 460.20 440.60 C461.88 445.62 464.28 452.58 466.30 458.60 C468.32 464.62 469.97 470.67 472.30 476.70 C474.63 482.73 477.28 489.45 480.30 494.80 C483.32 500.15 487.05 505.12 490.40 508.80 C493.75 512.48 496.05 514.55 500.40 516.90 C504.75 519.25 510.48 521.57 516.50 522.90 C522.52 524.23 525.92 524.58 536.50 524.90 C547.08 525.22 566.03 525.07 580.00 524.80 C593.97 524.53 609.23 524.10 620.30 523.30 C631.37 522.50 642.05 520.55 646.40 520.00 L646.4 525.6 L405.6 525.6 Z" fill="#dde7f3" fill-opacity="1" stroke="none" style="mix-blend-mode:multiply"/>
<path d="M452.00 525.60 C453.37 525.53 457.15 525.85 460.20 525.20 C463.25 524.55 467.62 524.43 470.30 521.70 C472.98 518.97 474.30 514.97 476.30 508.80 C478.30 502.63 480.28 494.07 482.30 484.70 C484.32 475.33 486.05 466.65 488.40 452.60 C490.75 438.55 494.07 413.78 496.40 400.40 C498.73 387.02 500.40 379.67 502.40 372.30 C504.40 364.93 506.18 359.75 508.40 356.20 C510.62 352.65 513.35 351.33 515.70 351.00 C518.05 350.67 520.37 351.98 522.50 354.20 C524.63 356.42 526.17 358.95 528.50 364.30 C530.83 369.65 534.17 379.68 536.50 386.30 C538.83 392.92 540.58 398.30 542.50 404.00 C544.42 409.70 545.73 413.73 548.00 420.50 C550.27 427.27 553.42 437.23 556.10 444.60 C558.78 451.97 561.43 458.68 564.10 464.70 C566.77 470.72 569.42 476.02 572.10 480.70 C574.78 485.38 576.85 489.12 580.20 492.80 C583.55 496.48 588.18 500.13 592.20 502.80 C596.22 505.47 599.62 507.12 604.30 508.80 C608.98 510.48 614.95 511.75 620.30 512.90 C625.65 514.05 632.05 515.03 636.40 515.70 C640.75 516.37 644.73 516.70 646.40 516.90 L646.4 525.6 L452.0 525.6 Z" fill="#e3f1d9" fill-opacity="1" stroke="none" style="mix-blend-mode:multiply"/>
<path d="M548.00 525.70 C549.02 525.62 552.08 526.33 554.10 525.20 C556.12 524.07 558.43 522.97 560.10 518.90 C561.77 514.83 562.43 510.52 564.10 500.80 C565.77 491.08 568.10 473.98 570.10 460.60 C572.10 447.22 574.08 432.53 576.10 420.50 C578.12 408.47 580.18 397.10 582.20 388.40 C584.22 379.70 586.20 373.33 588.20 368.30 C590.20 363.27 592.07 360.35 594.20 358.20 C596.33 356.05 598.78 355.20 601.00 355.40 C603.22 355.60 605.28 356.25 607.50 359.40 C609.72 362.55 612.17 368.80 614.30 374.30 C616.43 379.80 617.95 386.05 620.30 392.40 C622.65 398.75 625.72 405.72 628.40 412.40 C631.08 419.08 633.73 426.47 636.40 432.50 C639.07 438.53 642.07 444.45 644.40 448.60 C646.73 452.75 648.38 455.40 650.40 457.40 C652.42 459.40 654.82 459.05 656.50 460.60 C658.18 462.15 658.50 463.68 660.50 466.70 C662.50 469.72 665.48 474.48 668.50 478.70 C671.52 482.92 675.68 488.52 678.60 492.00 C681.52 495.48 684.77 498.33 686.00 499.60 L686.0 525.6 L548.0 525.6 Z" fill="#f9e0ee" fill-opacity="1" stroke="none" style="mix-blend-mode:multiply"/>
<path d="M405.60 516.90 C406.67 512.22 409.58 502.87 412.00 488.80 C414.42 474.73 417.42 451.25 420.10 432.50 C422.78 413.75 425.97 389.02 428.10 376.30 C430.23 363.58 431.57 360.42 432.90 356.20 C434.23 351.98 435.02 351.00 436.10 351.00 C437.18 351.00 438.05 351.32 439.40 356.20 C440.75 361.08 442.40 371.60 444.20 380.30 C446.00 389.00 448.20 400.37 450.20 408.40 C452.20 416.43 454.53 423.13 456.20 428.50 C457.87 433.87 458.52 435.58 460.20 440.60 C461.88 445.62 464.28 452.58 466.30 458.60 C468.32 464.62 469.97 470.67 472.30 476.70 C474.63 482.73 477.28 489.45 480.30 494.80 C483.32 500.15 487.05 505.12 490.40 508.80 C493.75 512.48 496.05 514.55 500.40 516.90 C504.75 519.25 510.48 521.57 516.50 522.90 C522.52 524.23 525.92 524.58 536.50 524.90 C547.08 525.22 566.03 525.07 580.00 524.80 C593.97 524.53 609.23 524.10 620.30 523.30 C631.37 522.50 642.05 520.55 646.40 520.00" fill="none" stroke="#2a78dc" stroke-width="2" stroke-linejoin="round"/>
<path d="M452.00 525.60 C453.37 525.53 457.15 525.85 460.20 525.20 C463.25 524.55 467.62 524.43 470.30 521.70 C472.98 518.97 474.30 514.97 476.30 508.80 C478.30 502.63 480.28 494.07 482.30 484.70 C484.32 475.33 486.05 466.65 488.40 452.60 C490.75 438.55 494.07 413.78 496.40 400.40 C498.73 387.02 500.40 379.67 502.40 372.30 C504.40 364.93 506.18 359.75 508.40 356.20 C510.62 352.65 513.35 351.33 515.70 351.00 C518.05 350.67 520.37 351.98 522.50 354.20 C524.63 356.42 526.17 358.95 528.50 364.30 C530.83 369.65 534.17 379.68 536.50 386.30 C538.83 392.92 540.58 398.30 542.50 404.00 C544.42 409.70 545.73 413.73 548.00 420.50 C550.27 427.27 553.42 437.23 556.10 444.60 C558.78 451.97 561.43 458.68 564.10 464.70 C566.77 470.72 569.42 476.02 572.10 480.70 C574.78 485.38 576.85 489.12 580.20 492.80 C583.55 496.48 588.18 500.13 592.20 502.80 C596.22 505.47 599.62 507.12 604.30 508.80 C608.98 510.48 614.95 511.75 620.30 512.90 C625.65 514.05 632.05 515.03 636.40 515.70 C640.75 516.37 644.73 516.70 646.40 516.90" fill="none" stroke="#4aa82c" stroke-width="2" stroke-linejoin="round"/>
<path d="M548.00 525.70 C549.02 525.62 552.08 526.33 554.10 525.20 C556.12 524.07 558.43 522.97 560.10 518.90 C561.77 514.83 562.43 510.52 564.10 500.80 C565.77 491.08 568.10 473.98 570.10 460.60 C572.10 447.22 574.08 432.53 576.10 420.50 C578.12 408.47 580.18 397.10 582.20 388.40 C584.22 379.70 586.20 373.33 588.20 368.30 C590.20 363.27 592.07 360.35 594.20 358.20 C596.33 356.05 598.78 355.20 601.00 355.40 C603.22 355.60 605.28 356.25 607.50 359.40 C609.72 362.55 612.17 368.80 614.30 374.30 C616.43 379.80 617.95 386.05 620.30 392.40 C622.65 398.75 625.72 405.72 628.40 412.40 C631.08 419.08 633.73 426.47 636.40 432.50 C639.07 438.53 642.07 444.45 644.40 448.60 C646.73 452.75 648.38 455.40 650.40 457.40 C652.42 459.40 654.82 459.05 656.50 460.60 C658.18 462.15 658.50 463.68 660.50 466.70 C662.50 469.72 665.48 474.48 668.50 478.70 C671.52 482.92 675.68 488.52 678.60 492.00 C681.52 495.48 684.77 498.33 686.00 499.60" fill="none" stroke="#d0288c" stroke-width="2" stroke-linejoin="round"/>
<path d="M405.60 518.90 C406.67 514.55 409.58 504.52 412.00 492.80 C414.42 481.08 417.42 462.00 420.10 448.60 C422.78 435.20 425.57 420.10 428.10 412.40 C430.63 404.70 433.28 402.73 435.30 402.40 C437.32 402.07 438.38 405.38 440.20 410.40 C442.02 415.42 444.20 425.47 446.20 432.50 C448.20 439.53 449.87 445.90 452.20 452.60 C454.53 459.30 457.52 466.33 460.20 472.70 C462.88 479.07 465.62 485.78 468.30 490.80 C470.98 495.82 473.30 499.12 476.30 502.80 C479.30 506.48 482.28 510.02 486.30 512.90 C490.32 515.78 494.70 518.23 500.40 520.10 C506.10 521.97 507.23 523.28 520.50 524.10 C533.77 524.92 563.42 524.98 580.00 525.00 C596.58 525.02 608.93 524.78 620.00 524.20 C631.07 523.62 642.00 521.95 646.40 521.50" fill="none" stroke="#2a78dc" stroke-width="1.9" stroke-dasharray="2.8 2.4" stroke-linejoin="round"/>
<path d="M456.00 525.70 C457.72 525.58 463.25 526.13 466.30 525.00 C469.35 523.87 471.97 522.27 474.30 518.90 C476.63 515.53 477.95 512.50 480.30 504.80 C482.65 497.10 485.72 483.40 488.40 472.70 C491.08 462.00 493.73 449.30 496.40 440.60 C499.07 431.90 501.52 425.33 504.40 420.50 C507.28 415.67 511.02 412.60 513.70 411.60 C516.38 410.60 518.03 412.35 520.50 414.50 C522.97 416.65 525.48 419.48 528.50 424.50 C531.52 429.52 535.35 437.57 538.60 444.60 C541.85 451.63 545.08 460.35 548.00 466.70 C550.92 473.05 553.42 478.02 556.10 482.70 C558.78 487.38 561.43 491.45 564.10 494.80 C566.77 498.15 568.75 500.13 572.10 502.80 C575.45 505.47 579.52 508.45 584.20 510.80 C588.88 513.15 594.18 515.22 600.20 516.90 C606.22 518.58 612.60 520.03 620.30 520.90 C628.00 521.77 642.05 521.90 646.40 522.10" fill="none" stroke="#4aa82c" stroke-width="1.9" stroke-dasharray="2.8 2.4" stroke-linejoin="round"/>
<path d="M548.00 525.70 C549.02 525.63 552.08 526.23 554.10 525.30 C556.12 524.37 558.30 523.52 560.10 520.10 C561.90 516.68 563.03 512.70 564.90 504.80 C566.77 496.90 569.08 482.73 571.30 472.70 C573.52 462.67 576.05 451.97 578.20 444.60 C580.35 437.23 581.87 432.98 584.20 428.50 C586.53 424.02 589.40 420.10 592.20 417.70 C595.00 415.30 598.32 413.97 601.00 414.10 C603.68 414.23 605.75 415.43 608.30 418.50 C610.85 421.57 613.63 427.48 616.30 432.50 C618.97 437.52 621.62 443.57 624.30 448.60 C626.98 453.63 629.72 458.55 632.40 462.70 C635.08 466.85 637.73 470.37 640.40 473.50 C643.07 476.63 646.05 479.90 648.40 481.50 C650.75 483.10 652.48 481.88 654.50 483.10 C656.52 484.32 658.17 486.65 660.50 488.80 C662.83 490.95 665.48 493.67 668.50 496.00 C671.52 498.33 675.68 500.90 678.60 502.80 C681.52 504.70 684.77 506.63 686.00 507.40" fill="none" stroke="#d0288c" stroke-width="1.9" stroke-dasharray="2.8 2.4" stroke-linejoin="round"/>
</g>
<rect x="405.8" y="306.8" width="272.7" height="218.8" fill="none" stroke="#000" stroke-width="1.6"/>
<line x1="405.8" y1="525.6" x2="405.8" y2="530.1" stroke="#000" stroke-width="1.4"/>
<line x1="445.8" y1="525.6" x2="445.8" y2="528.4" stroke="#000" stroke-width="1.4"/>
<line x1="485.8" y1="525.6" x2="485.8" y2="530.1" stroke="#000" stroke-width="1.4"/>
<line x1="525.8" y1="525.6" x2="525.8" y2="528.4" stroke="#000" stroke-width="1.4"/>
<line x1="565.8" y1="525.6" x2="565.8" y2="530.1" stroke="#000" stroke-width="1.4"/>
<line x1="605.8" y1="525.6" x2="605.8" y2="528.4" stroke="#000" stroke-width="1.4"/>
<line x1="645.8" y1="525.6" x2="645.8" y2="530.1" stroke="#000" stroke-width="1.4"/>
<line x1="401.3" y1="525.6" x2="405.8" y2="525.6" stroke="#000" stroke-width="1.4"/>
<line x1="403.0" y1="481.9" x2="405.8" y2="481.9" stroke="#000" stroke-width="1.4"/>
<line x1="401.3" y1="438.2" x2="405.8" y2="438.2" stroke="#000" stroke-width="1.4"/>
<line x1="403.0" y1="394.5" x2="405.8" y2="394.5" stroke="#000" stroke-width="1.4"/>
<line x1="401.3" y1="350.8" x2="405.8" y2="350.8" stroke="#000" stroke-width="1.4"/>
<line x1="403.0" y1="307.1" x2="405.8" y2="307.1" stroke="#000" stroke-width="1.4"/>
<g font-family="Liberation Sans, sans-serif" font-weight="bold" fill="#000" stroke="#000" stroke-width="0.3" font-size="18.3" text-anchor="middle">
<text x="405.8" y="548.1">400</text>
<text x="485.8" y="548.1">500</text>
<text x="565.8" y="548.1">600</text>
<text x="645.8" y="548.1">700</text>
<text x="398.3" y="531.5" text-anchor="end">0.0</text>
<text x="398.3" y="443.8" text-anchor="end">0.5</text>
<text x="398.3" y="356.2" text-anchor="end">1.0</text>
<text x="535" y="569" font-size="18.6">Wavelength (nm)</text>
<text transform="translate(365.8,415.4) rotate(-90)" font-size="18.45">Normalized PL Intensity</text>
</g>
<g font-family="Liberation Sans, sans-serif" font-weight="bold" fill="#000" font-size="12.3" text-anchor="middle">
<text x="440.4" y="345.8">DPA</text><text x="520.4" y="345.8">Berberine</text><text x="614.8" y="346.2">Congo Red</text>
</g>
<line x1="557.2" y1="319.8" x2="588.4" y2="319.8" stroke="#000" stroke-width="1.9"/>
<path d="M593.8 324.6 L597.2 315 M598.2 324.6 L601.6 315" stroke="#000" stroke-width="1.5" fill="none"/>
<line x1="625.6" y1="319.8" x2="659" y2="319.8" stroke="#000" stroke-width="1.9" stroke-dasharray="3.2 4.45"/>
<path d="M663 324.6 H672.2 M667.6 324.6 V316.6" stroke="#000" stroke-width="1.4" fill="none"/>
</g>

<g font-family="Liberation Sans, sans-serif" font-weight="bold" fill="#000">
<text x="0.2" y="18.6" font-size="25.5">a</text>
<text x="371.2" y="18.7" font-size="25.5">b</text>
<text x="-0.4" y="297.8" font-size="25">c</text>
<text x="339.2" y="298" font-size="25">d</text>
</g>

</svg>
</body></html>
